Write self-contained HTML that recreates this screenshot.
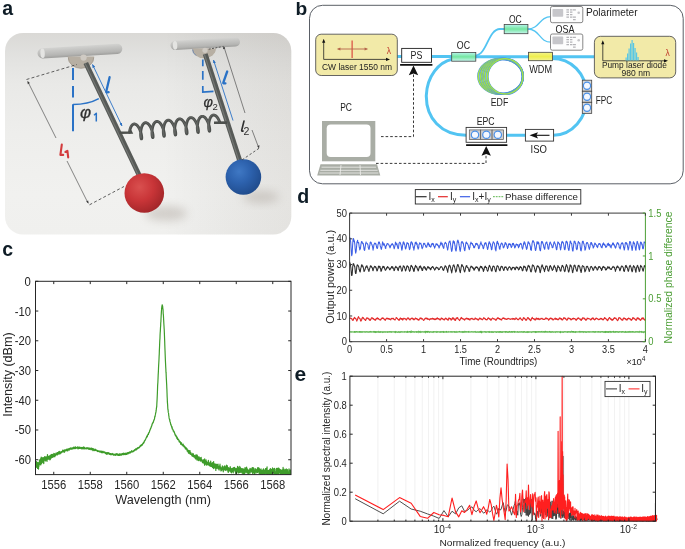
<!DOCTYPE html>
<html><head><meta charset="utf-8"><style>
html,body{margin:0;padding:0;background:#fff;width:685px;height:549px;overflow:hidden}
svg{display:block;font-family:"Liberation Sans", sans-serif;will-change:transform}
</style></head><body>
<svg width="685" height="549" viewBox="0 0 685 549">
<text x="2.2" y="15" font-size="19.5" text-anchor="start" fill="#0e1c26" font-weight="bold">a</text>
<text x="295.5" y="14.5" font-size="19.2" text-anchor="start" fill="#0e1c26" font-weight="bold">b</text>
<text x="2.2" y="256.4" font-size="19.5" text-anchor="start" fill="#0e1c26" font-weight="bold">c</text>
<text x="297.2" y="203.4" font-size="19.6" text-anchor="start" fill="#0e1c26" font-weight="bold">d</text>
<text x="294.6" y="380.5" font-size="21" text-anchor="start" fill="#0e1c26" font-weight="bold">e</text>
<defs>
<linearGradient id="abg" x1="0" y1="0" x2="0" y2="1">
<stop offset="0" stop-color="#dad9d6"/><stop offset="0.12" stop-color="#e2e2e0"/><stop offset="0.25" stop-color="#e9e9e7"/><stop offset="0.5" stop-color="#eeeeec"/><stop offset="0.8" stop-color="#f1f1ef"/><stop offset="1" stop-color="#f0f0ee"/></linearGradient>
<linearGradient id="abg2" x1="0" y1="0" x2="1" y2="0">
<stop offset="0" stop-color="#000" stop-opacity="0"/><stop offset="0.55" stop-color="#000" stop-opacity="0"/><stop offset="1" stop-color="#403020" stop-opacity="0.07"/></linearGradient>
<linearGradient id="bar" x1="0" y1="0" x2="0" y2="1">
<stop offset="0" stop-color="#d3d3d1"/><stop offset="0.3" stop-color="#c6c6c4"/><stop offset="0.75" stop-color="#b5b5b3"/><stop offset="1" stop-color="#9f9f9d"/></linearGradient>
<radialGradient id="redb" cx="0.38" cy="0.35" r="0.7">
<stop offset="0" stop-color="#d9504f"/><stop offset="0.5" stop-color="#c93538"/><stop offset="1" stop-color="#a02528"/></radialGradient>
<radialGradient id="blueb" cx="0.38" cy="0.35" r="0.7">
<stop offset="0" stop-color="#3f78c4"/><stop offset="0.45" stop-color="#2d62ae"/><stop offset="1" stop-color="#1f4a8a"/></radialGradient>
<filter id="blur4" x="-50%" y="-50%" width="200%" height="200%"><feGaussianBlur stdDeviation="4"/></filter>
<filter id="blur5" x="-50%" y="-50%" width="200%" height="200%"><feGaussianBlur stdDeviation="5"/></filter>
<filter id="blur1" x="-50%" y="-50%" width="200%" height="200%"><feGaussianBlur stdDeviation="0.6"/></filter>
<marker id="arrK" viewBox="0 0 10 10" refX="9" refY="5" markerWidth="4" markerHeight="4" orient="auto-start-reverse"><path d="M0,1 L10,5 L0,9 z" fill="#222"/></marker>
<marker id="arrB" viewBox="0 0 10 10" refX="9" refY="5" markerWidth="4" markerHeight="4" orient="auto-start-reverse"><path d="M0,1 L10,5 L0,9 z" fill="#2a6fc0"/></marker>
</defs>
<rect x="5" y="33" width="286.3" height="201.5" rx="18" fill="url(#abg)"/>
<rect x="5" y="33" width="286.3" height="201.5" rx="18" fill="url(#abg2)"/>
<ellipse cx="166" cy="213.5" rx="21" ry="7.5" fill="#8a7f74" opacity="0.3" filter="url(#blur5)"/>
<ellipse cx="261" cy="197" rx="18" ry="6.5" fill="#8a7f74" opacity="0.28" filter="url(#blur5)"/>
<g transform="translate(37.5,53.6) rotate(-3.44)">
<rect x="0" y="-5.1" width="84.95" height="10.2" rx="5.1" fill="url(#bar)"/>
<ellipse cx="5.1" cy="0" rx="2.2" ry="4.8" fill="#e4e4e2"/>
</g>
<g transform="translate(170.5,45.6) rotate(-3.21)">
<rect x="0" y="-4.6" width="69.61" height="9.2" rx="4.6" fill="url(#bar)"/>
<ellipse cx="4.6" cy="0" rx="2.2" ry="4.3" fill="#e4e4e2"/>
</g>
<path d="M67.8,56.5 A13.2,11.8 0 0 0 94.2,56.5 Z" fill="#b7afa3"/>
<path d="M68.3,57.5 A12.7,10.8 0 0 0 93.7,57.5" fill="none" stroke="#a0978b" stroke-width="0.8"/>
<circle cx="83.6" cy="57.6" r="3.1" fill="#cfcac3"/>
<path d="M192.3,48.6 A11.8,9.6 0 0 0 215.9,48.6 Z" fill="#b7afa3"/>
<path d="M192.6,49.5 A11.2,8.5 0 0 0 196,55.5" fill="none" stroke="#5a7aa8" stroke-width="0.8"/>
<circle cx="205" cy="50.3" r="2.6" fill="#cfcac3"/>
<line x1="85.8" y1="63" x2="140.5" y2="178" stroke="#575a57" stroke-width="5"/>
<line x1="84.9" y1="63" x2="139.6" y2="178" stroke="#747774" stroke-width="1.1"/>
<line x1="205.2" y1="54" x2="240.5" y2="163" stroke="#575a57" stroke-width="5"/>
<line x1="204.3" y1="54" x2="239.6" y2="163" stroke="#747774" stroke-width="1.1"/>
<path d="M129.5,132.4 L129.58,131.77 L129.68,131.15 L129.79,130.53 L129.93,129.92 L130.07,129.33 L130.24,128.75 L130.42,128.19 L130.62,127.65 L130.84,127.14 L131.07,126.67 L131.31,126.22 L131.58,125.81 L131.85,125.43 L132.14,125.1 L132.44,124.81 L132.75,124.56 L133.07,124.36 L133.4,124.2 L133.74,124.09 L134.08,124.03 L134.44,124.02 L134.79,124.05 L135.15,124.14 L135.51,124.26 L135.86,124.44 L136.22,124.66 L136.58,124.92 L136.93,125.23 L137.27,125.57 L137.61,125.96 L137.94,126.37 L138.27,126.82 L138.58,127.3 L138.88,127.81 L139.17,128.34 L139.45,128.89 L139.71,129.45 L139.96,130.03 L140.19,130.62 L140.41,131.21 L140.61,131.8 L140.8,132.39 L140.97,132.98 L141.12,133.56 L141.25,134.12 L141.37,134.67 L141.47,135.19 L141.55,135.69 L141.62,136.17 L141.67,136.61 L141.71,137.02 L141.73,137.4 L141.74,137.74 L141.73,138.04 L141.71,138.29 L141.69,138.51 L141.65,138.67 L141.6,138.8 L141.55,138.87 L141.48,138.9 L141.42,138.87 L141.35,138.8 L141.27,138.69 L141.2,138.52 L141.12,138.31 L141.05,138.06 L140.98,137.76 L140.91,137.42 L140.85,137.04 L140.8,136.62 L140.75,136.17 L140.71,135.69 L140.68,135.17 L140.66,134.63 L140.66,134.07 L140.67,133.49 L140.69,132.89 L140.72,132.28 L140.78,131.66 L140.84,131.04 L140.93,130.41 L141.03,129.79 L141.14,129.17 L141.28,128.56 L141.43,127.97 L141.6,127.39 L141.78,126.84 L141.98,126.3 L142.2,125.8 L142.43,125.32 L142.68,124.88 L142.94,124.48 L143.22,124.11 L143.51,123.78 L143.81,123.49 L144.13,123.25 L144.45,123.06 L144.78,122.91 L145.12,122.8 L145.46,122.75 L145.82,122.74 L146.17,122.78 L146.53,122.87 L146.89,123 L147.25,123.19 L147.6,123.41 L147.96,123.68 L148.31,123.99 L148.65,124.34 L148.99,124.73 L149.32,125.15 L149.64,125.6 L149.95,126.09 L150.25,126.6 L150.54,127.13 L150.82,127.68 L151.08,128.25 L151.33,128.83 L151.56,129.42 L151.77,130.01 L151.97,130.6 L152.15,131.19 L152.32,131.78 L152.47,132.35 L152.6,132.91 L152.72,133.46 L152.81,133.98 L152.9,134.48 L152.96,134.95 L153.01,135.39 L153.04,135.8 L153.06,136.17 L153.07,136.5 L153.06,136.79 L153.04,137.04 L153.02,137.25 L152.98,137.41 L152.93,137.53 L152.87,137.6 L152.81,137.62 L152.74,137.59 L152.67,137.51 L152.6,137.39 L152.52,137.22 L152.45,137 L152.37,136.74 L152.3,136.44 L152.24,136.09 L152.18,135.71 L152.12,135.29 L152.08,134.83 L152.04,134.34 L152.01,133.82 L152,133.28 L151.99,132.72 L152,132.13 L152.03,131.53 L152.06,130.92 L152.12,130.3 L152.19,129.67 L152.27,129.05 L152.37,128.42 L152.49,127.81 L152.63,127.2 L152.78,126.61 L152.95,126.04 L153.14,125.48 L153.34,124.95 L153.56,124.45 L153.8,123.98 L154.05,123.55 L154.31,123.14 L154.59,122.78 L154.88,122.46 L155.19,122.18 L155.5,121.94 L155.83,121.75 L156.16,121.61 L156.5,121.51 L156.84,121.46 L157.2,121.46 L157.55,121.51 L157.91,121.6 L158.27,121.75 L158.63,121.93 L158.98,122.17 L159.34,122.44 L159.69,122.76 L160.03,123.11 L160.37,123.5 L160.7,123.93 L161.02,124.39 L161.33,124.87 L161.63,125.39 L161.91,125.92 L162.19,126.48 L162.45,127.04 L162.69,127.63 L162.92,128.21 L163.13,128.81 L163.33,129.4 L163.51,129.99 L163.67,130.58 L163.82,131.15 L163.95,131.71 L164.06,132.25 L164.16,132.77 L164.24,133.26 L164.3,133.73 L164.35,134.17 L164.38,134.57 L164.4,134.93 L164.4,135.26 L164.4,135.55 L164.37,135.8 L164.34,136 L164.3,136.15 L164.25,136.26 L164.2,136.32 L164.13,136.33 L164.07,136.3 L163.99,136.22 L163.92,136.09 L163.85,135.91 L163.77,135.69 L163.7,135.42 L163.63,135.11 L163.56,134.76 L163.5,134.37 L163.45,133.95 L163.4,133.49 L163.37,132.99 L163.34,132.47 L163.33,131.93 L163.33,131.36 L163.34,130.77 L163.36,130.17 L163.4,129.56 L163.46,128.94 L163.53,128.31 L163.62,127.68 L163.72,127.06 L163.84,126.45 L163.98,125.84 L164.14,125.25 L164.31,124.68 L164.5,124.13 L164.71,123.61 L164.93,123.11 L165.16,122.64 L165.42,122.21 L165.68,121.81 L165.96,121.46 L166.26,121.14 L166.56,120.87 L166.88,120.64 L167.2,120.45 L167.54,120.31 L167.88,120.22 L168.22,120.18 L168.58,120.19 L168.93,120.24 L169.29,120.34 L169.65,120.49 L170.01,120.68 L170.36,120.92 L170.72,121.2 L171.07,121.52 L171.41,121.88 L171.75,122.28 L172.07,122.71 L172.39,123.17 L172.7,123.66 L173,124.18 L173.28,124.71 L173.56,125.27 L173.81,125.84 L174.06,126.42 L174.28,127.01 L174.49,127.61 L174.69,128.2 L174.87,128.79 L175.03,129.37 L175.17,129.94 L175.3,130.5 L175.41,131.04 L175.5,131.55 L175.58,132.05 L175.64,132.51 L175.69,132.94 L175.72,133.34 L175.73,133.7 L175.74,134.02 L175.73,134.31 L175.7,134.54 L175.67,134.74 L175.63,134.89 L175.58,134.99 L175.52,135.05 L175.46,135.05 L175.39,135.01 L175.32,134.92 L175.24,134.79 L175.17,134.6 L175.09,134.38 L175.02,134.1 L174.95,133.79 L174.89,133.43 L174.83,133.04 L174.78,132.61 L174.73,132.14 L174.7,131.65 L174.67,131.12 L174.66,130.57 L174.66,130 L174.67,129.41 L174.7,128.81 L174.74,128.19 L174.8,127.57 L174.87,126.95 L174.96,126.32 L175.07,125.7 L175.19,125.09 L175.34,124.48 L175.49,123.9 L175.67,123.33 L175.86,122.78 L176.07,122.26 L176.29,121.76 L176.53,121.3 L176.79,120.88 L177.05,120.48 L177.34,120.13 L177.63,119.82 L177.94,119.55 L178.25,119.33 L178.58,119.15 L178.91,119.02 L179.26,118.94 L179.6,118.9 L179.96,118.91 L180.31,118.97 L180.67,119.08 L181.03,119.23 L181.39,119.43 L181.74,119.67 L182.1,119.96 L182.45,120.29 L182.79,120.65 L183.12,121.05 L183.45,121.49 L183.77,121.95 L184.08,122.45 L184.37,122.97 L184.65,123.51 L184.92,124.07 L185.18,124.64 L185.42,125.22 L185.65,125.81 L185.85,126.41 L186.05,127 L186.22,127.59 L186.38,128.17 L186.52,128.74 L186.65,129.29 L186.76,129.83 L186.85,130.34 L186.92,130.83 L186.98,131.29 L187.03,131.72 L187.05,132.11 L187.07,132.47 L187.07,132.78 L187.06,133.06 L187.03,133.29 L187,133.48 L186.96,133.62 L186.91,133.72 L186.85,133.77 L186.78,133.77 L186.71,133.72 L186.64,133.63 L186.57,133.49 L186.49,133.3 L186.42,133.06 L186.35,132.78 L186.28,132.46 L186.21,132.1 L186.15,131.7 L186.1,131.27 L186.06,130.8 L186.03,130.3 L186,129.77 L185.99,129.22 L185.99,128.64 L186.01,128.05 L186.04,127.45 L186.08,126.83 L186.14,126.21 L186.22,125.58 L186.31,124.96 L186.42,124.34 L186.55,123.72 L186.69,123.12 L186.85,122.54 L187.03,121.97 L187.22,121.43 L187.43,120.91 L187.66,120.42 L187.9,119.96 L188.15,119.54 L188.42,119.15 L188.71,118.81 L189,118.5 L189.31,118.24 L189.63,118.02 L189.96,117.85 L190.29,117.73 L190.64,117.65 L190.98,117.62 L191.34,117.64 L191.69,117.7 L192.05,117.82 L192.41,117.98 L192.77,118.18 L193.13,118.43 L193.48,118.72 L193.83,119.05 L194.17,119.42 L194.5,119.83 L194.83,120.27 L195.14,120.74 L195.45,121.24 L195.74,121.76 L196.02,122.3 L196.29,122.86 L196.55,123.44 L196.78,124.02 L197.01,124.61 L197.21,125.2 L197.4,125.8 L197.58,126.39 L197.74,126.97 L197.88,127.53 L198,128.09 L198.1,128.62 L198.19,129.13 L198.27,129.61 L198.32,130.07 L198.36,130.49 L198.39,130.88 L198.4,131.23 L198.4,131.54 L198.39,131.81 L198.36,132.04 L198.33,132.22 L198.28,132.36 L198.23,132.45 L198.17,132.49 L198.11,132.49 L198.04,132.43 L197.96,132.33 L197.89,132.18 L197.82,131.99 L197.74,131.75 L197.67,131.46 L197.6,131.14 L197.54,130.77 L197.48,130.37 L197.43,129.93 L197.39,129.45 L197.36,128.95 L197.34,128.42 L197.33,127.86 L197.33,127.29 L197.35,126.69 L197.38,126.09 L197.42,125.47 L197.49,124.85 L197.56,124.22 L197.66,123.59 L197.77,122.97 L197.9,122.36 L198.04,121.76 L198.2,121.18 L198.38,120.62 L198.58,120.08 L198.79,119.56 L199.02,119.08 L199.26,118.63 L199.52,118.21 L199.79,117.83 L200.08,117.48 L200.38,117.18 L200.69,116.93 L201.01,116.72 L201.33,116.55 L201.67,116.43 L202.02,116.36 L202.36,116.34 L202.72,116.36 L203.08,116.43 L203.43,116.55 L203.79,116.72 L204.15,116.93 L204.51,117.19 L204.86,117.48 L205.2,117.82 L205.55,118.2 L205.88,118.61 L206.2,119.05 L206.52,119.52 L206.82,120.02 L207.11,120.55 L207.39,121.09 L207.66,121.66 L207.91,122.23 L208.15,122.82 L208.37,123.41 L208.57,124 L208.76,124.6 L208.93,125.18 L209.09,125.76 L209.23,126.33 L209.35,126.88 L209.45,127.41 L209.54,127.91 L209.61,128.39 L209.66,128.85 L209.7,129.26 L209.73,129.65 L209.74,129.99 L209.73,130.3 L209.72,130.57 L209.69,130.79 L209.66,130.96 L209.61,131.09 L209.56,131.18 L209.5,131.21 L209.43,131.2 L209.36,131.14 L209.29,131.03 L209.21,130.88 L209.14,130.68 L209.06,130.43 L208.99,130.14 L208.93,129.81 L208.86,129.44 L208.81,129.03 L208.76,128.58 L208.72,128.11 L208.69,127.6 L208.67,127.06 L208.66,126.51 L208.66,125.93 L208.68,125.33 L208.72,124.72 L208.76,124.11 L208.83,123.48 L208.91,122.86 L209.01,122.23 L209.12,121.61 L209.25,121 L209.4,120.41 L209.56,119.83 L209.74,119.26 L209.94,118.73 L210.15,118.22 L210.39,117.74 L210.63,117.29 L210.89,116.87 L211.16,116.5 L211.45,116.16 L211.75,115.87 L212.06,115.62 L212.38,115.41 L212.71,115.25 L213.05,115.14 L213.4,115.08 L213.75,115.06 L214.1,115.09 L214.46,115.17 L214.81,115.29 L215.17,115.47 L215.53,115.68 L215.89,115.94 L216.24,116.25 L216.58,116.59 L216.92,116.97 L217.26,117.38 L217.58,117.83 L217.89,118.31 L218.2,118.81 L218.49,119.34 L218.76,119.89 L219.03,120.45 L219.28,121.03 L219.51,121.62 L219.73,122.21" fill="none" stroke="#4d504d" stroke-width="2.9" stroke-linejoin="round" stroke-linecap="round"/>
<path d="M129.5,132.4 L129.58,131.77 L129.68,131.15 L129.79,130.53 L129.93,129.92 L130.07,129.33 L130.24,128.75 L130.42,128.19 L130.62,127.65 L130.84,127.14 L131.07,126.67 L131.31,126.22 L131.58,125.81 L131.85,125.43 L132.14,125.1 L132.44,124.81 L132.75,124.56 L133.07,124.36 L133.4,124.2 L133.74,124.09 L134.08,124.03 L134.44,124.02 L134.79,124.05 L135.15,124.14 L135.51,124.26 L135.86,124.44 L136.22,124.66 L136.58,124.92 L136.93,125.23 L137.27,125.57 L137.61,125.96 L137.94,126.37 L138.27,126.82 L138.58,127.3 L138.88,127.81 L139.17,128.34 L139.45,128.89 L139.71,129.45 L139.96,130.03 L140.19,130.62 L140.41,131.21 L140.61,131.8 L140.8,132.39 L140.97,132.98 L141.12,133.56 L141.25,134.12 L141.37,134.67 L141.47,135.19 L141.55,135.69 L141.62,136.17 L141.67,136.61 L141.71,137.02 L141.73,137.4 L141.74,137.74 L141.73,138.04 L141.71,138.29 L141.69,138.51 L141.65,138.67 L141.6,138.8 L141.55,138.87 L141.48,138.9 L141.42,138.87 L141.35,138.8 L141.27,138.69 L141.2,138.52 L141.12,138.31 L141.05,138.06 L140.98,137.76 L140.91,137.42 L140.85,137.04 L140.8,136.62 L140.75,136.17 L140.71,135.69 L140.68,135.17 L140.66,134.63 L140.66,134.07 L140.67,133.49 L140.69,132.89 L140.72,132.28 L140.78,131.66 L140.84,131.04 L140.93,130.41 L141.03,129.79 L141.14,129.17 L141.28,128.56 L141.43,127.97 L141.6,127.39 L141.78,126.84 L141.98,126.3 L142.2,125.8 L142.43,125.32 L142.68,124.88 L142.94,124.48 L143.22,124.11 L143.51,123.78 L143.81,123.49 L144.13,123.25 L144.45,123.06 L144.78,122.91 L145.12,122.8 L145.46,122.75 L145.82,122.74 L146.17,122.78 L146.53,122.87 L146.89,123 L147.25,123.19 L147.6,123.41 L147.96,123.68 L148.31,123.99 L148.65,124.34 L148.99,124.73 L149.32,125.15 L149.64,125.6 L149.95,126.09 L150.25,126.6 L150.54,127.13 L150.82,127.68 L151.08,128.25 L151.33,128.83 L151.56,129.42 L151.77,130.01 L151.97,130.6 L152.15,131.19 L152.32,131.78 L152.47,132.35 L152.6,132.91 L152.72,133.46 L152.81,133.98 L152.9,134.48 L152.96,134.95 L153.01,135.39 L153.04,135.8 L153.06,136.17 L153.07,136.5 L153.06,136.79 L153.04,137.04 L153.02,137.25 L152.98,137.41 L152.93,137.53 L152.87,137.6 L152.81,137.62 L152.74,137.59 L152.67,137.51 L152.6,137.39 L152.52,137.22 L152.45,137 L152.37,136.74 L152.3,136.44 L152.24,136.09 L152.18,135.71 L152.12,135.29 L152.08,134.83 L152.04,134.34 L152.01,133.82 L152,133.28 L151.99,132.72 L152,132.13 L152.03,131.53 L152.06,130.92 L152.12,130.3 L152.19,129.67 L152.27,129.05 L152.37,128.42 L152.49,127.81 L152.63,127.2 L152.78,126.61 L152.95,126.04 L153.14,125.48 L153.34,124.95 L153.56,124.45 L153.8,123.98 L154.05,123.55 L154.31,123.14 L154.59,122.78 L154.88,122.46 L155.19,122.18 L155.5,121.94 L155.83,121.75 L156.16,121.61 L156.5,121.51 L156.84,121.46 L157.2,121.46 L157.55,121.51 L157.91,121.6 L158.27,121.75 L158.63,121.93 L158.98,122.17 L159.34,122.44 L159.69,122.76 L160.03,123.11 L160.37,123.5 L160.7,123.93 L161.02,124.39 L161.33,124.87 L161.63,125.39 L161.91,125.92 L162.19,126.48 L162.45,127.04 L162.69,127.63 L162.92,128.21 L163.13,128.81 L163.33,129.4 L163.51,129.99 L163.67,130.58 L163.82,131.15 L163.95,131.71 L164.06,132.25 L164.16,132.77 L164.24,133.26 L164.3,133.73 L164.35,134.17 L164.38,134.57 L164.4,134.93 L164.4,135.26 L164.4,135.55 L164.37,135.8 L164.34,136 L164.3,136.15 L164.25,136.26 L164.2,136.32 L164.13,136.33 L164.07,136.3 L163.99,136.22 L163.92,136.09 L163.85,135.91 L163.77,135.69 L163.7,135.42 L163.63,135.11 L163.56,134.76 L163.5,134.37 L163.45,133.95 L163.4,133.49 L163.37,132.99 L163.34,132.47 L163.33,131.93 L163.33,131.36 L163.34,130.77 L163.36,130.17 L163.4,129.56 L163.46,128.94 L163.53,128.31 L163.62,127.68 L163.72,127.06 L163.84,126.45 L163.98,125.84 L164.14,125.25 L164.31,124.68 L164.5,124.13 L164.71,123.61 L164.93,123.11 L165.16,122.64 L165.42,122.21 L165.68,121.81 L165.96,121.46 L166.26,121.14 L166.56,120.87 L166.88,120.64 L167.2,120.45 L167.54,120.31 L167.88,120.22 L168.22,120.18 L168.58,120.19 L168.93,120.24 L169.29,120.34 L169.65,120.49 L170.01,120.68 L170.36,120.92 L170.72,121.2 L171.07,121.52 L171.41,121.88 L171.75,122.28 L172.07,122.71 L172.39,123.17 L172.7,123.66 L173,124.18 L173.28,124.71 L173.56,125.27 L173.81,125.84 L174.06,126.42 L174.28,127.01 L174.49,127.61 L174.69,128.2 L174.87,128.79 L175.03,129.37 L175.17,129.94 L175.3,130.5 L175.41,131.04 L175.5,131.55 L175.58,132.05 L175.64,132.51 L175.69,132.94 L175.72,133.34 L175.73,133.7 L175.74,134.02 L175.73,134.31 L175.7,134.54 L175.67,134.74 L175.63,134.89 L175.58,134.99 L175.52,135.05 L175.46,135.05 L175.39,135.01 L175.32,134.92 L175.24,134.79 L175.17,134.6 L175.09,134.38 L175.02,134.1 L174.95,133.79 L174.89,133.43 L174.83,133.04 L174.78,132.61 L174.73,132.14 L174.7,131.65 L174.67,131.12 L174.66,130.57 L174.66,130 L174.67,129.41 L174.7,128.81 L174.74,128.19 L174.8,127.57 L174.87,126.95 L174.96,126.32 L175.07,125.7 L175.19,125.09 L175.34,124.48 L175.49,123.9 L175.67,123.33 L175.86,122.78 L176.07,122.26 L176.29,121.76 L176.53,121.3 L176.79,120.88 L177.05,120.48 L177.34,120.13 L177.63,119.82 L177.94,119.55 L178.25,119.33 L178.58,119.15 L178.91,119.02 L179.26,118.94 L179.6,118.9 L179.96,118.91 L180.31,118.97 L180.67,119.08 L181.03,119.23 L181.39,119.43 L181.74,119.67 L182.1,119.96 L182.45,120.29 L182.79,120.65 L183.12,121.05 L183.45,121.49 L183.77,121.95 L184.08,122.45 L184.37,122.97 L184.65,123.51 L184.92,124.07 L185.18,124.64 L185.42,125.22 L185.65,125.81 L185.85,126.41 L186.05,127 L186.22,127.59 L186.38,128.17 L186.52,128.74 L186.65,129.29 L186.76,129.83 L186.85,130.34 L186.92,130.83 L186.98,131.29 L187.03,131.72 L187.05,132.11 L187.07,132.47 L187.07,132.78 L187.06,133.06 L187.03,133.29 L187,133.48 L186.96,133.62 L186.91,133.72 L186.85,133.77 L186.78,133.77 L186.71,133.72 L186.64,133.63 L186.57,133.49 L186.49,133.3 L186.42,133.06 L186.35,132.78 L186.28,132.46 L186.21,132.1 L186.15,131.7 L186.1,131.27 L186.06,130.8 L186.03,130.3 L186,129.77 L185.99,129.22 L185.99,128.64 L186.01,128.05 L186.04,127.45 L186.08,126.83 L186.14,126.21 L186.22,125.58 L186.31,124.96 L186.42,124.34 L186.55,123.72 L186.69,123.12 L186.85,122.54 L187.03,121.97 L187.22,121.43 L187.43,120.91 L187.66,120.42 L187.9,119.96 L188.15,119.54 L188.42,119.15 L188.71,118.81 L189,118.5 L189.31,118.24 L189.63,118.02 L189.96,117.85 L190.29,117.73 L190.64,117.65 L190.98,117.62 L191.34,117.64 L191.69,117.7 L192.05,117.82 L192.41,117.98 L192.77,118.18 L193.13,118.43 L193.48,118.72 L193.83,119.05 L194.17,119.42 L194.5,119.83 L194.83,120.27 L195.14,120.74 L195.45,121.24 L195.74,121.76 L196.02,122.3 L196.29,122.86 L196.55,123.44 L196.78,124.02 L197.01,124.61 L197.21,125.2 L197.4,125.8 L197.58,126.39 L197.74,126.97 L197.88,127.53 L198,128.09 L198.1,128.62 L198.19,129.13 L198.27,129.61 L198.32,130.07 L198.36,130.49 L198.39,130.88 L198.4,131.23 L198.4,131.54 L198.39,131.81 L198.36,132.04 L198.33,132.22 L198.28,132.36 L198.23,132.45 L198.17,132.49 L198.11,132.49 L198.04,132.43 L197.96,132.33 L197.89,132.18 L197.82,131.99 L197.74,131.75 L197.67,131.46 L197.6,131.14 L197.54,130.77 L197.48,130.37 L197.43,129.93 L197.39,129.45 L197.36,128.95 L197.34,128.42 L197.33,127.86 L197.33,127.29 L197.35,126.69 L197.38,126.09 L197.42,125.47 L197.49,124.85 L197.56,124.22 L197.66,123.59 L197.77,122.97 L197.9,122.36 L198.04,121.76 L198.2,121.18 L198.38,120.62 L198.58,120.08 L198.79,119.56 L199.02,119.08 L199.26,118.63 L199.52,118.21 L199.79,117.83 L200.08,117.48 L200.38,117.18 L200.69,116.93 L201.01,116.72 L201.33,116.55 L201.67,116.43 L202.02,116.36 L202.36,116.34 L202.72,116.36 L203.08,116.43 L203.43,116.55 L203.79,116.72 L204.15,116.93 L204.51,117.19 L204.86,117.48 L205.2,117.82 L205.55,118.2 L205.88,118.61 L206.2,119.05 L206.52,119.52 L206.82,120.02 L207.11,120.55 L207.39,121.09 L207.66,121.66 L207.91,122.23 L208.15,122.82 L208.37,123.41 L208.57,124 L208.76,124.6 L208.93,125.18 L209.09,125.76 L209.23,126.33 L209.35,126.88 L209.45,127.41 L209.54,127.91 L209.61,128.39 L209.66,128.85 L209.7,129.26 L209.73,129.65 L209.74,129.99 L209.73,130.3 L209.72,130.57 L209.69,130.79 L209.66,130.96 L209.61,131.09 L209.56,131.18 L209.5,131.21 L209.43,131.2 L209.36,131.14 L209.29,131.03 L209.21,130.88 L209.14,130.68 L209.06,130.43 L208.99,130.14 L208.93,129.81 L208.86,129.44 L208.81,129.03 L208.76,128.58 L208.72,128.11 L208.69,127.6 L208.67,127.06 L208.66,126.51 L208.66,125.93 L208.68,125.33 L208.72,124.72 L208.76,124.11 L208.83,123.48 L208.91,122.86 L209.01,122.23 L209.12,121.61 L209.25,121 L209.4,120.41 L209.56,119.83 L209.74,119.26 L209.94,118.73 L210.15,118.22 L210.39,117.74 L210.63,117.29 L210.89,116.87 L211.16,116.5 L211.45,116.16 L211.75,115.87 L212.06,115.62 L212.38,115.41 L212.71,115.25 L213.05,115.14 L213.4,115.08 L213.75,115.06 L214.1,115.09 L214.46,115.17 L214.81,115.29 L215.17,115.47 L215.53,115.68 L215.89,115.94 L216.24,116.25 L216.58,116.59 L216.92,116.97 L217.26,117.38 L217.58,117.83 L217.89,118.31 L218.2,118.81 L218.49,119.34 L218.76,119.89 L219.03,120.45 L219.28,121.03 L219.51,121.62 L219.73,122.21" fill="none" stroke="#6e716e" stroke-width="0.8" transform="translate(-0.4,-0.5)"/>
<path d="M119.5,132.8 L131.2,132.6 L130.2,130.5" stroke="#4d504d" stroke-width="2.6" fill="none"/>
<line x1="214" y1="122.7" x2="227" y2="122.6" stroke="#4d504d" stroke-width="2.6"/>
<circle cx="144.3" cy="193" r="19.8" fill="url(#redb)"/>
<circle cx="243.4" cy="177" r="17.8" fill="url(#blueb)"/>
<path d="M26.5,79.5 L77,64.5" stroke="#3a3a3a" stroke-width="0.8" stroke-dasharray="3,2.2" fill="none"/>
<path d="M89.5,204.8 L124,186.5" stroke="#3a3a3a" stroke-width="0.8" stroke-dasharray="3,2.2" fill="none"/>
<line x1="28" y1="82" x2="56" y2="138" stroke="#3a3a3a" stroke-width="0.6"/>
<line x1="67" y1="161" x2="88" y2="203" stroke="#3a3a3a" stroke-width="0.6"/>
<path d="M27.4,80.8 l0.4,3.4 l2,-1.2 z" fill="#3a3a3a"/>
<path d="M88.6,203.8 l-0.4,-3.4 l-2,1.2 z" fill="#3a3a3a"/>
<line x1="224" y1="47" x2="245" y2="113" stroke="#3a3a3a" stroke-width="0.6"/>
<line x1="252" y1="130" x2="258.6" y2="147.5" stroke="#3a3a3a" stroke-width="0.6"/>
<path d="M223.6,45.8 l-0.6,3.4 l2.2,-0.6 z" fill="#3a3a3a"/>
<path d="M259,148.6 l0.5,-3.4 l-2.2,0.7 z" fill="#3a3a3a"/>
<path d="M259,148.3 L240.5,161" stroke="#3a3a3a" stroke-width="0.8" stroke-dasharray="2.5,2" fill="none"/>
<path d="M208.7,49.2 L222.5,46.6" stroke="#3a3a3a" stroke-width="0.8" stroke-dasharray="2,1.4" fill="none"/>
<path d="M73,68 V80 M73,86 V97.5 M73,104.3 V131.2" stroke="#2a72c6" stroke-width="2" fill="none"/>
<path d="M73,104.5 Q88,104.5 98.8,98.6" stroke="#2a72c6" stroke-width="1.6" fill="none"/>
<path d="M202.8,59.5 V66.2 M202.8,71 V79.7 M202.8,85.9 V92.2 L213.5,91.4" stroke="#2a72c6" stroke-width="1.7" fill="none"/>
<line x1="92.5" y1="64.5" x2="122" y2="126" stroke="#2a72c6" stroke-width="0.9" marker-start="url(#arrB)" marker-end="url(#arrB)"/>
<line x1="213.5" y1="60" x2="233" y2="120.5" stroke="#2a72c6" stroke-width="0.9" marker-start="url(#arrB)"/>
<path d="M109.6,77.2 L106.3,91.2 Q106,92.6 108.6,92.2" stroke="#2a72c6" stroke-width="2.3" fill="none" stroke-linecap="round" stroke-linejoin="round"/>
<path d="M227.2,71.5 L223.3,82.6 Q222.9,83.8 225.4,83.3" stroke="#2a72c6" stroke-width="2.3" fill="none" stroke-linecap="round" stroke-linejoin="round"/>
<text x="80" y="117.6" font-size="17" fill="#2f2f2f" font-style="italic" stroke="#2f2f2f" stroke-width="0.3">&#966;</text>
<path d="M94,115.3 L96.3,113.3 V121.4" stroke="#2a72c6" stroke-width="1.5" fill="none" stroke-linejoin="round"/>
<text x="203.6" y="107.2" font-size="14.5" fill="#2f2f2f" font-style="italic" stroke="#2f2f2f" stroke-width="0.25">&#966;<tspan font-size="9.6" dy="3" dx="-0.6" font-style="normal" stroke="none">2</tspan></text>
<path d="M61.8,144.6 L60.4,154.9 L63.2,154.9 M65.4,152 L67.4,150.8 L68.2,157.4" stroke="#d33c3e" stroke-width="2.1" fill="none" stroke-linecap="round" stroke-linejoin="round"/>
<path d="M244,121 L241.7,130.2 Q241.4,131.5 243.1,131" stroke="#2f2f2f" stroke-width="1.6" fill="none" stroke-linecap="round"/>
<text x="243.4" y="134.6" font-size="10.6" fill="#2f2f2f">2</text>
<rect x="309.5" y="5.3" width="373.7" height="178.5" rx="13" fill="#fff" stroke="#5a5f66" stroke-width="1"/>
<path d="M397,56.6 L402,56.6 M431.5,56.6 L452,56.6 M475,56.8 L594.5,56.8 M452,59.2 C439,62 427,76 426.3,95.5 C426,118 441,135.2 466,135.2 L525.5,135.2 M553.5,135.2 C572,135.2 587,118 587,97 C587,72 570,58.5 552,58.5" fill="none" stroke="#52c4f2" stroke-width="3" />
<path d="M475.5,55.6 C487,55 488,29 500,29 L505,29" fill="none" stroke="#52c4f2" stroke-width="1.8"/>
<path d="M527.5,29 C540,29 539,16.7 551,16.7 M527.5,29 C540,29 539,42.2 551,42.2" fill="none" stroke="#52c4f2" stroke-width="1.3"/>
<defs>
<linearGradient id="ocg" x1="0" y1="0" x2="0" y2="1"><stop offset="0" stop-color="#b9f5ee"/><stop offset="0.5" stop-color="#74e6a0"/><stop offset="1" stop-color="#c8f6f0"/></linearGradient>
<linearGradient id="wdmg" x1="0" y1="0" x2="0" y2="1"><stop offset="0" stop-color="#f4f48a"/><stop offset="0.5" stop-color="#eeee50"/><stop offset="1" stop-color="#f4f490"/></linearGradient>
</defs>
<rect x="315.7" y="34.2" width="81.6" height="41.3" rx="5.5" fill="#f2eaa8" stroke="#555" stroke-width="0.9"/>
<rect x="594.4" y="36.3" width="81.3" height="41.6" rx="6" fill="#f2eaa8" stroke="#555" stroke-width="0.9"/>
<path d="M323.7,41 L323.7,59.4 L388,59.4" fill="none" stroke="#222" stroke-width="0.8"/>
<path d="M323.7,38.8 l-1.6,4 l3.2,0 z M390,59.4 l-4,-1.6 l0,3.2 z" fill="#111"/>
<line x1="352.1" y1="40.5" x2="352.1" y2="58" stroke="#d42a2a" stroke-width="1"/>
<line x1="338.5" y1="49" x2="366.5" y2="49" stroke="#b5654a" stroke-width="0.9"/>
<path d="M336.8,49 l3.6,-1.6 l0,3.2 z M368.2,49 l-3.6,-1.6 l0,3.2 z" fill="#b5654a"/>
<text x="386.8" y="54" font-size="8.5" text-anchor="start" fill="#c0392b">&#955;</text>
<text x="357" y="69.8" font-size="8.4" text-anchor="middle" fill="#222" textLength="70" lengthAdjust="spacingAndGlyphs">CW laser 1550 nm</text>
<path d="M602.8,42.5 L602.8,60.8 L666,60.8" fill="none" stroke="#222" stroke-width="0.8"/>
<path d="M602.8,40.3 l-1.6,4 l3.2,0 z M668,60.8 l-4,-1.6 l0,3.2 z" fill="#111"/>
<path d="M626.1,60.5 L626.1,57.5 M627.6,60.5 L627.6,53.5 M629.1,60.5 L629.1,48.5 M630.6,60.5 L630.6,43.5 M632.1,60.5 L632.1,40 M633.6,60.5 L633.6,43 M635.1,60.5 L635.1,48 M636.6,60.5 L636.6,52.5 M638.1,60.5 L638.1,57" stroke="#55c6e6" stroke-width="1.15" fill="none"/>
<text x="665.6" y="56.3" font-size="8.5" text-anchor="start" fill="#c0392b">&#955;</text>
<text x="634.4" y="68.2" font-size="8.4" text-anchor="middle" fill="#222" textLength="65" lengthAdjust="spacingAndGlyphs">Pump laser diode</text>
<text x="635.8" y="75.8" font-size="8.4" text-anchor="middle" fill="#222" textLength="28.4" lengthAdjust="spacingAndGlyphs">980 nm</text>
<rect x="401.7" y="48.4" width="29.8" height="13.9" fill="#fff" stroke="#222" stroke-width="0.9"/>
<text x="416.5" y="58.9" font-size="10.6" text-anchor="middle" fill="#222" textLength="11.8" lengthAdjust="spacingAndGlyphs">PS</text>
<line x1="400.1" y1="64.9" x2="432.4" y2="64.9" stroke="#111" stroke-width="1.7"/>
<path d="M413.5,65.6 L418.2,75.2 L413.5,73.4 L408.8,75.2 Z" fill="#111"/>
<rect x="451.7" y="52.4" width="24.1" height="8.8" fill="url(#ocg)" stroke="#444" stroke-width="0.8"/>
<rect x="504.2" y="24.4" width="23.7" height="9.3" fill="url(#ocg)" stroke="#444" stroke-width="0.8"/>
<text x="463.4" y="48.6" font-size="10.4" text-anchor="middle" fill="#222" textLength="13.2" lengthAdjust="spacingAndGlyphs">OC</text>
<text x="515.3" y="22.9" font-size="10.4" text-anchor="middle" fill="#222" textLength="12.8" lengthAdjust="spacingAndGlyphs">OC</text>
<rect x="528.5" y="52.3" width="24.1" height="8.4" fill="url(#wdmg)" stroke="#444" stroke-width="0.8"/>
<text x="540.6" y="73.3" font-size="10.2" text-anchor="middle" fill="#222" textLength="22.8" lengthAdjust="spacingAndGlyphs">WDM</text>
<ellipse cx="500.6" cy="76.4" rx="22.3" ry="17.6" fill="none" stroke="#4a8fe6" stroke-width="2.2"/>
<ellipse cx="500.6" cy="76.4" rx="22.3" ry="17.6" fill="none" stroke="#a4e444" stroke-width="1.4"/>
<ellipse cx="501.75" cy="76.4" rx="21.15" ry="17.6" fill="none" stroke="#4a8fe6" stroke-width="2.2"/>
<ellipse cx="501.75" cy="76.4" rx="21.15" ry="17.6" fill="none" stroke="#a4e444" stroke-width="1.4"/>
<ellipse cx="502.9" cy="76.4" rx="20" ry="17.6" fill="none" stroke="#4a8fe6" stroke-width="2.2"/>
<ellipse cx="502.9" cy="76.4" rx="20" ry="17.6" fill="none" stroke="#a4e444" stroke-width="1.4"/>
<ellipse cx="504.05" cy="76.4" rx="18.85" ry="17.6" fill="none" stroke="#4a8fe6" stroke-width="2.2"/>
<ellipse cx="504.05" cy="76.4" rx="18.85" ry="17.6" fill="none" stroke="#a4e444" stroke-width="1.4"/>
<ellipse cx="505.2" cy="76.4" rx="17.7" ry="17.6" fill="none" stroke="#4a8fe6" stroke-width="2.2"/>
<ellipse cx="505.2" cy="76.4" rx="17.7" ry="17.6" fill="none" stroke="#a4e444" stroke-width="1.4"/>
<text x="499.5" y="105.9" font-size="10" text-anchor="middle" fill="#222" textLength="17.5" lengthAdjust="spacingAndGlyphs">EDF</text>
<rect x="550.5" y="6.5" width="32.3" height="16.2" rx="1.8" fill="#fdfdfd" stroke="#7a7a7a" stroke-width="0.9"/>
<rect x="552.5" y="8.9" width="10.7" height="7.9" rx="0.8" fill="#c6c6ca"/>
<path d="M566.4,9.8 h2.6 M570,9.8 h2.4 M572.9,9.8 h3 M566.4,12.1 h2.6 M570,12.1 h2.4 M566.4,14.7 h2.6 M570,14.7 h2.4 M566.4,17.1 h2.6 M570,17.1 h2.4 M572.9,17.1 h3 M573,19.6 h2.7" stroke="#b4b4b8" stroke-width="1.3" fill="none"/>
<circle cx="578.7" cy="12.8" r="1.3" fill="#c4c4c8"/>
<rect x="550.5" y="34" width="32.3" height="16.2" rx="1.8" fill="#fdfdfd" stroke="#7a7a7a" stroke-width="0.9"/>
<rect x="552.5" y="36.4" width="10.7" height="7.9" rx="0.8" fill="#c6c6ca"/>
<path d="M566.4,37.3 h2.6 M570,37.3 h2.4 M572.9,37.3 h3 M566.4,39.6 h2.6 M570,39.6 h2.4 M566.4,42.2 h2.6 M570,42.2 h2.4 M566.4,44.6 h2.6 M570,44.6 h2.4 M572.9,44.6 h3 M573,47.1 h2.7" stroke="#b4b4b8" stroke-width="1.3" fill="none"/>
<circle cx="578.7" cy="40.3" r="1.3" fill="#c4c4c8"/>
<text x="586" y="16.3" font-size="10.2" text-anchor="start" fill="#222" textLength="51.5" lengthAdjust="spacingAndGlyphs">Polarimeter</text>
<text x="565" y="32.8" font-size="10.6" text-anchor="middle" fill="#222" textLength="19" lengthAdjust="spacingAndGlyphs">OSA</text>
<rect x="582.3" y="80.2" width="9.4" height="11.05" fill="#d8d8d8" stroke="#444" stroke-width="0.8"/>
<circle cx="587" cy="85.7" r="3.6" fill="#f4f8ff" stroke="#4a90e8" stroke-width="1.2"/>
<rect x="582.3" y="91.25" width="9.4" height="11.05" fill="#d8d8d8" stroke="#444" stroke-width="0.8"/>
<circle cx="587" cy="96.75" r="3.6" fill="#f4f8ff" stroke="#4a90e8" stroke-width="1.2"/>
<rect x="582.3" y="102.3" width="9.4" height="11.05" fill="#d8d8d8" stroke="#444" stroke-width="0.8"/>
<circle cx="587" cy="107.8" r="3.6" fill="#f4f8ff" stroke="#4a90e8" stroke-width="1.2"/>
<text x="595.7" y="103.6" font-size="10.3" text-anchor="start" fill="#222" textLength="16.4" lengthAdjust="spacingAndGlyphs">FPC</text>
<rect x="466.1" y="127.4" width="40.5" height="14.9" fill="#fff" stroke="#333" stroke-width="0.9"/>
<rect x="469.3" y="129.9" width="11.4" height="9.7" fill="#d0d0d0" stroke="#555" stroke-width="0.7"/>
<circle cx="475" cy="134.75" r="3.7" fill="#f4f8ff" stroke="#4a90e8" stroke-width="1.2"/>
<rect x="480.7" y="129.9" width="11.4" height="9.7" fill="#d0d0d0" stroke="#555" stroke-width="0.7"/>
<circle cx="486.4" cy="134.75" r="3.7" fill="#f4f8ff" stroke="#4a90e8" stroke-width="1.2"/>
<rect x="492.1" y="129.9" width="11.4" height="9.7" fill="#d0d0d0" stroke="#555" stroke-width="0.7"/>
<circle cx="497.8" cy="134.75" r="3.7" fill="#f4f8ff" stroke="#4a90e8" stroke-width="1.2"/>
<line x1="466.1" y1="145.1" x2="507.4" y2="145.1" stroke="#111" stroke-width="1.7"/>
<path d="M486.2,146 L490.9,155.8 L486.2,154 L481.5,155.8 Z" fill="#111"/>
<text x="485.7" y="124.8" font-size="10.2" text-anchor="middle" fill="#222" textLength="17.9" lengthAdjust="spacingAndGlyphs">EPC</text>
<rect x="525.4" y="129.4" width="28.2" height="11.7" fill="#fff" stroke="#333" stroke-width="0.9"/>
<line x1="534" y1="135.3" x2="549.5" y2="135.3" stroke="#111" stroke-width="1.1"/>
<path d="M529.5,135.3 L538,132.2 L536.4,135.3 L538,138.4 Z" fill="#111"/>
<text x="538.7" y="153" font-size="10.2" text-anchor="middle" fill="#222" textLength="16.4" lengthAdjust="spacingAndGlyphs">ISO</text>
<text x="346.1" y="110.5" font-size="10.5" text-anchor="middle" fill="#222" textLength="11.8" lengthAdjust="spacingAndGlyphs">PC</text>
<rect x="322" y="121" width="53.3" height="40.3" fill="#a9ada5"/>
<rect x="326.7" y="124.4" width="43.8" height="32.6" rx="4" fill="#fff"/>
<path d="M320.5,164.2 L377,164.2 L380.3,175.5 L317.2,175.5 Z" fill="#a9ada5"/>
<path d="M321.5,167.2 L376,167.2 M320.3,170.3 L377.6,170.3 M319.4,173 L378.4,173 M341,165 L340,175 M360,165 L360.5,175" stroke="#f0f0ee" stroke-width="0.8" fill="none"/>
<path d="M381,136.6 L413.5,136.6 L413.5,74" fill="none" stroke="#222" stroke-width="0.9" stroke-dasharray="2.6,2"/>
<path d="M376,163.4 L486,163.4 L486,155" fill="none" stroke="#222" stroke-width="0.9" stroke-dasharray="2.6,2"/>
<clipPath id="cclip"><rect x="35.5" y="281.3" width="255.5" height="193.3"/></clipPath>
<path clip-path="url(#cclip)" d="M35.5,465.38 L35.62,464.49 L35.73,465.93 L35.85,467.46 L35.96,466.21 L36.08,467.52 L36.2,464.68 L36.31,461.26 L36.43,465.93 L36.55,466.16 L36.66,463.21 L36.78,463.47 L36.89,464.02 L37.01,466.56 L37.13,464.19 L37.24,462.28 L37.36,467.3 L37.48,464.99 L37.59,468.47 L37.71,466.85 L37.82,468.11 L37.94,464.07 L38.06,466.5 L38.17,462.67 L38.29,462.86 L38.4,463.61 L38.52,469.09 L38.64,464.27 L38.75,463.02 L38.87,462.55 L38.99,466.33 L39.1,463.77 L39.22,464.85 L39.33,464.36 L39.45,459.97 L39.57,464.18 L39.68,462.32 L39.8,460.16 L39.92,463.41 L40.03,462.26 L40.15,461.69 L40.26,461.71 L40.38,464.49 L40.5,461.53 L40.61,458.65 L40.73,464.92 L40.84,459.61 L40.96,461.14 L41.08,462.71 L41.19,456.98 L41.31,459.56 L41.43,463.65 L41.54,460.88 L41.66,459.76 L41.77,461.29 L41.89,459.42 L42.01,460.9 L42.12,459.33 L42.24,457.7 L42.36,461.93 L42.47,460.09 L42.59,461.36 L42.7,460.12 L42.82,462.66 L42.94,461.38 L43.05,460.56 L43.17,458.36 L43.28,457.83 L43.4,462.54 L43.52,461.45 L43.63,458.63 L43.75,463.57 L43.87,460.61 L43.98,459.86 L44.1,457.28 L44.21,458.29 L44.33,460.1 L44.45,460.12 L44.56,459.84 L44.68,456.58 L44.8,460.03 L44.91,459.75 L45.03,458.53 L45.14,459.3 L45.26,459.38 L45.38,460.91 L45.49,458.94 L45.61,459.63 L45.72,456.82 L45.84,457.65 L45.96,458.74 L46.07,457.53 L46.19,459.15 L46.31,456.8 L46.42,458.49 L46.54,457.47 L46.65,460.46 L46.77,457.76 L46.89,460.97 L47,461.46 L47.12,458.64 L47.24,459.53 L47.35,457.79 L47.47,454.48 L47.58,459.24 L47.7,458.86 L47.82,457.52 L47.93,457.03 L48.05,458 L48.16,458 L48.28,456.57 L48.4,456.8 L48.51,459.08 L48.63,457.6 L48.75,457.38 L48.86,458.93 L48.98,456.95 L49.09,458.52 L49.21,455.82 L49.33,456.9 L49.44,457 L49.56,457.92 L49.68,457.19 L49.79,459.79 L49.91,458.51 L50.02,456.37 L50.14,459.77 L50.26,455.61 L50.37,459.12 L50.49,455.65 L50.6,457.77 L50.72,455.53 L50.84,456.35 L50.95,458.52 L51.07,454.78 L51.19,454.49 L51.3,456.42 L51.42,456.64 L51.53,456.44 L51.65,457.43 L51.77,454.73 L51.88,456.77 L52,456.1 L52.12,456.98 L52.23,456.72 L52.35,457.47 L52.46,454.3 L52.58,455.98 L52.7,454.57 L52.81,455.67 L52.93,456.47 L53.04,455.98 L53.16,456.2 L53.28,455.48 L53.39,455.88 L53.51,455.74 L53.63,456.93 L53.74,456.21 L53.86,453.37 L53.97,455.95 L54.09,456.32 L54.21,454.72 L54.32,453.49 L54.44,456.58 L54.56,455.17 L54.67,455.57 L54.79,456.72 L54.9,454.01 L55.02,454.76 L55.14,454.61 L55.25,455.41 L55.37,454.11 L55.48,455.08 L55.6,454.62 L55.72,455.54 L55.83,455.58 L55.95,452.99 L56.07,454.76 L56.18,453.93 L56.3,454.19 L56.41,454.53 L56.53,454.53 L56.65,453.4 L56.76,454.23 L56.88,454.03 L56.99,453.82 L57.11,452.71 L57.23,453.12 L57.34,453.33 L57.46,454.12 L57.58,454.79 L57.69,452.69 L57.81,452.63 L57.92,453.53 L58.04,452.89 L58.16,452.64 L58.27,452.55 L58.39,452.43 L58.51,453.51 L58.62,451.86 L58.74,454.03 L58.85,452.29 L58.97,452.54 L59.09,452.19 L59.2,451.37 L59.32,451.63 L59.43,453.58 L59.55,453.92 L59.67,452 L59.78,453.3 L59.9,452.51 L60.02,451.85 L60.13,453.56 L60.25,453.82 L60.36,452.11 L60.48,452.21 L60.6,452.36 L60.71,452.11 L60.83,452.65 L60.95,453.02 L61.06,452.09 L61.18,452.55 L61.29,452.92 L61.41,451.52 L61.53,451.82 L61.64,451.49 L61.76,452.27 L61.87,452.02 L61.99,452.17 L62.11,452.05 L62.22,451.38 L62.34,451.88 L62.46,451.2 L62.57,451.16 L62.69,450.22 L62.8,451.98 L62.92,450.74 L63.04,451.21 L63.15,451.12 L63.27,451.82 L63.39,451.26 L63.5,450.59 L63.62,450.98 L63.73,450.85 L63.85,451 L63.97,450.2 L64.08,450.77 L64.2,451.86 L64.31,451.03 L64.43,451.65 L64.55,452.28 L64.66,450.83 L64.78,449.82 L64.9,450.45 L65.01,451.04 L65.13,450.88 L65.24,449.77 L65.36,450.24 L65.48,450.26 L65.59,450.27 L65.71,450.19 L65.83,449.76 L65.94,449.85 L66.06,449.99 L66.17,450.6 L66.29,449.77 L66.41,450.35 L66.52,449.41 L66.64,450.59 L66.75,449.97 L66.87,449.88 L66.99,450.52 L67.1,448.93 L67.22,449.03 L67.34,449.98 L67.45,449.32 L67.57,449.49 L67.68,450.99 L67.8,449.49 L67.92,449.61 L68.03,449.51 L68.15,450.07 L68.27,449.62 L68.38,449.54 L68.5,448.81 L68.61,449.22 L68.73,449.36 L68.85,448.54 L68.96,449.57 L69.08,449.45 L69.19,450.15 L69.31,448.39 L69.43,448.67 L69.54,448.66 L69.66,448.75 L69.78,449 L69.89,448.92 L70.01,449.13 L70.12,449.07 L70.24,448.91 L70.36,448.14 L70.47,448.59 L70.59,448.87 L70.71,449.1 L70.82,449.1 L70.94,447.94 L71.05,448.46 L71.17,448.66 L71.29,448.84 L71.4,449.19 L71.52,448.64 L71.63,448.13 L71.75,448.74 L71.87,448.63 L71.98,448.6 L72.1,448.41 L72.22,449.24 L72.33,448.53 L72.45,448.82 L72.56,447.92 L72.68,448.72 L72.8,448.02 L72.91,447.52 L73.03,448.42 L73.15,448.54 L73.26,448.12 L73.38,448.2 L73.49,448.67 L73.61,447.92 L73.73,447.12 L73.84,448.24 L73.96,448.2 L74.07,448.6 L74.19,447.9 L74.31,448.66 L74.42,448.58 L74.54,447.37 L74.66,448.44 L74.77,447.44 L74.89,447.2 L75,447.82 L75.12,447.66 L75.24,446.95 L75.35,448.01 L75.47,448.2 L75.59,448.57 L75.7,447.86 L75.82,447.14 L75.93,447.39 L76.05,448.33 L76.17,448.28 L76.28,448.1 L76.4,447.7 L76.51,447.94 L76.63,447.73 L76.75,447.69 L76.86,447.98 L76.98,447.86 L77.1,447.73 L77.21,447.88 L77.33,447.59 L77.44,446.91 L77.56,447.55 L77.68,447.81 L77.79,448.67 L77.91,447.65 L78.03,448.8 L78.14,448.54 L78.26,447.42 L78.37,447.5 L78.49,447.92 L78.61,448.69 L78.72,448.04 L78.84,448.19 L78.95,447.55 L79.07,446.75 L79.19,447.76 L79.3,448.25 L79.42,448.44 L79.54,447.9 L79.65,447.96 L79.77,448.44 L79.88,447.83 L80,448.45 L80.12,447.35 L80.23,447.37 L80.35,447.37 L80.47,448.13 L80.58,447.65 L80.7,447.97 L80.81,448.1 L80.93,448.08 L81.05,448.56 L81.16,448.63 L81.28,447.55 L81.39,448.03 L81.51,447.84 L81.63,447.46 L81.74,448.8 L81.86,448.34 L81.98,447.88 L82.09,447.78 L82.21,448.16 L82.32,447.48 L82.44,447.89 L82.56,448.58 L82.67,448.45 L82.79,447.62 L82.91,447.79 L83.02,448.94 L83.14,447.37 L83.25,447.74 L83.37,447.39 L83.49,448.23 L83.6,448.19 L83.72,448.6 L83.83,446.84 L83.95,448.16 L84.07,447.31 L84.18,448.4 L84.3,448.01 L84.42,448.9 L84.53,448.29 L84.65,447.64 L84.76,448.72 L84.88,447.61 L85,447.97 L85.11,448.64 L85.23,448.39 L85.35,448.38 L85.46,448.19 L85.58,448.43 L85.69,448.58 L85.81,448.33 L85.93,448.69 L86.04,448.82 L86.16,448.24 L86.27,447.8 L86.39,448.96 L86.51,448.23 L86.62,448.55 L86.74,448.72 L86.86,447.85 L86.97,448.52 L87.09,447.56 L87.2,448.66 L87.32,448.11 L87.44,448.41 L87.55,448.67 L87.67,448.05 L87.79,448.41 L87.9,448.06 L88.02,448.38 L88.13,448.89 L88.25,448.44 L88.37,448.38 L88.48,447.96 L88.6,448.86 L88.71,448.47 L88.83,449.28 L88.95,448.17 L89.06,449.01 L89.18,449.37 L89.3,448.56 L89.41,448.03 L89.53,449.29 L89.64,449.11 L89.76,448.97 L89.88,449.17 L89.99,448.48 L90.11,449.06 L90.23,449.04 L90.34,448.45 L90.46,449.1 L90.57,448.57 L90.69,449.25 L90.81,449.39 L90.92,449.71 L91.04,448 L91.15,449.05 L91.27,448.81 L91.39,448.96 L91.5,448.9 L91.62,448.98 L91.74,448.14 L91.85,449.54 L91.97,449.81 L92.08,449.59 L92.2,449.77 L92.32,448.82 L92.43,448.82 L92.55,449.68 L92.67,449.91 L92.78,449.46 L92.9,448.67 L93.01,450.66 L93.13,449.14 L93.25,449.91 L93.36,448.96 L93.48,449.98 L93.59,449.64 L93.71,450.24 L93.83,450.02 L93.94,448.96 L94.06,449.25 L94.18,449.85 L94.29,450.1 L94.41,450.61 L94.52,449.95 L94.64,449.81 L94.76,449.87 L94.87,449.91 L94.99,450.42 L95.11,449.96 L95.22,449.98 L95.34,449.4 L95.45,449.17 L95.57,450.13 L95.69,450.46 L95.8,450.17 L95.92,450.45 L96.03,450.55 L96.15,450.26 L96.27,450.75 L96.38,450.03 L96.5,450.39 L96.62,450.26 L96.73,450.49 L96.85,450.78 L96.96,450.91 L97.08,450.62 L97.2,450.8 L97.31,450.47 L97.43,450.61 L97.55,451.27 L97.66,450.65 L97.78,451.33 L97.89,451.03 L98.01,450.91 L98.13,451.76 L98.24,450.8 L98.36,450.81 L98.47,450.98 L98.59,451.14 L98.71,451.15 L98.82,451.45 L98.94,451.16 L99.06,451.32 L99.17,451.06 L99.29,451.68 L99.4,451.06 L99.52,451.13 L99.64,451.29 L99.75,451.46 L99.87,451.04 L99.98,452.07 L100.1,451.14 L100.22,451.27 L100.33,451.28 L100.45,451.26 L100.57,451.76 L100.68,451.61 L100.8,451.24 L100.91,451.36 L101.03,451.49 L101.15,452.29 L101.26,451.39 L101.38,451.13 L101.5,451.23 L101.61,451.61 L101.73,452.44 L101.84,451.34 L101.96,451.86 L102.08,452.96 L102.19,451.68 L102.31,452.54 L102.42,452.48 L102.54,452.21 L102.66,451.39 L102.77,452.15 L102.89,451.89 L103.01,451.26 L103.12,451.36 L103.24,452.15 L103.35,452.24 L103.47,452.73 L103.59,452.51 L103.7,452.04 L103.82,452.08 L103.94,452.24 L104.05,451.87 L104.17,452.69 L104.28,452.41 L104.4,452.09 L104.52,452.18 L104.63,452 L104.75,452.33 L104.86,452.68 L104.98,452.41 L105.1,453.05 L105.21,453.36 L105.33,452.41 L105.45,452.72 L105.56,452.6 L105.68,453.52 L105.79,452.96 L105.91,453.09 L106.03,453.24 L106.14,453.89 L106.26,453.07 L106.38,452.56 L106.49,452.82 L106.61,453.29 L106.72,453.06 L106.84,452.75 L106.96,454.34 L107.07,453.21 L107.19,452.95 L107.3,452.92 L107.42,452.5 L107.54,452.78 L107.65,453.17 L107.77,453.21 L107.89,453.03 L108,453.64 L108.12,453.45 L108.23,453.07 L108.35,452.64 L108.47,453.6 L108.58,453.58 L108.7,453.5 L108.82,453.03 L108.93,453.66 L109.05,453.03 L109.16,454.13 L109.28,453.82 L109.4,453.85 L109.51,453.45 L109.63,453.36 L109.74,454.5 L109.86,454.27 L109.98,453.76 L110.09,454.22 L110.21,454.62 L110.33,453.53 L110.44,453.79 L110.56,453.82 L110.67,454.26 L110.79,453.64 L110.91,454.21 L111.02,453.66 L111.14,454.55 L111.26,454.55 L111.37,454.11 L111.49,454.53 L111.6,453.95 L111.72,454.16 L111.84,454.69 L111.95,454.28 L112.07,454.48 L112.18,453.95 L112.3,454.64 L112.42,454.58 L112.53,453.88 L112.65,453.46 L112.77,453.58 L112.88,454.43 L113,454.38 L113.11,453.83 L113.23,454.56 L113.35,454.94 L113.46,454.48 L113.58,454.35 L113.7,454.91 L113.81,455.28 L113.93,455.2 L114.04,454.31 L114.16,454.93 L114.28,454.67 L114.39,454.53 L114.51,454.37 L114.62,454.78 L114.74,454.43 L114.86,455.03 L114.97,454.81 L115.09,455.1 L115.21,454.18 L115.32,454.68 L115.44,454.99 L115.55,454.82 L115.67,454.77 L115.79,454.38 L115.9,455.35 L116.02,455.11 L116.14,454.83 L116.25,453.6 L116.37,454.27 L116.48,454.72 L116.6,454.37 L116.72,453.8 L116.83,454.76 L116.95,454.81 L117.06,454.14 L117.18,454.44 L117.3,454.37 L117.41,454.86 L117.53,453.83 L117.65,453.92 L117.76,454.39 L117.88,454.34 L117.99,455.47 L118.11,454.35 L118.23,454.69 L118.34,454.42 L118.46,454.31 L118.58,454.73 L118.69,455.29 L118.81,454.42 L118.92,454.88 L119.04,454.7 L119.16,454.81 L119.27,454.69 L119.39,455.5 L119.5,454.02 L119.62,454.42 L119.74,454.05 L119.85,453.68 L119.97,454.49 L120.09,455.24 L120.2,454.85 L120.32,454.97 L120.43,454.66 L120.55,454.41 L120.67,455.27 L120.78,454.28 L120.9,455.04 L121.02,454.28 L121.13,454.44 L121.25,454.51 L121.36,454.4 L121.48,454.58 L121.6,454.6 L121.71,455.03 L121.83,454.34 L121.94,453.55 L122.06,453.48 L122.18,453.74 L122.29,453.98 L122.41,454.54 L122.53,453.66 L122.64,454.26 L122.76,454.25 L122.87,454.33 L122.99,454.16 L123.11,454.36 L123.22,454.21 L123.34,454.6 L123.46,454.3 L123.57,453.2 L123.69,454.15 L123.8,454.2 L123.92,453.87 L124.04,453.79 L124.15,454.52 L124.27,454.13 L124.38,453.66 L124.5,453.9 L124.62,453.95 L124.73,453.34 L124.85,454.23 L124.97,453.9 L125.08,454.13 L125.2,453.28 L125.31,454.66 L125.43,454.12 L125.55,454.03 L125.66,453.52 L125.78,453.52 L125.9,453.17 L126.01,454.35 L126.13,453.37 L126.24,453.77 L126.36,453.89 L126.48,453.37 L126.59,453.93 L126.71,454.36 L126.82,453.64 L126.94,454.06 L127.06,453.68 L127.17,453.23 L127.29,453.22 L127.41,452.67 L127.52,453.35 L127.64,453.85 L127.75,453.5 L127.87,453.53 L127.99,453.61 L128.1,452.9 L128.22,453.3 L128.34,453.79 L128.45,452.67 L128.57,452.95 L128.68,452.72 L128.8,452.78 L128.92,452.53 L129.03,452.72 L129.15,452.2 L129.26,452.48 L129.38,452.44 L129.5,452.39 L129.61,453.09 L129.73,452.53 L129.85,452.52 L129.96,452.29 L130.08,452.86 L130.19,451.62 L130.31,452.18 L130.43,452.66 L130.54,452.81 L130.66,452.19 L130.78,452.07 L130.89,452.27 L131.01,451.9 L131.12,452.14 L131.24,451.61 L131.36,452.07 L131.47,451.75 L131.59,451.29 L131.7,450.61 L131.82,451.98 L131.94,451.71 L132.05,451.81 L132.17,451.12 L132.29,451.83 L132.4,451.52 L132.52,451.29 L132.63,451.61 L132.75,451.55 L132.87,451.3 L132.98,451.89 L133.1,451.58 L133.22,451.12 L133.33,450.84 L133.45,450.91 L133.56,451.48 L133.68,450.91 L133.8,450.36 L133.91,450.39 L134.03,450.58 L134.14,450.84 L134.26,450.19 L134.38,450.6 L134.49,450.77 L134.61,450.57 L134.73,449.62 L134.84,450.04 L134.96,449.61 L135.07,450.19 L135.19,449.57 L135.31,450.1 L135.42,449.87 L135.54,448.77 L135.66,449.37 L135.77,449.8 L135.89,449.57 L136,449.34 L136.12,448.92 L136.24,449.51 L136.35,449.93 L136.47,449.29 L136.58,449.1 L136.7,448.99 L136.82,448.45 L136.93,448.76 L137.05,448.49 L137.17,449.15 L137.28,448.32 L137.4,447.76 L137.51,448.2 L137.63,448.32 L137.75,448.27 L137.86,447.56 L137.98,448.52 L138.1,448.13 L138.21,447.82 L138.33,447.63 L138.44,448 L138.56,447.62 L138.68,447.76 L138.79,447.52 L138.91,447.53 L139.02,447.82 L139.14,447.3 L139.26,446.86 L139.37,447.48 L139.49,447.1 L139.61,446.66 L139.72,447.23 L139.84,446.65 L139.95,447.03 L140.07,446.09 L140.19,445.55 L140.3,445.56 L140.42,446.31 L140.54,445.84 L140.65,445.97 L140.77,445.87 L140.88,445.22 L141,446.2 L141.12,445.19 L141.23,445.5 L141.35,444.83 L141.46,445.18 L141.58,445.4 L141.7,444.92 L141.81,444.63 L141.93,444.78 L142.05,444.49 L142.16,444.76 L142.28,445.24 L142.39,443.98 L142.51,443.93 L142.63,444.01 L142.74,443.9 L142.86,443.4 L142.97,443.81 L143.09,443.74 L143.21,443.38 L143.32,442.7 L143.44,443.49 L143.56,442.34 L143.67,442.84 L143.79,442.83 L143.9,441.75 L144.02,442.06 L144.14,442.31 L144.25,441.76 L144.37,441.07 L144.49,440.77 L144.6,441.16 L144.72,440.64 L144.83,440.31 L144.95,440.6 L145.07,440.01 L145.18,439.94 L145.3,439.91 L145.41,439.68 L145.53,439.26 L145.65,439.06 L145.76,439.07 L145.88,438.8 L146,438.01 L146.11,438.14 L146.23,437.67 L146.34,437.34 L146.46,437.35 L146.58,436.5 L146.69,437.45 L146.81,436.61 L146.93,436.81 L147.04,435.76 L147.16,435.6 L147.27,436.76 L147.39,436.16 L147.51,435.3 L147.62,435.02 L147.74,434.81 L147.85,434.88 L147.97,434.44 L148.09,434.13 L148.2,434.17 L148.32,433.5 L148.44,434.52 L148.55,433.16 L148.67,433.56 L148.78,432.53 L148.9,432.74 L149.02,432.74 L149.13,432 L149.25,432.24 L149.37,431.98 L149.48,431.98 L149.6,431.11 L149.71,430.64 L149.83,430.16 L149.95,430.34 L150.06,429.6 L150.18,429.72 L150.29,429.48 L150.41,428.93 L150.53,428.45 L150.64,428.71 L150.76,428.37 L150.88,428.04 L150.99,427.65 L151.11,427.73 L151.22,426.66 L151.34,426.93 L151.46,426.28 L151.57,426.48 L151.69,425.7 L151.81,425.37 L151.92,425.39 L152.04,424.1 L152.15,424.44 L152.27,423.57 L152.39,423.58 L152.5,423.92 L152.62,423.5 L152.73,422.86 L152.85,422.72 L152.97,422.43 L153.08,422.27 L153.2,422.59 L153.32,421.65 L153.43,422.17 L153.55,420.81 L153.66,420.95 L153.78,420.63 L153.9,420.1 L154.01,419.57 L154.13,419.92 L154.25,419.69 L154.36,419.03 L154.48,419.04 L154.59,418.19 L154.71,416.71 L154.83,417.36 L154.94,416.22 L155.06,416.61 L155.17,415.47 L155.29,415.25 L155.41,414.65 L155.52,413.86 L155.64,412.82 L155.76,412.88 L155.87,412.27 L155.99,412.06 L156.1,410.68 L156.22,410.25 L156.34,408.96 L156.45,408.42 L156.57,406.7 L156.69,407.12 L156.8,404.84 L156.92,402.4 L157.03,400.66 L157.15,398.35 L157.27,395.48 L157.38,393.21 L157.5,389.82 L157.61,386.14 L157.73,384.11 L157.85,382.68 L157.96,380.21 L158.08,377.63 L158.2,374.64 L158.31,373.02 L158.43,370.57 L158.54,367.5 L158.66,365.11 L158.78,363.24 L158.89,361.16 L159.01,358.93 L159.13,356.09 L159.24,354.23 L159.36,350.4 L159.47,348.44 L159.59,345.4 L159.71,342.27 L159.82,340.08 L159.94,338.64 L160.05,335.39 L160.17,332.98 L160.29,331.62 L160.4,329.63 L160.52,327.32 L160.64,326 L160.75,322.6 L160.87,322.18 L160.98,319.5 L161.1,317.04 L161.22,314.98 L161.33,312.86 L161.45,311 L161.57,309.56 L161.68,307.5 L161.8,307.71 L161.91,305.81 L162.03,305.46 L162.15,304.76 L162.26,304.75 L162.38,305.54 L162.49,305.95 L162.61,306.06 L162.73,307.21 L162.84,308.81 L162.96,308.91 L163.08,310.24 L163.19,313.51 L163.31,314.41 L163.42,315.21 L163.54,317.84 L163.66,320.01 L163.77,322.14 L163.89,324.26 L164.01,326.07 L164.12,328.17 L164.24,329.77 L164.35,332.82 L164.47,335.67 L164.59,339.07 L164.7,341.75 L164.82,345.42 L164.93,348.4 L165.05,351.1 L165.17,354.53 L165.28,357.41 L165.4,360.16 L165.52,362.75 L165.63,365.17 L165.75,367.51 L165.86,369.2 L165.98,372.17 L166.1,373.17 L166.21,375.87 L166.33,378.35 L166.45,380.39 L166.56,382.7 L166.68,384.65 L166.79,387.59 L166.91,389.42 L167.03,393.08 L167.14,396.53 L167.26,398.52 L167.37,401.67 L167.49,403.11 L167.61,404.66 L167.72,406.55 L167.84,408.78 L167.96,409.67 L168.07,409.58 L168.19,411.28 L168.3,412.38 L168.42,412.79 L168.54,412.98 L168.65,414.32 L168.77,415.6 L168.89,416.2 L169,416.73 L169.12,417.93 L169.23,418.72 L169.35,418.75 L169.47,419.75 L169.58,419.83 L169.7,420.24 L169.81,419.65 L169.93,421.61 L170.05,421.7 L170.16,422.14 L170.28,422.27 L170.4,422.38 L170.51,423.49 L170.63,424.02 L170.74,424.78 L170.86,424.79 L170.98,424.44 L171.09,425 L171.21,425.84 L171.33,425.85 L171.44,425.96 L171.56,426.04 L171.67,426.86 L171.79,426.99 L171.91,428.03 L172.02,427.99 L172.14,426.93 L172.25,429.04 L172.37,428.42 L172.49,428.41 L172.6,428.97 L172.72,429.44 L172.84,429.35 L172.95,429.58 L173.07,429.89 L173.18,431.03 L173.3,430.45 L173.42,431.06 L173.53,431.17 L173.65,431.06 L173.77,431.11 L173.88,431.24 L174,432.18 L174.11,431.74 L174.23,431.86 L174.35,432.13 L174.46,432.25 L174.58,433.25 L174.69,433.5 L174.81,433.25 L174.93,434.57 L175.04,434.03 L175.16,434.62 L175.28,434.78 L175.39,435.68 L175.51,435.49 L175.62,435.28 L175.74,435.05 L175.86,435.22 L175.97,435.97 L176.09,436.24 L176.21,436.77 L176.32,436.37 L176.44,436.9 L176.55,436.68 L176.67,436.31 L176.79,437.4 L176.9,438.34 L177.02,438.22 L177.13,438.71 L177.25,438.77 L177.37,437.7 L177.48,438.43 L177.6,439.5 L177.72,438.58 L177.83,438.46 L177.95,439.45 L178.06,439.79 L178.18,439.79 L178.3,439.65 L178.41,439.64 L178.53,439.53 L178.65,439.67 L178.76,439.85 L178.88,439.92 L178.99,440.43 L179.11,441.71 L179.23,441.15 L179.34,441.08 L179.46,441.58 L179.57,441.07 L179.69,441.87 L179.81,442.31 L179.92,441.24 L180.04,441.78 L180.16,442.15 L180.27,441.93 L180.39,442 L180.5,442.51 L180.62,444.09 L180.74,443.31 L180.85,443.33 L180.97,443.74 L181.09,443.26 L181.2,442.87 L181.32,443.87 L181.43,444.34 L181.55,442.82 L181.67,444.25 L181.78,444.79 L181.9,444.14 L182.01,444.17 L182.13,444.9 L182.25,444.22 L182.36,445.04 L182.48,445.4 L182.6,444.92 L182.71,444.72 L182.83,445.62 L182.94,445.21 L183.06,445.57 L183.18,444.03 L183.29,446.17 L183.41,445.09 L183.53,446.04 L183.64,446.2 L183.76,445.83 L183.87,445.85 L183.99,445.75 L184.11,446.43 L184.22,447.11 L184.34,447.2 L184.45,446.69 L184.57,446.77 L184.69,446.4 L184.8,447.12 L184.92,446.85 L185.04,446.69 L185.15,447.65 L185.27,448.81 L185.38,448.75 L185.5,449.04 L185.62,447.24 L185.73,448.93 L185.85,447.72 L185.96,448.26 L186.08,447.64 L186.2,448.23 L186.31,449.08 L186.43,449.27 L186.55,449.2 L186.66,449.27 L186.78,449.87 L186.89,449.65 L187.01,448.67 L187.13,451.04 L187.24,449.83 L187.36,450.75 L187.48,450.12 L187.59,449.79 L187.71,450.53 L187.82,450.07 L187.94,451.85 L188.06,450.07 L188.17,451.4 L188.29,450.64 L188.4,451.07 L188.52,453.18 L188.64,451.98 L188.75,451.39 L188.87,450.53 L188.99,451.57 L189.1,451.7 L189.22,453.05 L189.33,451.05 L189.45,450.88 L189.57,452.32 L189.68,452.61 L189.8,453.78 L189.92,451.99 L190.03,450.7 L190.15,452.32 L190.26,452 L190.38,452.66 L190.5,453.95 L190.61,452.24 L190.73,454.35 L190.84,453.64 L190.96,453.35 L191.08,452.97 L191.19,453.43 L191.31,453.55 L191.43,454.56 L191.54,455.08 L191.66,454.08 L191.77,454.8 L191.89,455.38 L192.01,455.43 L192.12,454.88 L192.24,456.1 L192.36,455.77 L192.47,456.1 L192.59,454.67 L192.7,454.56 L192.82,453.29 L192.94,456.33 L193.05,455.72 L193.17,454.45 L193.28,455.49 L193.4,455.67 L193.52,453.99 L193.63,455.83 L193.75,456.62 L193.87,456.85 L193.98,455.48 L194.1,455.58 L194.21,457.13 L194.33,456.87 L194.45,455.6 L194.56,455.63 L194.68,456.8 L194.8,455.73 L194.91,455.85 L195.03,458.05 L195.14,456.79 L195.26,456.2 L195.38,457.18 L195.49,458.69 L195.61,457.05 L195.72,456.16 L195.84,455.46 L195.96,459.04 L196.07,454.62 L196.19,458.2 L196.31,456.3 L196.42,456.11 L196.54,456.41 L196.65,457.27 L196.77,458.59 L196.89,456.94 L197,458.3 L197.12,460.11 L197.24,455 L197.35,457.12 L197.47,456.1 L197.58,458.83 L197.7,456.57 L197.82,456.51 L197.93,456.6 L198.05,458.23 L198.16,459.47 L198.28,458.51 L198.4,460.61 L198.51,460.18 L198.63,458.44 L198.75,459.6 L198.86,458.83 L198.98,458.84 L199.09,456.82 L199.21,457.53 L199.33,458.97 L199.44,457.75 L199.56,459.87 L199.68,459.47 L199.79,458.24 L199.91,460.55 L200.02,459.62 L200.14,460.78 L200.26,459.33 L200.37,457.79 L200.49,460.39 L200.6,459.42 L200.72,460.68 L200.84,461.02 L200.95,461.19 L201.07,458.35 L201.19,457.43 L201.3,459.53 L201.42,460.9 L201.53,459.42 L201.65,460.62 L201.77,459.44 L201.88,460.07 L202,460.15 L202.12,459.85 L202.23,461.24 L202.35,461.11 L202.46,462.65 L202.58,461.29 L202.7,462.46 L202.81,461.09 L202.93,462.07 L203.04,460.94 L203.16,460.6 L203.28,462.81 L203.39,462.18 L203.51,462.4 L203.63,460.52 L203.74,459.48 L203.86,460.53 L203.97,461.98 L204.09,459.94 L204.21,463.47 L204.32,460.01 L204.44,462.61 L204.56,465.17 L204.67,458.83 L204.79,460.16 L204.9,463.31 L205.02,461.95 L205.14,462.47 L205.25,462.15 L205.37,464.12 L205.48,463.22 L205.6,461.9 L205.72,462.25 L205.83,461.13 L205.95,462.55 L206.07,459.83 L206.18,463.64 L206.3,462.5 L206.41,465.24 L206.53,464.49 L206.65,461.35 L206.76,464.23 L206.88,462.45 L207,463.25 L207.11,464.53 L207.23,463.72 L207.34,463.99 L207.46,464.01 L207.58,462.5 L207.69,462.68 L207.81,464.29 L207.92,464.77 L208.04,463.31 L208.16,463.85 L208.27,462.45 L208.39,460.41 L208.51,462.79 L208.62,463.97 L208.74,464.2 L208.85,465.14 L208.97,465.26 L209.09,465.43 L209.2,464.69 L209.32,464.78 L209.44,463.29 L209.55,464.84 L209.67,464.62 L209.78,466.02 L209.9,462.26 L210.02,463.82 L210.13,462.14 L210.25,463.51 L210.36,462.62 L210.48,465 L210.6,463.74 L210.71,461.09 L210.83,466.46 L210.95,463.24 L211.06,462.57 L211.18,464.35 L211.29,463.92 L211.41,463.25 L211.53,465.97 L211.64,464.52 L211.76,466.36 L211.88,466.13 L211.99,466.1 L212.11,465.46 L212.22,465.09 L212.34,464.69 L212.46,467.42 L212.57,462.57 L212.69,463.8 L212.8,464.45 L212.92,466.06 L213.04,465.71 L213.15,464.83 L213.27,465.06 L213.39,468.16 L213.5,464.65 L213.62,461.49 L213.73,468.55 L213.85,464.39 L213.97,465.35 L214.08,466.1 L214.2,463.93 L214.32,467.78 L214.43,465.81 L214.55,463.89 L214.66,466.42 L214.78,466.79 L214.9,466.03 L215.01,466.91 L215.13,463.92 L215.24,467.69 L215.36,465.01 L215.48,468.3 L215.59,465.39 L215.71,466.62 L215.83,470.47 L215.94,466.53 L216.06,468.21 L216.17,467.28 L216.29,464.24 L216.41,468.4 L216.52,468.35 L216.64,464.48 L216.76,466.58 L216.87,464.38 L216.99,466.32 L217.1,468.26 L217.22,467 L217.34,464.98 L217.45,465.47 L217.57,466.99 L217.68,466.95 L217.8,467.24 L217.92,468.02 L218.03,464.02 L218.15,467.14 L218.27,469 L218.38,467.98 L218.5,466.07 L218.61,466.24 L218.73,467.52 L218.85,468.41 L218.96,467.32 L219.08,470.08 L219.2,469.51 L219.31,466.16 L219.43,468.25 L219.54,466.9 L219.66,465.56 L219.78,466.51 L219.89,467.55 L220.01,464.17 L220.12,466.56 L220.24,468.23 L220.36,466.5 L220.47,467.05 L220.59,469.12 L220.71,467.65 L220.82,468.06 L220.94,471 L221.05,468.12 L221.17,468.32 L221.29,468.59 L221.4,470.58 L221.52,468.51 L221.64,468.02 L221.75,467.81 L221.87,469.84 L221.98,466.99 L222.1,470.02 L222.22,468.42 L222.33,465.96 L222.45,469.23 L222.56,468.95 L222.68,466.39 L222.8,468.79 L222.91,468.67 L223.03,467.84 L223.15,466.51 L223.26,471.84 L223.38,469.61 L223.49,469.93 L223.61,470.07 L223.73,469.71 L223.84,469.71 L223.96,467.86 L224.08,469.83 L224.19,468.19 L224.31,467.75 L224.42,469.62 L224.54,468.23 L224.66,465.79 L224.77,467.95 L224.89,469.54 L225,468.62 L225.12,470.03 L225.24,468.11 L225.35,467.15 L225.47,469.92 L225.59,468.94 L225.7,466.79 L225.82,469.44 L225.93,468.34 L226.05,470.34 L226.17,470.02 L226.28,469.53 L226.4,465.22 L226.52,469.38 L226.63,469.59 L226.75,469.66 L226.86,469.04 L226.98,467.73 L227.1,468.5 L227.21,465.51 L227.33,468.49 L227.44,466.52 L227.56,468.41 L227.68,467.9 L227.79,471.22 L227.91,469.11 L228.03,469.03 L228.14,469.32 L228.26,472.42 L228.37,467.54 L228.49,469.6 L228.61,469.7 L228.72,469.41 L228.84,469.38 L228.95,468.37 L229.07,471.1 L229.19,470.56 L229.3,468.6 L229.42,468.85 L229.54,469.71 L229.65,470.04 L229.77,470.48 L229.88,469.23 L230,467.24 L230.12,470.88 L230.23,466.7 L230.35,467.82 L230.47,469.94 L230.58,467.94 L230.7,471.61 L230.81,472.06 L230.93,471.35 L231.05,469.94 L231.16,469.81 L231.28,470.13 L231.39,469.15 L231.51,472.8 L231.63,468.53 L231.74,471.66 L231.86,470.44 L231.98,470.05 L232.09,471.27 L232.21,471.64 L232.32,471.06 L232.44,469.44 L232.56,468.47 L232.67,468.53 L232.79,471.09 L232.91,470.77 L233.02,471 L233.14,468.77 L233.25,472.85 L233.37,467.5 L233.49,470.34 L233.6,470.84 L233.72,469.01 L233.83,467.89 L233.95,469.03 L234.07,467.88 L234.18,469.4 L234.3,467.61 L234.42,467.6 L234.53,469.82 L234.65,467.3 L234.76,469.41 L234.88,469.56 L235,471.23 L235.11,470.2 L235.23,468.46 L235.35,471.92 L235.46,468.69 L235.58,469.2 L235.69,469.33 L235.81,473.45 L235.93,469.99 L236.04,468.76 L236.16,471.1 L236.27,469.71 L236.39,473.8 L236.51,468.77 L236.62,470.99 L236.74,468.46 L236.86,472.97 L236.97,468.78 L237.09,470.34 L237.2,468.62 L237.32,471.51 L237.44,471.01 L237.55,466.27 L237.67,471.39 L237.79,471.2 L237.9,470.49 L238.02,471.75 L238.13,468.08 L238.25,467.2 L238.37,471.26 L238.48,472.97 L238.6,468.16 L238.71,468.28 L238.83,468.77 L238.95,468.22 L239.06,471.61 L239.18,470.45 L239.3,472.5 L239.41,472.57 L239.53,468.57 L239.64,471.34 L239.76,466.42 L239.88,470.12 L239.99,471.33 L240.11,468.93 L240.23,467.27 L240.34,469.48 L240.46,472.34 L240.57,469.69 L240.69,468.02 L240.81,471.17 L240.92,471.65 L241.04,468.66 L241.15,470.14 L241.27,472.24 L241.39,471.04 L241.5,471.68 L241.62,469.92 L241.74,470.25 L241.85,468.51 L241.97,469.26 L242.08,473.1 L242.2,469.79 L242.32,468.98 L242.43,469.73 L242.55,468.77 L242.67,471.45 L242.78,472.14 L242.9,468.97 L243.01,472.35 L243.13,474.21 L243.25,468.84 L243.36,471.81 L243.48,471.11 L243.59,472.97 L243.71,472.86 L243.83,472.58 L243.94,471.25 L244.06,470.02 L244.18,474.55 L244.29,469.39 L244.41,472.68 L244.52,472.49 L244.64,469.54 L244.76,470.83 L244.87,473.32 L244.99,467.59 L245.11,472.19 L245.22,470.32 L245.34,470.41 L245.45,468.36 L245.57,471.54 L245.69,469.06 L245.8,472.05 L245.92,468.88 L246.03,472.1 L246.15,471.43 L246.27,467.59 L246.38,470.29 L246.5,470.65 L246.62,467.02 L246.73,470.23 L246.85,472.25 L246.96,469.61 L247.08,472.89 L247.2,468.95 L247.31,468.83 L247.43,471.88 L247.55,471.98 L247.66,470.61 L247.78,470.9 L247.89,472.6 L248.01,469.96 L248.13,474.44 L248.24,471.69 L248.36,471.65 L248.47,471.43 L248.59,470.44 L248.71,473.09 L248.82,469.98 L248.94,471.3 L249.06,472.12 L249.17,473.36 L249.29,473.05 L249.4,470.4 L249.52,472.69 L249.64,470.93 L249.75,469.21 L249.87,469.27 L249.99,468.37 L250.1,471.58 L250.22,472.94 L250.33,469.32 L250.45,470.55 L250.57,469.15 L250.68,471.08 L250.8,469.04 L250.91,469.65 L251.03,469.88 L251.15,470.26 L251.26,470.45 L251.38,470.74 L251.5,470.76 L251.61,469.44 L251.73,472.05 L251.84,468.16 L251.96,471.36 L252.08,469.47 L252.19,471.34 L252.31,471.62 L252.43,467.67 L252.54,471.74 L252.66,473.43 L252.77,472.46 L252.89,471.78 L253.01,467.48 L253.12,470.88 L253.24,469.62 L253.35,472.99 L253.47,470.64 L253.59,470.09 L253.7,468.13 L253.82,472.49 L253.94,470.23 L254.05,470.76 L254.17,473.08 L254.28,471.33 L254.4,471.76 L254.52,475.37 L254.63,470.27 L254.75,470.38 L254.87,472.09 L254.98,473.67 L255.1,468.75 L255.21,470.88 L255.33,469.57 L255.45,468.88 L255.56,472.27 L255.68,469.94 L255.79,471.8 L255.91,471.49 L256.03,471.53 L256.14,471.39 L256.26,469.44 L256.38,471.18 L256.49,471.67 L256.61,471.9 L256.72,470.81 L256.84,472.99 L256.96,472.31 L257.07,471.52 L257.19,472.43 L257.31,471.65 L257.42,472.52 L257.54,467.92 L257.65,469.11 L257.77,470.67 L257.89,471.56 L258,467.6 L258.12,470.9 L258.23,471.63 L258.35,470.95 L258.47,470.95 L258.58,469 L258.7,471.53 L258.82,467.79 L258.93,473.07 L259.05,470.28 L259.16,473.29 L259.28,468.3 L259.4,472.11 L259.51,471.63 L259.63,469.89 L259.75,469.31 L259.86,473.51 L259.98,472.16 L260.09,474.03 L260.21,471.31 L260.33,471.74 L260.44,472.18 L260.56,472.78 L260.67,472.26 L260.79,472.9 L260.91,470.64 L261.02,468.88 L261.14,475.02 L261.26,471.8 L261.37,472.34 L261.49,470.72 L261.6,473.3 L261.72,471.86 L261.84,473.46 L261.95,470.37 L262.07,471.44 L262.19,471.9 L262.3,470.96 L262.42,472.06 L262.53,474.4 L262.65,470.56 L262.77,471.12 L262.88,471.91 L263,469.88 L263.11,469.46 L263.23,473.6 L263.35,473.05 L263.46,468.88 L263.58,469.11 L263.7,472.98 L263.81,473.78 L263.93,472.81 L264.04,472.56 L264.16,474.51 L264.28,471.61 L264.39,473.97 L264.51,473.85 L264.63,470.03 L264.74,472.91 L264.86,471.81 L264.97,470.55 L265.09,470.22 L265.21,472.3 L265.32,471.61 L265.44,473.18 L265.55,468.54 L265.67,470.53 L265.79,473.69 L265.9,471.7 L266.02,470.42 L266.14,470.84 L266.25,468.4 L266.37,469.23 L266.48,472.69 L266.6,471.88 L266.72,474.04 L266.83,471.27 L266.95,471.45 L267.07,466.83 L267.18,471.55 L267.3,475.52 L267.41,472.95 L267.53,471.53 L267.65,474.01 L267.76,473.31 L267.88,472.4 L267.99,471.12 L268.11,472.04 L268.23,473.36 L268.34,470.31 L268.46,472.73 L268.58,472.66 L268.69,474.26 L268.81,473.18 L268.92,470.57 L269.04,474.7 L269.16,471.89 L269.27,470.45 L269.39,472.45 L269.51,471.32 L269.62,473.8 L269.74,469.37 L269.85,469.76 L269.97,471.34 L270.09,474.98 L270.2,473.68 L270.32,469.99 L270.43,468.64 L270.55,471.23 L270.67,469.5 L270.78,472.89 L270.9,472.13 L271.02,471.78 L271.13,471.01 L271.25,474.59 L271.36,470.07 L271.48,469.37 L271.6,473.9 L271.71,474.28 L271.83,471.15 L271.94,473 L272.06,476.15 L272.18,470.32 L272.29,471.52 L272.41,472.68 L272.53,467.92 L272.64,471.55 L272.76,473.2 L272.87,471.63 L272.99,473.73 L273.11,473.22 L273.22,471.11 L273.34,472.84 L273.46,472.65 L273.57,468.75 L273.69,470.24 L273.8,470.35 L273.92,470.85 L274.04,470.94 L274.15,469.14 L274.27,471.87 L274.38,468.41 L274.5,473.6 L274.62,472.31 L274.73,474.4 L274.85,472.48 L274.97,470.89 L275.08,469.16 L275.2,473.08 L275.31,471.85 L275.43,472.52 L275.55,473.23 L275.66,474.07 L275.78,471.75 L275.9,475.08 L276.01,471.66 L276.13,471.83 L276.24,473.1 L276.36,473.76 L276.48,474.45 L276.59,468.4 L276.71,474.38 L276.82,468.99 L276.94,470.77 L277.06,472.57 L277.17,474.05 L277.29,469.96 L277.41,468.68 L277.52,473.65 L277.64,472.47 L277.75,469.95 L277.87,471.29 L277.99,468.18 L278.1,472.98 L278.22,470.91 L278.34,474.26 L278.45,468.01 L278.57,473.3 L278.68,476.07 L278.8,472.18 L278.92,472.2 L279.03,468.36 L279.15,472.58 L279.26,471.98 L279.38,470.85 L279.5,468.99 L279.61,472.08 L279.73,470.02 L279.85,471 L279.96,472.53 L280.08,471.84 L280.19,471.93 L280.31,473.71 L280.43,469.71 L280.54,474.6 L280.66,469.8 L280.78,470.21 L280.89,472.19 L281.01,473.46 L281.12,472.45 L281.24,471.13 L281.36,470.63 L281.47,471.49 L281.59,470.17 L281.7,473.09 L281.82,471.6 L281.94,475.01 L282.05,470.61 L282.17,471.77 L282.29,472.85 L282.4,469.88 L282.52,470.77 L282.63,477.4 L282.75,472.01 L282.87,474.84 L282.98,470.08 L283.1,467.39 L283.22,473.09 L283.33,471.97 L283.45,472.59 L283.56,471.46 L283.68,470.9 L283.8,469.69 L283.91,474.01 L284.03,469.16 L284.14,473.92 L284.26,471.63 L284.38,469.96 L284.49,470.81 L284.61,473.95 L284.73,473.51 L284.84,473.06 L284.96,472.28 L285.07,470.01 L285.19,474.66 L285.31,471.32 L285.42,471.05 L285.54,471.15 L285.66,471.33 L285.77,469.33 L285.89,471.3 L286,470.61 L286.12,471.17 L286.24,468.83 L286.35,475.89 L286.47,469.82 L286.58,472.77 L286.7,472.81 L286.82,474.14 L286.93,475.86 L287.05,473.03 L287.17,473.62 L287.28,471.36 L287.4,475.13 L287.51,469.58 L287.63,471.81 L287.75,472.81 L287.86,473.7 L287.98,473.85 L288.1,474.52 L288.21,473.4 L288.33,472.35 L288.44,472.71 L288.56,475.09 L288.68,472.89 L288.79,474.11 L288.91,472.09 L289.02,468.82 L289.14,471.21 L289.26,473.02 L289.37,475.55 L289.49,475.15 L289.61,475.69 L289.72,471.05 L289.84,473.92 L289.95,472.34 L290.07,473.66 L290.19,472.29 L290.3,469.77 L290.42,473.81 L290.54,473.15 L290.65,474.06 L290.77,470.82 L290.88,474.49 L291,474.71" fill="none" stroke="#3e9c2a" stroke-width="1.2" stroke-linejoin="round"/>
<rect x="35.5" y="281.3" width="255.5" height="193.3" fill="none" stroke="#262626" stroke-width="1"/>
<text x="53.75" y="489.3" font-size="12.6" text-anchor="middle" fill="#262626" textLength="25" lengthAdjust="spacingAndGlyphs">1556</text>
<text x="90.25" y="489.3" font-size="12.6" text-anchor="middle" fill="#262626" textLength="25" lengthAdjust="spacingAndGlyphs">1558</text>
<text x="126.75" y="489.3" font-size="12.6" text-anchor="middle" fill="#262626" textLength="25" lengthAdjust="spacingAndGlyphs">1560</text>
<text x="163.25" y="489.3" font-size="12.6" text-anchor="middle" fill="#262626" textLength="25" lengthAdjust="spacingAndGlyphs">1562</text>
<text x="199.75" y="489.3" font-size="12.6" text-anchor="middle" fill="#262626" textLength="25" lengthAdjust="spacingAndGlyphs">1564</text>
<text x="236.25" y="489.3" font-size="12.6" text-anchor="middle" fill="#262626" textLength="25" lengthAdjust="spacingAndGlyphs">1566</text>
<text x="272.75" y="489.3" font-size="12.6" text-anchor="middle" fill="#262626" textLength="25" lengthAdjust="spacingAndGlyphs">1568</text>
<text x="30.9" y="285.8" font-size="12.6" text-anchor="end" fill="#262626" textLength="6.3" lengthAdjust="spacingAndGlyphs">0</text>
<text x="30.9" y="315.54" font-size="12.6" text-anchor="end" fill="#262626" textLength="16.2" lengthAdjust="spacingAndGlyphs">-10</text>
<text x="30.9" y="345.28" font-size="12.6" text-anchor="end" fill="#262626" textLength="16.2" lengthAdjust="spacingAndGlyphs">-20</text>
<text x="30.9" y="375.02" font-size="12.6" text-anchor="end" fill="#262626" textLength="16.2" lengthAdjust="spacingAndGlyphs">-30</text>
<text x="30.9" y="404.75" font-size="12.6" text-anchor="end" fill="#262626" textLength="16.2" lengthAdjust="spacingAndGlyphs">-40</text>
<text x="30.9" y="434.49" font-size="12.6" text-anchor="end" fill="#262626" textLength="16.2" lengthAdjust="spacingAndGlyphs">-50</text>
<text x="30.9" y="464.23" font-size="12.6" text-anchor="end" fill="#262626" textLength="16.2" lengthAdjust="spacingAndGlyphs">-60</text>
<path d="M53.75,474.6 v-2.8 M53.75,281.3 v2.8 M90.25,474.6 v-2.8 M90.25,281.3 v2.8 M126.75,474.6 v-2.8 M126.75,281.3 v2.8 M163.25,474.6 v-2.8 M163.25,281.3 v2.8 M199.75,474.6 v-2.8 M199.75,281.3 v2.8 M236.25,474.6 v-2.8 M236.25,281.3 v2.8 M272.75,474.6 v-2.8 M272.75,281.3 v2.8 M35.5,281.3 h2.8 M291,281.3 h-2.8 M35.5,311.04 h2.8 M291,311.04 h-2.8 M35.5,340.78 h2.8 M291,340.78 h-2.8 M35.5,370.52 h2.8 M291,370.52 h-2.8 M35.5,400.25 h2.8 M291,400.25 h-2.8 M35.5,429.99 h2.8 M291,429.99 h-2.8 M35.5,459.73 h2.8 M291,459.73 h-2.8" stroke="#262626" stroke-width="1" fill="none"/>
<text x="163.1" y="504.3" font-size="12.8" text-anchor="middle" fill="#262626" textLength="95.8" lengthAdjust="spacingAndGlyphs">Wavelength (nm)</text>
<text transform="translate(12.2,374.6) rotate(-90)" x="0" y="0" font-size="13.2" text-anchor="middle" fill="#262626" textLength="84.5" lengthAdjust="spacingAndGlyphs">Intensity (dBm)</text>
<path d="M349.6,331.72 L349.81,331.95 L350.02,331.97 L350.23,331.88 L350.45,331.79 L350.66,331.87 L350.87,332.03 L351.08,331.89 L351.29,331.81 L351.5,332.02 L351.71,332.1 L351.93,331.87 L352.14,331.89 L352.35,331.81 L352.56,331.92 L352.77,332.02 L352.98,331.99 L353.19,332.06 L353.41,332.05 L353.62,332.01 L353.83,332 L354.04,331.79 L354.25,332.09 L354.46,331.94 L354.67,332.01 L354.89,331.74 L355.1,331.9 L355.31,331.98 L355.52,331.83 L355.73,331.92 L355.94,331.99 L356.15,331.74 L356.37,331.84 L356.58,331.71 L356.79,331.78 L357,331.83 L357.21,331.92 L357.42,332.07 L357.63,331.84 L357.85,331.92 L358.06,331.85 L358.27,331.93 L358.48,332.02 L358.69,332.06 L358.9,331.84 L359.11,331.77 L359.33,331.97 L359.54,331.87 L359.75,331.76 L359.96,332.04 L360.17,331.98 L360.38,332.08 L360.59,331.78 L360.81,331.9 L361.02,331.99 L361.23,332.14 L361.44,331.95 L361.65,331.8 L361.86,331.97 L362.07,331.99 L362.29,331.85 L362.5,332.09 L362.71,331.92 L362.92,331.86 L363.13,332.03 L363.34,332.04 L363.55,331.9 L363.77,331.94 L363.98,331.96 L364.19,331.9 L364.4,331.9 L364.61,332.05 L364.82,332.02 L365.03,331.87 L365.25,331.79 L365.46,331.76 L365.67,332.04 L365.88,331.79 L366.09,331.83 L366.3,331.93 L366.51,331.87 L366.73,331.83 L366.94,331.7 L367.15,332.07 L367.36,331.85 L367.57,331.95 L367.78,331.96 L367.99,331.78 L368.21,331.83 L368.42,332.06 L368.63,331.97 L368.84,331.9 L369.05,332.11 L369.26,331.82 L369.48,331.94 L369.69,331.91 L369.9,331.89 L370.11,331.7 L370.32,331.93 L370.53,331.98 L370.74,331.71 L370.96,331.99 L371.17,332 L371.38,332.11 L371.59,331.79 L371.8,331.9 L372.01,331.87 L372.22,331.91 L372.44,331.95 L372.65,332.03 L372.86,332.03 L373.07,331.88 L373.28,331.91 L373.49,331.72 L373.7,332.03 L373.92,331.99 L374.13,332.06 L374.34,331.75 L374.55,332.09 L374.76,331.83 L374.97,331.75 L375.18,331.95 L375.4,331.84 L375.61,332.2 L375.82,331.98 L376.03,332.14 L376.24,331.91 L376.45,331.93 L376.66,332.03 L376.88,331.81 L377.09,331.88 L377.3,332 L377.51,332 L377.72,332.12 L377.93,331.95 L378.14,331.66 L378.36,332.02 L378.57,331.88 L378.78,332 L378.99,331.83 L379.2,331.87 L379.41,331.96 L379.62,332.16 L379.84,332 L380.05,331.78 L380.26,331.96 L380.47,331.85 L380.68,331.99 L380.89,332.17 L381.1,331.88 L381.32,331.89 L381.53,332 L381.74,331.98 L381.95,331.89 L382.16,332 L382.37,331.89 L382.58,331.96 L382.8,332.23 L383.01,331.95 L383.22,332.01 L383.43,332.04 L383.64,331.88 L383.85,331.99 L384.06,331.86 L384.28,331.79 L384.49,331.91 L384.7,332.13 L384.91,332.02 L385.12,331.81 L385.33,331.96 L385.54,332.03 L385.76,331.94 L385.97,331.87 L386.18,331.9 L386.39,331.85 L386.6,332.03 L386.81,331.96 L387.02,331.96 L387.24,331.93 L387.45,332.2 L387.66,331.96 L387.87,332.1 L388.08,331.75 L388.29,331.73 L388.5,331.72 L388.72,331.83 L388.93,331.99 L389.14,331.81 L389.35,331.95 L389.56,331.85 L389.77,332.04 L389.98,332 L390.2,331.87 L390.41,331.7 L390.62,331.93 L390.83,331.64 L391.04,331.58 L391.25,332.09 L391.46,331.93 L391.68,332.05 L391.89,331.95 L392.1,332 L392.31,331.94 L392.52,331.81 L392.73,331.81 L392.94,331.9 L393.16,331.93 L393.37,331.91 L393.58,331.91 L393.79,331.86 L394,331.93 L394.21,331.86 L394.42,332.09 L394.64,331.83 L394.85,331.71 L395.06,331.91 L395.27,332.11 L395.48,331.76 L395.69,331.97 L395.9,332.31 L396.12,331.96 L396.33,331.85 L396.54,331.88 L396.75,331.77 L396.96,331.85 L397.17,331.91 L397.38,332.18 L397.6,332.07 L397.81,331.91 L398.02,331.84 L398.23,332.06 L398.44,332.01 L398.65,331.87 L398.86,332.17 L399.08,332.18 L399.29,331.96 L399.5,331.9 L399.71,331.99 L399.92,332.22 L400.13,331.93 L400.34,332.1 L400.56,331.84 L400.77,331.94 L400.98,331.89 L401.19,331.85 L401.4,332 L401.61,331.82 L401.82,331.77 L402.04,331.88 L402.25,331.76 L402.46,332.01 L402.67,331.81 L402.88,331.89 L403.09,332.05 L403.3,331.94 L403.52,332 L403.73,332 L403.94,331.92 L404.15,331.79 L404.36,331.97 L404.57,331.91 L404.78,332.11 L405,331.91 L405.21,331.78 L405.42,331.82 L405.63,331.87 L405.84,331.99 L406.05,332.05 L406.27,331.94 L406.48,332.1 L406.69,332.08 L406.9,331.81 L407.11,332.04 L407.32,331.7 L407.53,332.11 L407.75,331.87 L407.96,332.08 L408.17,331.91 L408.38,332.06 L408.59,331.92 L408.8,331.95 L409.01,331.99 L409.23,331.86 L409.44,331.74 L409.65,332 L409.86,331.82 L410.07,331.92 L410.28,331.93 L410.49,331.65 L410.71,332.2 L410.92,332.01 L411.13,332.16 L411.34,331.97 L411.55,331.96 L411.76,331.44 L411.97,331.88 L412.19,331.7 L412.4,331.76 L412.61,331.98 L412.82,331.87 L413.03,331.72 L413.24,331.91 L413.45,331.9 L413.67,331.86 L413.88,332.12 L414.09,332.03 L414.3,331.89 L414.51,331.86 L414.72,332.04 L414.93,331.97 L415.15,331.94 L415.36,331.95 L415.57,331.84 L415.78,331.91 L415.99,331.91 L416.2,332.11 L416.41,332.06 L416.63,331.89 L416.84,332.13 L417.05,331.89 L417.26,332.01 L417.47,332.03 L417.68,331.85 L417.89,332.01 L418.11,332.04 L418.32,332.01 L418.53,331.92 L418.74,331.58 L418.95,332.2 L419.16,331.93 L419.37,331.96 L419.59,331.81 L419.8,331.98 L420.01,332.24 L420.22,331.76 L420.43,332.07 L420.64,331.94 L420.85,332.1 L421.07,332.07 L421.28,331.99 L421.49,331.82 L421.7,331.82 L421.91,332.01 L422.12,331.87 L422.33,331.98 L422.55,331.92 L422.76,331.91 L422.97,331.85 L423.18,332.01 L423.39,331.95 L423.6,331.9 L423.81,331.92 L424.03,332.03 L424.24,331.71 L424.45,331.99 L424.66,331.83 L424.87,331.9 L425.08,331.77 L425.29,332.21 L425.51,331.67 L425.72,331.96 L425.93,332.09 L426.14,331.91 L426.35,331.64 L426.56,331.87 L426.77,332.09 L426.99,331.99 L427.2,331.76 L427.41,332.11 L427.62,331.95 L427.83,331.97 L428.04,331.65 L428.25,331.97 L428.47,331.76 L428.68,332.02 L428.89,332.03 L429.1,331.8 L429.31,331.85 L429.52,332.15 L429.73,331.85 L429.95,331.85 L430.16,332.01 L430.37,331.9 L430.58,331.9 L430.79,331.99 L431,332.01 L431.21,332.02 L431.43,331.97 L431.64,332.1 L431.85,331.94 L432.06,332.12 L432.27,331.92 L432.48,331.94 L432.69,332.06 L432.91,331.82 L433.12,331.68 L433.33,331.76 L433.54,332.11 L433.75,331.77 L433.96,331.9 L434.17,331.94 L434.39,332.01 L434.6,331.93 L434.81,331.75 L435.02,331.86 L435.23,331.98 L435.44,332.02 L435.65,331.98 L435.87,331.86 L436.08,331.69 L436.29,332.07 L436.5,331.93 L436.71,331.98 L436.92,332.03 L437.13,331.88 L437.35,331.86 L437.56,332.11 L437.77,332.06 L437.98,331.78 L438.19,331.89 L438.4,331.86 L438.61,331.99 L438.83,331.98 L439.04,331.87 L439.25,331.99 L439.46,332.07 L439.67,331.93 L439.88,331.82 L440.09,332.06 L440.31,331.8 L440.52,331.84 L440.73,332.04 L440.94,331.93 L441.15,331.94 L441.36,331.85 L441.57,331.85 L441.79,332.1 L442,332.1 L442.21,331.8 L442.42,331.92 L442.63,331.88 L442.84,331.89 L443.06,331.74 L443.27,332.08 L443.48,331.79 L443.69,332.04 L443.9,331.84 L444.11,331.76 L444.32,332.11 L444.54,331.88 L444.75,331.97 L444.96,331.97 L445.17,331.93 L445.38,332.06 L445.59,332.05 L445.8,331.85 L446.02,331.82 L446.23,332 L446.44,332.12 L446.65,331.64 L446.86,331.79 L447.07,331.89 L447.28,332.06 L447.5,332 L447.71,331.9 L447.92,332.05 L448.13,331.73 L448.34,331.91 L448.55,331.88 L448.76,332.06 L448.98,332.05 L449.19,332.03 L449.4,331.9 L449.61,331.96 L449.82,331.97 L450.03,331.89 L450.24,331.9 L450.46,331.74 L450.67,331.96 L450.88,332.06 L451.09,331.93 L451.3,331.75 L451.51,332 L451.72,331.92 L451.94,331.98 L452.15,331.88 L452.36,331.9 L452.57,332.03 L452.78,331.96 L452.99,331.81 L453.2,331.79 L453.42,331.81 L453.63,331.82 L453.84,331.97 L454.05,331.98 L454.26,331.81 L454.47,332.08 L454.68,331.94 L454.9,332.17 L455.11,331.98 L455.32,332.02 L455.53,332.08 L455.74,331.86 L455.95,332.02 L456.16,331.98 L456.38,331.96 L456.59,332.02 L456.8,331.75 L457.01,331.99 L457.22,331.91 L457.43,332.1 L457.64,331.99 L457.86,331.97 L458.07,331.97 L458.28,332 L458.49,331.91 L458.7,331.73 L458.91,331.95 L459.12,331.95 L459.34,331.98 L459.55,331.61 L459.76,331.73 L459.97,331.86 L460.18,331.84 L460.39,332.02 L460.6,331.95 L460.82,331.9 L461.03,331.92 L461.24,332.04 L461.45,332.03 L461.66,331.87 L461.87,331.89 L462.08,332.2 L462.3,331.92 L462.51,331.77 L462.72,332.01 L462.93,331.9 L463.14,332.11 L463.35,331.83 L463.56,332.07 L463.78,332.09 L463.99,331.97 L464.2,331.63 L464.41,332.01 L464.62,332.09 L464.83,331.87 L465.04,331.9 L465.26,331.72 L465.47,332.09 L465.68,332.13 L465.89,331.97 L466.1,331.88 L466.31,331.89 L466.52,331.79 L466.74,332.12 L466.95,332.03 L467.16,331.95 L467.37,331.82 L467.58,331.87 L467.79,331.98 L468,332.06 L468.22,331.82 L468.43,331.81 L468.64,331.59 L468.85,331.95 L469.06,331.73 L469.27,332.08 L469.48,332 L469.7,332.02 L469.91,331.99 L470.12,332.04 L470.33,332 L470.54,331.94 L470.75,331.99 L470.96,331.85 L471.18,331.94 L471.39,331.93 L471.6,331.74 L471.81,331.89 L472.02,331.91 L472.23,331.93 L472.44,331.92 L472.66,331.86 L472.87,332.03 L473.08,331.79 L473.29,331.73 L473.5,331.78 L473.71,331.99 L473.92,332.13 L474.14,331.99 L474.35,331.91 L474.56,331.83 L474.77,331.95 L474.98,331.97 L475.19,331.74 L475.4,332.01 L475.62,331.8 L475.83,331.82 L476.04,332.1 L476.25,331.9 L476.46,332 L476.67,332.05 L476.88,332.16 L477.1,332.13 L477.31,331.88 L477.52,331.98 L477.73,331.9 L477.94,332.06 L478.15,331.97 L478.36,331.96 L478.58,332.12 L478.79,332.14 L479,331.87 L479.21,331.91 L479.42,332.05 L479.63,331.94 L479.85,331.85 L480.06,331.7 L480.27,332.04 L480.48,331.85 L480.69,331.66 L480.9,331.92 L481.11,331.75 L481.33,332.26 L481.54,331.75 L481.75,331.93 L481.96,332.17 L482.17,331.83 L482.38,331.8 L482.59,331.78 L482.81,331.78 L483.02,331.93 L483.23,332.02 L483.44,331.99 L483.65,331.93 L483.86,331.88 L484.07,331.99 L484.29,331.92 L484.5,331.82 L484.71,331.89 L484.92,331.64 L485.13,331.66 L485.34,332.07 L485.55,332 L485.77,332.1 L485.98,332.08 L486.19,331.86 L486.4,332.06 L486.61,332.06 L486.82,331.96 L487.03,331.83 L487.25,331.97 L487.46,331.98 L487.67,331.81 L487.88,331.87 L488.09,331.87 L488.3,331.81 L488.51,332.06 L488.73,331.9 L488.94,332.01 L489.15,331.8 L489.36,331.83 L489.57,332.06 L489.78,331.76 L489.99,332.08 L490.21,331.78 L490.42,331.9 L490.63,332.04 L490.84,332.07 L491.05,331.97 L491.26,331.93 L491.47,332.02 L491.69,331.86 L491.9,332.11 L492.11,331.93 L492.32,331.93 L492.53,332.17 L492.74,331.89 L492.95,332.09 L493.17,332.25 L493.38,332.01 L493.59,331.96 L493.8,331.82 L494.01,331.99 L494.22,331.74 L494.43,331.75 L494.65,331.79 L494.86,331.76 L495.07,331.89 L495.28,332 L495.49,331.85 L495.7,331.81 L495.91,331.9 L496.13,331.96 L496.34,332.13 L496.55,331.84 L496.76,331.89 L496.97,332.1 L497.18,331.92 L497.39,331.84 L497.61,331.94 L497.82,331.83 L498.03,331.83 L498.24,332.12 L498.45,331.97 L498.66,331.87 L498.87,331.81 L499.09,331.75 L499.3,332.17 L499.51,331.94 L499.72,331.84 L499.93,331.77 L500.14,331.72 L500.35,332.05 L500.57,331.98 L500.78,332.06 L500.99,331.83 L501.2,332.1 L501.41,331.78 L501.62,331.81 L501.83,331.87 L502.05,332.21 L502.26,332.02 L502.47,331.84 L502.68,332.11 L502.89,331.96 L503.1,331.94 L503.31,331.82 L503.53,331.89 L503.74,331.9 L503.95,331.99 L504.16,331.93 L504.37,331.95 L504.58,331.84 L504.79,331.95 L505.01,331.8 L505.22,332.15 L505.43,331.78 L505.64,331.95 L505.85,331.79 L506.06,331.92 L506.27,331.82 L506.49,331.74 L506.7,332 L506.91,331.92 L507.12,331.95 L507.33,331.9 L507.54,332.14 L507.75,331.95 L507.97,331.96 L508.18,332.03 L508.39,331.96 L508.6,332.13 L508.81,331.75 L509.02,331.87 L509.23,331.69 L509.45,332.04 L509.66,332.08 L509.87,331.89 L510.08,332.14 L510.29,331.9 L510.5,332.02 L510.71,331.97 L510.93,331.9 L511.14,331.92 L511.35,331.69 L511.56,331.85 L511.77,332.09 L511.98,331.81 L512.19,332.1 L512.41,331.92 L512.62,332.09 L512.83,332.04 L513.04,331.76 L513.25,332 L513.46,332.01 L513.67,332 L513.89,331.97 L514.1,331.75 L514.31,332.08 L514.52,332.09 L514.73,331.86 L514.94,332.13 L515.15,331.98 L515.37,331.79 L515.58,331.93 L515.79,331.99 L516,332.02 L516.21,332.05 L516.42,332.01 L516.64,331.91 L516.85,331.77 L517.06,331.81 L517.27,332 L517.48,332.02 L517.69,331.84 L517.9,332.16 L518.12,331.99 L518.33,331.97 L518.54,332.07 L518.75,332.06 L518.96,331.89 L519.17,332.14 L519.38,332.05 L519.6,332.02 L519.81,331.92 L520.02,332.11 L520.23,331.8 L520.44,331.97 L520.65,331.97 L520.86,331.98 L521.08,332.02 L521.29,332.06 L521.5,331.79 L521.71,331.91 L521.92,331.95 L522.13,331.81 L522.34,332.02 L522.56,331.85 L522.77,331.93 L522.98,332.05 L523.19,331.84 L523.4,332.12 L523.61,331.85 L523.82,332.05 L524.04,331.88 L524.25,331.76 L524.46,331.86 L524.67,332.01 L524.88,331.94 L525.09,331.98 L525.3,332.08 L525.52,332.08 L525.73,331.93 L525.94,331.87 L526.15,332.16 L526.36,331.95 L526.57,331.87 L526.78,331.92 L527,332.06 L527.21,331.81 L527.42,332.09 L527.63,331.85 L527.84,331.73 L528.05,332.2 L528.26,331.9 L528.48,331.9 L528.69,331.91 L528.9,332.03 L529.11,331.98 L529.32,332.11 L529.53,331.92 L529.74,331.87 L529.96,332.02 L530.17,332.05 L530.38,332 L530.59,331.94 L530.8,331.93 L531.01,331.95 L531.22,331.93 L531.44,332.1 L531.65,332.28 L531.86,331.86 L532.07,331.76 L532.28,332.12 L532.49,332.02 L532.7,331.9 L532.92,331.82 L533.13,331.86 L533.34,331.78 L533.55,331.95 L533.76,331.89 L533.97,331.89 L534.18,331.99 L534.4,331.79 L534.61,331.86 L534.82,331.82 L535.03,331.99 L535.24,331.81 L535.45,332.07 L535.66,331.89 L535.88,332.27 L536.09,332.07 L536.3,331.85 L536.51,332 L536.72,331.92 L536.93,332.14 L537.14,331.74 L537.36,331.86 L537.57,331.94 L537.78,331.89 L537.99,331.9 L538.2,331.76 L538.41,331.91 L538.62,332.12 L538.84,331.97 L539.05,331.78 L539.26,331.87 L539.47,331.99 L539.68,331.86 L539.89,331.92 L540.1,331.86 L540.32,332.14 L540.53,332.05 L540.74,331.86 L540.95,331.97 L541.16,331.89 L541.37,331.69 L541.58,331.98 L541.8,331.91 L542.01,332.01 L542.22,332.02 L542.43,331.95 L542.64,332.12 L542.85,332.2 L543.06,331.77 L543.28,331.95 L543.49,331.8 L543.7,331.92 L543.91,331.92 L544.12,331.85 L544.33,331.85 L544.54,332.09 L544.76,331.79 L544.97,332.06 L545.18,331.91 L545.39,331.62 L545.6,331.93 L545.81,331.73 L546.02,331.98 L546.24,331.86 L546.45,331.93 L546.66,331.89 L546.87,332.05 L547.08,332.05 L547.29,331.9 L547.5,332.14 L547.72,332.05 L547.93,331.86 L548.14,332.02 L548.35,332.05 L548.56,332.08 L548.77,331.92 L548.98,331.98 L549.2,331.92 L549.41,331.96 L549.62,331.71 L549.83,331.99 L550.04,332.18 L550.25,331.92 L550.46,331.94 L550.68,331.92 L550.89,332.14 L551.1,331.8 L551.31,331.94 L551.52,331.94 L551.73,332.14 L551.94,331.88 L552.16,331.95 L552.37,331.77 L552.58,331.99 L552.79,332.09 L553,331.92 L553.21,332.05 L553.43,331.89 L553.64,332.07 L553.85,331.96 L554.06,331.97 L554.27,331.94 L554.48,332 L554.69,332.04 L554.91,331.95 L555.12,332.01 L555.33,331.92 L555.54,331.97 L555.75,332.22 L555.96,331.95 L556.17,331.77 L556.39,331.9 L556.6,331.86 L556.81,331.88 L557.02,332 L557.23,332.11 L557.44,331.84 L557.65,331.81 L557.87,331.87 L558.08,331.89 L558.29,331.89 L558.5,331.94 L558.71,331.9 L558.92,331.94 L559.13,331.9 L559.35,332.06 L559.56,332.02 L559.77,331.87 L559.98,331.98 L560.19,332.24 L560.4,331.92 L560.61,332.22 L560.83,331.7 L561.04,331.85 L561.25,331.86 L561.46,332.02 L561.67,332.08 L561.88,331.97 L562.09,331.94 L562.31,332.03 L562.52,331.92 L562.73,331.85 L562.94,331.86 L563.15,332.07 L563.36,332.21 L563.57,331.94 L563.79,332.02 L564,331.88 L564.21,331.74 L564.42,331.74 L564.63,331.9 L564.84,331.8 L565.05,331.74 L565.27,331.93 L565.48,331.9 L565.69,331.83 L565.9,331.94 L566.11,332 L566.32,332.03 L566.53,331.94 L566.75,332.01 L566.96,331.84 L567.17,331.98 L567.38,331.76 L567.59,331.79 L567.8,332.09 L568.01,331.8 L568.23,331.99 L568.44,331.77 L568.65,331.87 L568.86,331.94 L569.07,331.85 L569.28,332.01 L569.49,331.9 L569.71,331.89 L569.92,331.95 L570.13,331.89 L570.34,332.06 L570.55,331.87 L570.76,332.08 L570.97,331.86 L571.19,331.88 L571.4,331.85 L571.61,332 L571.82,331.56 L572.03,331.96 L572.24,331.92 L572.45,332.03 L572.67,331.76 L572.88,331.99 L573.09,331.81 L573.3,332.05 L573.51,331.9 L573.72,331.98 L573.93,331.82 L574.15,331.97 L574.36,332.04 L574.57,331.88 L574.78,332.08 L574.99,332.05 L575.2,331.84 L575.41,332.16 L575.63,331.84 L575.84,331.98 L576.05,332.04 L576.26,331.9 L576.47,331.86 L576.68,332 L576.89,331.95 L577.11,331.84 L577.32,331.84 L577.53,331.94 L577.74,332.03 L577.95,332.05 L578.16,332 L578.37,331.85 L578.59,331.86 L578.8,331.89 L579.01,331.76 L579.22,331.97 L579.43,331.98 L579.64,331.98 L579.85,331.7 L580.07,332.18 L580.28,331.9 L580.49,331.88 L580.7,331.92 L580.91,331.65 L581.12,331.79 L581.33,331.84 L581.55,332.04 L581.76,331.87 L581.97,331.98 L582.18,331.92 L582.39,331.91 L582.6,331.99 L582.81,331.85 L583.03,331.73 L583.24,331.8 L583.45,331.9 L583.66,332.16 L583.87,331.8 L584.08,331.8 L584.29,331.95 L584.51,331.99 L584.72,331.85 L584.93,332.03 L585.14,331.83 L585.35,332.06 L585.56,332.04 L585.77,331.93 L585.99,332.1 L586.2,331.93 L586.41,331.86 L586.62,332.09 L586.83,331.82 L587.04,332 L587.25,331.86 L587.47,331.9 L587.68,331.98 L587.89,331.99 L588.1,332.13 L588.31,332.01 L588.52,332.02 L588.73,331.73 L588.95,331.8 L589.16,332.09 L589.37,331.83 L589.58,331.9 L589.79,331.97 L590,331.87 L590.22,331.83 L590.43,332 L590.64,331.96 L590.85,331.91 L591.06,332.05 L591.27,331.9 L591.48,331.94 L591.7,332.01 L591.91,332.03 L592.12,331.89 L592.33,331.82 L592.54,331.89 L592.75,332.03 L592.96,331.84 L593.18,331.91 L593.39,331.86 L593.6,331.79 L593.81,332.04 L594.02,331.94 L594.23,332 L594.44,332.03 L594.66,331.69 L594.87,331.81 L595.08,332.14 L595.29,331.88 L595.5,331.99 L595.71,331.79 L595.92,331.92 L596.14,331.95 L596.35,331.91 L596.56,331.88 L596.77,331.92 L596.98,331.95 L597.19,331.94 L597.4,331.87 L597.62,332.06 L597.83,331.93 L598.04,331.94 L598.25,331.98 L598.46,331.84 L598.67,332.08 L598.88,331.97 L599.1,332.03 L599.31,331.86 L599.52,331.98 L599.73,331.92 L599.94,331.88 L600.15,332.12 L600.36,331.87 L600.58,332.02 L600.79,331.96 L601,331.94 L601.21,331.83 L601.42,331.84 L601.63,331.71 L601.84,331.91 L602.06,331.98 L602.27,331.99 L602.48,331.85 L602.69,331.73 L602.9,331.89 L603.11,332 L603.32,331.89 L603.54,331.9 L603.75,331.92 L603.96,332.02 L604.17,332.23 L604.38,331.99 L604.59,331.8 L604.8,331.9 L605.02,332.19 L605.23,331.93 L605.44,332.15 L605.65,331.69 L605.86,331.9 L606.07,332.07 L606.28,331.83 L606.5,332.02 L606.71,331.86 L606.92,331.92 L607.13,332.07 L607.34,331.85 L607.55,332.09 L607.76,331.77 L607.98,331.92 L608.19,332.05 L608.4,332.14 L608.61,331.73 L608.82,331.75 L609.03,332.08 L609.24,331.73 L609.46,331.91 L609.67,331.95 L609.88,331.94 L610.09,331.96 L610.3,331.75 L610.51,331.91 L610.72,332.15 L610.94,331.68 L611.15,331.82 L611.36,332.06 L611.57,331.97 L611.78,332.04 L611.99,331.92 L612.2,331.88 L612.42,331.9 L612.63,332 L612.84,332.02 L613.05,331.82 L613.26,331.94 L613.47,331.66 L613.68,332.02 L613.9,331.83 L614.11,331.92 L614.32,332.02 L614.53,331.76 L614.74,331.91 L614.95,332.03 L615.16,331.96 L615.38,331.8 L615.59,332.07 L615.8,331.76 L616.01,331.84 L616.22,331.96 L616.43,331.76 L616.64,331.72 L616.86,331.85 L617.07,331.91 L617.28,331.7 L617.49,331.75 L617.7,332.04 L617.91,331.95 L618.12,331.95 L618.34,331.98 L618.55,332.11 L618.76,331.82 L618.97,331.92 L619.18,331.91 L619.39,331.76 L619.6,331.99 L619.82,331.93 L620.03,331.89 L620.24,331.98 L620.45,331.94 L620.66,331.83 L620.87,331.93 L621.08,331.77 L621.3,332.02 L621.51,331.9 L621.72,332.1 L621.93,331.94 L622.14,332.01 L622.35,331.76 L622.56,331.84 L622.78,331.86 L622.99,331.7 L623.2,331.75 L623.41,331.84 L623.62,332.01 L623.83,332.1 L624.04,331.93 L624.26,331.97 L624.47,332 L624.68,331.96 L624.89,332.13 L625.1,331.75 L625.31,332.06 L625.52,332.01 L625.74,331.86 L625.95,332.12 L626.16,331.81 L626.37,331.81 L626.58,331.96 L626.79,332.06 L627.01,331.98 L627.22,332.15 L627.43,331.76 L627.64,331.92 L627.85,332.02 L628.06,332.04 L628.27,331.86 L628.49,331.74 L628.7,332.08 L628.91,332 L629.12,332.14 L629.33,331.84 L629.54,331.91 L629.75,331.65 L629.97,331.94 L630.18,331.98 L630.39,332.01 L630.6,331.82 L630.81,332.12 L631.02,331.84 L631.23,331.9 L631.45,331.99 L631.66,332.04 L631.87,331.8 L632.08,331.7 L632.29,331.98 L632.5,331.86 L632.71,331.71 L632.93,332 L633.14,331.96 L633.35,332.08 L633.56,331.94 L633.77,331.94 L633.98,331.98 L634.19,332.02 L634.41,332.12 L634.62,332.09 L634.83,332.05 L635.04,331.85 L635.25,331.99 L635.46,332.03 L635.67,331.85 L635.89,331.86 L636.1,332.02 L636.31,332 L636.52,331.85 L636.73,331.88 L636.94,332.03 L637.15,331.9 L637.37,331.93 L637.58,331.79 L637.79,332.03 L638,331.82 L638.21,331.87 L638.42,332.05 L638.63,331.8 L638.85,331.82 L639.06,332.09 L639.27,331.68 L639.48,332.07 L639.69,332.04 L639.9,331.97 L640.11,331.83 L640.33,331.85 L640.54,331.94 L640.75,331.76 L640.96,331.88 L641.17,331.75 L641.38,331.58 L641.59,331.9 L641.81,332.24 L642.02,331.98 L642.23,332.06 L642.44,331.92 L642.65,331.91 L642.86,332.08 L643.07,332.07 L643.29,331.96 L643.5,331.95 L643.71,332.25 L643.92,331.81 L644.13,331.92 L644.34,331.93 L644.55,331.89 L644.77,332.05 L644.98,331.93 L645.19,331.8 L645.4,331.79" fill="none" stroke="#5ab54a" stroke-width="1.15"/>
<path d="M349.6,318.97 L349.81,318.64 L350.02,318.28 L350.23,318.19 L350.45,318.17 L350.66,318.16 L350.87,318.23 L351.08,318.28 L351.29,318.44 L351.5,318.74 L351.71,318.77 L351.93,318.88 L352.14,319.68 L352.35,319.83 L352.56,320.18 L352.77,320.27 L352.98,320.32 L353.19,320.08 L353.41,319.76 L353.62,318.76 L353.83,318.27 L354.04,318.33 L354.25,317.68 L354.46,317.98 L354.67,317.41 L354.89,318.19 L355.1,318.39 L355.31,318.43 L355.52,318.66 L355.73,318.82 L355.94,318.72 L356.15,319.5 L356.37,319.84 L356.58,320.23 L356.79,321.04 L357,320.32 L357.21,320.21 L357.42,319.48 L357.63,319.14 L357.85,317.94 L358.06,317.46 L358.27,317.4 L358.48,316.65 L358.69,317.28 L358.9,317.78 L359.11,317.95 L359.33,318.01 L359.54,318.14 L359.75,318.5 L359.96,318.64 L360.17,318.99 L360.38,320.21 L360.59,320.55 L360.81,321.07 L361.02,320.97 L361.23,320.47 L361.44,320.2 L361.65,319.95 L361.86,318.98 L362.07,317.93 L362.29,317.82 L362.5,317.44 L362.71,317.33 L362.92,318.04 L363.13,317.63 L363.34,318.01 L363.55,318.17 L363.77,318.73 L363.98,318.83 L364.19,318.98 L364.4,319.01 L364.61,319.38 L364.82,319.72 L365.03,319.61 L365.25,319.95 L365.46,320.52 L365.67,320.36 L365.88,319.41 L366.09,319.48 L366.3,318.56 L366.51,318.04 L366.73,318.25 L366.94,317.99 L367.15,317.86 L367.36,318.19 L367.57,318.37 L367.78,318.39 L367.99,318.21 L368.21,318.67 L368.42,318.71 L368.63,318.88 L368.84,319.26 L369.05,318.73 L369.26,319.97 L369.48,319.82 L369.69,319.76 L369.9,320.45 L370.11,319.99 L370.32,319.72 L370.53,320.02 L370.74,319.38 L370.96,319.29 L371.17,318.47 L371.38,318.25 L371.59,317.99 L371.8,317.61 L372.01,317.86 L372.22,317.73 L372.44,318.06 L372.65,318.67 L372.86,318.42 L373.07,318.47 L373.28,319.06 L373.49,318.43 L373.7,318.88 L373.92,318.95 L374.13,319.47 L374.34,319.43 L374.55,319.56 L374.76,319.86 L374.97,319.82 L375.18,320.36 L375.4,319.33 L375.61,319.75 L375.82,319.76 L376.03,319.17 L376.24,318.89 L376.45,318.35 L376.66,318.6 L376.88,318.25 L377.09,318.59 L377.3,317.83 L377.51,318.34 L377.72,318.07 L377.93,318.91 L378.14,318.54 L378.36,319.01 L378.57,318.66 L378.78,318.7 L378.99,319.38 L379.2,319.38 L379.41,319.54 L379.62,319.79 L379.84,319.74 L380.05,319.91 L380.26,320.08 L380.47,319.65 L380.68,319.41 L380.89,319.69 L381.1,319.23 L381.32,318.81 L381.53,318.62 L381.74,318.53 L381.95,318.01 L382.16,317.95 L382.37,318.02 L382.58,318.33 L382.8,317.87 L383.01,318.04 L383.22,318.68 L383.43,318.69 L383.64,318.42 L383.85,319.01 L384.06,318.82 L384.28,319.06 L384.49,319.43 L384.7,319.51 L384.91,320.04 L385.12,319.92 L385.33,320.35 L385.54,319.2 L385.76,319.26 L385.97,319.1 L386.18,319.07 L386.39,318.61 L386.6,318.28 L386.81,318.17 L387.02,318.1 L387.24,318.56 L387.45,318.26 L387.66,318.6 L387.87,318.86 L388.08,318.94 L388.29,318.61 L388.5,318.5 L388.72,319.18 L388.93,318.44 L389.14,318.59 L389.35,319.17 L389.56,319.32 L389.77,319.34 L389.98,319.17 L390.2,319.58 L390.41,319.75 L390.62,319.3 L390.83,319.78 L391.04,319.02 L391.25,318.55 L391.46,318.57 L391.68,318.3 L391.89,318.29 L392.1,318.22 L392.31,318.41 L392.52,318.74 L392.73,318.66 L392.94,318.69 L393.16,318.41 L393.37,318.38 L393.58,318.79 L393.79,319.23 L394,319.44 L394.21,319.54 L394.42,319.37 L394.64,319.8 L394.85,319.94 L395.06,319.99 L395.27,319.28 L395.48,319.03 L395.69,318.68 L395.9,318.29 L396.12,317.65 L396.33,318.06 L396.54,317.66 L396.75,317.92 L396.96,318.39 L397.17,318.32 L397.38,318.69 L397.6,318.99 L397.81,318.99 L398.02,319.36 L398.23,319.27 L398.44,319.65 L398.65,319.69 L398.86,319.66 L399.08,320.53 L399.29,319.35 L399.5,319.51 L399.71,318.64 L399.92,318.64 L400.13,318.27 L400.34,317.95 L400.56,318.84 L400.77,318.48 L400.98,318.67 L401.19,319.22 L401.4,318.64 L401.61,318.9 L401.82,319.18 L402.04,319.43 L402.25,318.62 L402.46,319.69 L402.67,320.08 L402.88,319.75 L403.09,319.35 L403.3,319.03 L403.52,318.64 L403.73,318.66 L403.94,318.16 L404.15,318.46 L404.36,318.79 L404.57,318.77 L404.78,318.76 L405,318.53 L405.21,318.72 L405.42,319.1 L405.63,319.25 L405.84,319.49 L406.05,319.28 L406.27,320.09 L406.48,319.72 L406.69,319.35 L406.9,319.34 L407.11,318.57 L407.32,318.2 L407.53,318.17 L407.75,317.9 L407.96,317.91 L408.17,318.06 L408.38,318.56 L408.59,318.59 L408.8,318.15 L409.01,319.2 L409.23,319.1 L409.44,319.22 L409.65,319.71 L409.86,319.78 L410.07,319.93 L410.28,319.61 L410.49,319.12 L410.71,319.07 L410.92,318.56 L411.13,318.32 L411.34,318.28 L411.55,318.19 L411.76,318.59 L411.97,318.26 L412.19,318.14 L412.4,318.24 L412.61,318.44 L412.82,319.11 L413.03,318.6 L413.24,319.35 L413.45,319.38 L413.67,319.07 L413.88,319.94 L414.09,319.45 L414.3,319.49 L414.51,319.39 L414.72,319.3 L414.93,318.68 L415.15,318.67 L415.36,318.12 L415.57,318 L415.78,318.69 L415.99,318.54 L416.2,318.59 L416.41,318.91 L416.63,318.97 L416.84,318.72 L417.05,318.87 L417.26,319.34 L417.47,319.2 L417.68,319.11 L417.89,319.78 L418.11,319.91 L418.32,319.43 L418.53,319.57 L418.74,320.28 L418.95,320.03 L419.16,319.31 L419.37,319.36 L419.59,318.75 L419.8,318.49 L420.01,317.99 L420.22,318.66 L420.43,318.55 L420.64,318.36 L420.85,317.9 L421.07,318.33 L421.28,318.86 L421.49,318.4 L421.7,318.43 L421.91,318.76 L422.12,318.88 L422.33,318.82 L422.55,318.8 L422.76,319.29 L422.97,319.43 L423.18,319.8 L423.39,320.07 L423.6,320.3 L423.81,320 L424.03,320.03 L424.24,319.81 L424.45,319.23 L424.66,319.03 L424.87,318.62 L425.08,318.97 L425.29,318.2 L425.51,318.35 L425.72,318.35 L425.93,318.37 L426.14,317.9 L426.35,318.1 L426.56,318.6 L426.77,318.81 L426.99,318.6 L427.2,318.79 L427.41,318.31 L427.62,319.17 L427.83,319.33 L428.04,318.99 L428.25,319.01 L428.47,319.08 L428.68,319.03 L428.89,318.8 L429.1,319.5 L429.31,319.6 L429.52,319.92 L429.73,319.37 L429.95,319.14 L430.16,319.32 L430.37,318.83 L430.58,319 L430.79,318.49 L431,318.69 L431.21,318.98 L431.43,318.82 L431.64,319.04 L431.85,319.1 L432.06,318.61 L432.27,318.48 L432.48,318.24 L432.69,318.8 L432.91,318.87 L433.12,319.12 L433.33,318.6 L433.54,318.78 L433.75,319.07 L433.96,318.8 L434.17,318.91 L434.39,319.63 L434.6,319.06 L434.81,319.32 L435.02,319.53 L435.23,319.57 L435.44,318.99 L435.65,318.95 L435.87,318.72 L436.08,319.3 L436.29,318.96 L436.5,318.36 L436.71,318.76 L436.92,318.54 L437.13,318.8 L437.35,317.91 L437.56,318.19 L437.77,318.43 L437.98,318.58 L438.19,318.81 L438.4,318.87 L438.61,318.68 L438.83,319.14 L439.04,318.8 L439.25,319.44 L439.46,319.74 L439.67,319.36 L439.88,319.82 L440.09,319.62 L440.31,319.71 L440.52,319.91 L440.73,318.85 L440.94,319.01 L441.15,318.13 L441.36,318.66 L441.57,318.71 L441.79,318.22 L442,318.31 L442.21,318.52 L442.42,318.96 L442.63,318.5 L442.84,319.19 L443.06,319.06 L443.27,319.32 L443.48,319.43 L443.69,319.34 L443.9,319.88 L444.11,319.61 L444.32,319.46 L444.54,319.81 L444.75,319.31 L444.96,318.76 L445.17,318.54 L445.38,318.17 L445.59,318.75 L445.8,318.17 L446.02,318.3 L446.23,318.66 L446.44,319.06 L446.65,318.8 L446.86,319.07 L447.07,319 L447.28,319.44 L447.5,319.5 L447.71,319.97 L447.92,319.48 L448.13,320.23 L448.34,319.51 L448.55,318.66 L448.76,318.77 L448.98,317.94 L449.19,318.38 L449.4,318.14 L449.61,318.57 L449.82,318.61 L450.03,318.57 L450.24,318.76 L450.46,318.99 L450.67,318.59 L450.88,319.48 L451.09,320.08 L451.3,319.83 L451.51,319.89 L451.72,319.56 L451.94,318.96 L452.15,319.12 L452.36,318.1 L452.57,317.74 L452.78,317.91 L452.99,317.91 L453.2,318.92 L453.42,318.5 L453.63,318.05 L453.84,319.1 L454.05,318.91 L454.26,318.89 L454.47,319.1 L454.68,319.18 L454.9,320.39 L455.11,320.16 L455.32,319.97 L455.53,320.33 L455.74,319.6 L455.95,318.59 L456.16,318.21 L456.38,318 L456.59,318.57 L456.8,317.87 L457.01,317.83 L457.22,318.18 L457.43,318.3 L457.64,317.65 L457.86,318.62 L458.07,318.94 L458.28,318.77 L458.49,319.12 L458.7,319.39 L458.91,319.66 L459.12,319.75 L459.34,320.11 L459.55,320.57 L459.76,320.21 L459.97,319.81 L460.18,319.66 L460.39,318.79 L460.6,318.46 L460.82,318.55 L461.03,317.98 L461.24,317.45 L461.45,317.58 L461.66,318.1 L461.87,318.01 L462.08,318.56 L462.3,318.89 L462.51,318.47 L462.72,318.64 L462.93,318.65 L463.14,318.89 L463.35,318.92 L463.56,319.29 L463.78,319.2 L463.99,319.27 L464.2,319.64 L464.41,319.48 L464.62,320.15 L464.83,319.81 L465.04,319.08 L465.26,318.79 L465.47,318.94 L465.68,318.8 L465.89,318.91 L466.1,318.34 L466.31,318.16 L466.52,318.74 L466.74,318.25 L466.95,318.35 L467.16,318.45 L467.37,318.93 L467.58,318.56 L467.79,319.14 L468,318.44 L468.22,318.86 L468.43,319.31 L468.64,318.81 L468.85,319.03 L469.06,319.66 L469.27,319.05 L469.48,319.93 L469.7,319.56 L469.91,319.2 L470.12,319.87 L470.33,318.76 L470.54,318.78 L470.75,318.55 L470.96,318.68 L471.18,318.27 L471.39,318.67 L471.6,318.72 L471.81,318.68 L472.02,318.97 L472.23,318.32 L472.44,319.13 L472.66,319.04 L472.87,319.02 L473.08,319.06 L473.29,319 L473.5,319.16 L473.71,319.58 L473.92,319.66 L474.14,319.53 L474.35,319.2 L474.56,319.02 L474.77,319.08 L474.98,319.23 L475.19,317.95 L475.4,318.16 L475.62,318.32 L475.83,318.35 L476.04,318.66 L476.25,318.88 L476.46,318.78 L476.67,318.82 L476.88,318.99 L477.1,319.31 L477.31,319.17 L477.52,319.14 L477.73,319.62 L477.94,319.66 L478.15,320.28 L478.36,319.74 L478.58,319.52 L478.79,319.51 L479,319.29 L479.21,318.42 L479.42,318.52 L479.63,318.08 L479.85,318.33 L480.06,318.16 L480.27,318.53 L480.48,318.95 L480.69,318.68 L480.9,318.83 L481.11,318.68 L481.33,319.11 L481.54,319.3 L481.75,319.22 L481.96,319.37 L482.17,319.64 L482.38,319.61 L482.59,319.65 L482.81,319.3 L483.02,318.91 L483.23,318.64 L483.44,318.4 L483.65,318.16 L483.86,317.5 L484.07,318.16 L484.29,318.34 L484.5,318.51 L484.71,318.55 L484.92,318.58 L485.13,319.02 L485.34,319.35 L485.55,318.93 L485.77,319.65 L485.98,319.45 L486.19,319.75 L486.4,319.69 L486.61,319.62 L486.82,319.85 L487.03,319.79 L487.25,319.54 L487.46,318.98 L487.67,318.36 L487.88,318.61 L488.09,317.92 L488.3,317.95 L488.51,317.9 L488.73,318.31 L488.94,318.36 L489.15,318.71 L489.36,318.75 L489.57,319.2 L489.78,318.87 L489.99,318.71 L490.21,319.34 L490.42,319.58 L490.63,320.17 L490.84,319.69 L491.05,320.26 L491.26,319.7 L491.47,319.58 L491.69,319.48 L491.9,318.58 L492.11,318.51 L492.32,318.23 L492.53,318.04 L492.74,318.16 L492.95,318.32 L493.17,318.22 L493.38,318.58 L493.59,318.57 L493.8,318.84 L494.01,319.13 L494.22,318.98 L494.43,319.02 L494.65,319 L494.86,318.84 L495.07,319.73 L495.28,319.41 L495.49,320.14 L495.7,319.91 L495.91,319.77 L496.13,320.14 L496.34,319.9 L496.55,319.18 L496.76,318.97 L496.97,318.79 L497.18,318.77 L497.39,317.85 L497.61,318.36 L497.82,318.51 L498.03,317.89 L498.24,318.22 L498.45,318.56 L498.66,318.24 L498.87,318.58 L499.09,318.52 L499.3,318.68 L499.51,319.07 L499.72,318.64 L499.93,318.96 L500.14,319.4 L500.35,319.51 L500.57,319.25 L500.78,319.75 L500.99,319.75 L501.2,319.64 L501.41,319.74 L501.62,320.04 L501.83,319.28 L502.05,318.96 L502.26,318.72 L502.47,318.29 L502.68,318.42 L502.89,318.18 L503.1,317.92 L503.31,318.42 L503.53,317.96 L503.74,318.05 L503.95,318.39 L504.16,318.2 L504.37,318.52 L504.58,319.02 L504.79,318.55 L505.01,318.81 L505.22,318.85 L505.43,319 L505.64,318.78 L505.85,319.06 L506.06,319.44 L506.27,319.16 L506.49,319.07 L506.7,319.39 L506.91,319.23 L507.12,319.11 L507.33,319.07 L507.54,318.75 L507.75,318.53 L507.97,318.29 L508.18,318.48 L508.39,318.54 L508.6,318.54 L508.81,318.52 L509.02,318.98 L509.23,318.72 L509.45,318.83 L509.66,318.96 L509.87,319.08 L510.08,319.13 L510.29,319.11 L510.5,319.4 L510.71,318.98 L510.93,319.13 L511.14,319.06 L511.35,318.93 L511.56,318.74 L511.77,318.98 L511.98,318.77 L512.19,319.11 L512.41,319.26 L512.62,319.21 L512.83,318.36 L513.04,319.27 L513.25,318.71 L513.46,318.49 L513.67,319.05 L513.89,318.61 L514.1,318.7 L514.31,319.1 L514.52,318.86 L514.73,319.36 L514.94,319.62 L515.15,319.09 L515.37,319.05 L515.58,318.97 L515.79,318.74 L516,317.71 L516.21,318.45 L516.42,318.41 L516.64,318.69 L516.85,318.59 L517.06,318.78 L517.27,318.92 L517.48,319.29 L517.69,319.58 L517.9,319.72 L518.12,319.75 L518.33,319.47 L518.54,319.71 L518.75,319.25 L518.96,319.15 L519.17,318.77 L519.38,318.62 L519.6,317.99 L519.81,318.44 L520.02,318.05 L520.23,317.74 L520.44,318.26 L520.65,318.22 L520.86,318.73 L521.08,319.14 L521.29,319.14 L521.5,319.45 L521.71,319.42 L521.92,319.58 L522.13,320.49 L522.34,320.36 L522.56,320.02 L522.77,319.56 L522.98,319.19 L523.19,318.3 L523.4,317.84 L523.61,317.67 L523.82,318.11 L524.04,317.99 L524.25,318.63 L524.46,318.14 L524.67,318.78 L524.88,318.73 L525.09,318.94 L525.3,319.21 L525.52,319.66 L525.73,320.22 L525.94,319.66 L526.15,320.24 L526.36,320.23 L526.57,319.52 L526.78,319.65 L527,318.93 L527.21,318.52 L527.42,317.79 L527.63,317.71 L527.84,317.69 L528.05,317.93 L528.26,317.96 L528.48,317.93 L528.69,318.94 L528.9,318.58 L529.11,318.77 L529.32,318.89 L529.53,319.54 L529.74,319.13 L529.96,319.87 L530.17,320.03 L530.38,320.33 L530.59,320.7 L530.8,320.24 L531.01,320.27 L531.22,319.58 L531.44,318.91 L531.65,318.38 L531.86,318.05 L532.07,317.94 L532.28,317.35 L532.49,317.9 L532.7,318.5 L532.92,318.52 L533.13,318.68 L533.34,318.67 L533.55,318.88 L533.76,319.07 L533.97,318.58 L534.18,319.19 L534.4,319.51 L534.61,319.69 L534.82,319.8 L535.03,319.41 L535.24,319.54 L535.45,319.17 L535.66,320 L535.88,318.83 L536.09,318.41 L536.3,318.02 L536.51,318.46 L536.72,318.91 L536.93,318.37 L537.14,318.76 L537.36,319.14 L537.57,318.91 L537.78,318.53 L537.99,318.53 L538.2,318.7 L538.41,319.21 L538.62,318.37 L538.84,319.42 L539.05,319.23 L539.26,319.67 L539.47,319 L539.68,319.22 L539.89,319.04 L540.1,319.12 L540.32,319 L540.53,318.77 L540.74,319.15 L540.95,318.31 L541.16,318.28 L541.37,318.61 L541.58,318.56 L541.8,318.54 L542.01,318.28 L542.22,318.62 L542.43,318.77 L542.64,318.96 L542.85,319.28 L543.06,319.15 L543.28,319.11 L543.49,319.36 L543.7,319.43 L543.91,319.38 L544.12,319.51 L544.33,319.51 L544.54,319.27 L544.76,319.17 L544.97,318.96 L545.18,318.57 L545.39,318.9 L545.6,317.98 L545.81,318.57 L546.02,318.04 L546.24,318.33 L546.45,318.16 L546.66,318.53 L546.87,318.87 L547.08,318.42 L547.29,318.72 L547.5,318.84 L547.72,318.99 L547.93,318.94 L548.14,319.21 L548.35,319.58 L548.56,320.2 L548.77,319.98 L548.98,319.8 L549.2,319.18 L549.41,319.27 L549.62,319.05 L549.83,318.39 L550.04,318.45 L550.25,318.25 L550.46,318.13 L550.68,318.59 L550.89,318.05 L551.1,318.31 L551.31,318.61 L551.52,318.93 L551.73,318.66 L551.94,318.42 L552.16,319.03 L552.37,319.26 L552.58,319.03 L552.79,319.72 L553,320.04 L553.21,319.69 L553.43,319.79 L553.64,319.62 L553.85,319.55 L554.06,319.11 L554.27,319.01 L554.48,318.87 L554.69,318.66 L554.91,318.28 L555.12,318.17 L555.33,318.22 L555.54,318.34 L555.75,319.45 L555.96,318.94 L556.17,318.82 L556.39,318.74 L556.6,319.26 L556.81,318.57 L557.02,318.97 L557.23,319.36 L557.44,319.32 L557.65,319.59 L557.87,319.77 L558.08,319.43 L558.29,319.57 L558.5,319.61 L558.71,319.14 L558.92,318.74 L559.13,318.76 L559.35,318 L559.56,318.54 L559.77,317.84 L559.98,318.14 L560.19,318.72 L560.4,318.55 L560.61,318.36 L560.83,318.78 L561.04,319.13 L561.25,318.93 L561.46,318.64 L561.67,319.77 L561.88,319.49 L562.09,319.84 L562.31,319.96 L562.52,319.98 L562.73,319.75 L562.94,319.05 L563.15,318.76 L563.36,318.79 L563.57,317.83 L563.79,318.39 L564,317.85 L564.21,318.04 L564.42,317.91 L564.63,318.27 L564.84,318.23 L565.05,318.61 L565.27,318.45 L565.48,318.72 L565.69,318.42 L565.9,319.37 L566.11,319.14 L566.32,319.58 L566.53,319.85 L566.75,320.12 L566.96,319.8 L567.17,320.08 L567.38,319.72 L567.59,318.8 L567.8,319.02 L568.01,317.96 L568.23,318.23 L568.44,318.05 L568.65,318.15 L568.86,318.17 L569.07,318.49 L569.28,318.63 L569.49,318.67 L569.71,318.44 L569.92,318.5 L570.13,318.57 L570.34,318.94 L570.55,319.26 L570.76,319.82 L570.97,319.39 L571.19,319.45 L571.4,319.8 L571.61,319.41 L571.82,319.11 L572.03,319.18 L572.24,318.66 L572.45,318.59 L572.67,318.91 L572.88,318.45 L573.09,318.39 L573.3,318.17 L573.51,318.6 L573.72,318.58 L573.93,318.81 L574.15,318.65 L574.36,318.69 L574.57,318.52 L574.78,318.64 L574.99,318.93 L575.2,319.07 L575.41,319.3 L575.63,319.51 L575.84,319.32 L576.05,320.48 L576.26,319.9 L576.47,319.67 L576.68,319.25 L576.89,319.52 L577.11,318.8 L577.32,318.33 L577.53,318.39 L577.74,318.58 L577.95,318.1 L578.16,318.34 L578.37,317.96 L578.59,318.47 L578.8,317.93 L579.01,318.46 L579.22,318.8 L579.43,318.81 L579.64,319.06 L579.85,318.83 L580.07,318.75 L580.28,319.44 L580.49,319.42 L580.7,320.15 L580.91,320 L581.12,319.54 L581.33,320.41 L581.55,319.5 L581.76,319.18 L581.97,319.56 L582.18,319.02 L582.39,318.56 L582.6,317.81 L582.81,318.05 L583.03,317.98 L583.24,317.84 L583.45,318.13 L583.66,318.26 L583.87,318.54 L584.08,318.27 L584.29,318.85 L584.51,318.32 L584.72,318.96 L584.93,319.25 L585.14,319.08 L585.35,319.35 L585.56,320.19 L585.77,319.77 L585.99,320.23 L586.2,320.03 L586.41,319.43 L586.62,319.58 L586.83,318.96 L587.04,318.84 L587.25,318 L587.47,318.36 L587.68,318.58 L587.89,318.59 L588.1,318.62 L588.31,318.47 L588.52,318.6 L588.73,318.43 L588.95,318.7 L589.16,318.77 L589.37,318.79 L589.58,319 L589.79,319.01 L590,319.03 L590.22,319.17 L590.43,319.61 L590.64,319.96 L590.85,319.66 L591.06,319.25 L591.27,319.76 L591.48,319.01 L591.7,318.55 L591.91,318.65 L592.12,318.69 L592.33,317.94 L592.54,318.08 L592.75,318.59 L592.96,318.27 L593.18,318.35 L593.39,319.04 L593.6,318.12 L593.81,319.15 L594.02,319.12 L594.23,319.52 L594.44,319.42 L594.66,319.95 L594.87,319.69 L595.08,319.36 L595.29,319.41 L595.5,319.25 L595.71,318.46 L595.92,318.8 L596.14,318.12 L596.35,318.36 L596.56,318.25 L596.77,318.39 L596.98,318.48 L597.19,318.63 L597.4,318.9 L597.62,318.92 L597.83,318.75 L598.04,319.03 L598.25,319.48 L598.46,319.57 L598.67,319.75 L598.88,319.69 L599.1,319.62 L599.31,319.49 L599.52,319.42 L599.73,318.93 L599.94,318.97 L600.15,319.13 L600.36,318.28 L600.58,318.68 L600.79,318.57 L601,318.75 L601.21,318.4 L601.42,318.96 L601.63,318.66 L601.84,318.95 L602.06,319.27 L602.27,319.56 L602.48,319.28 L602.69,319.55 L602.9,319.65 L603.11,319.46 L603.32,319.78 L603.54,319.53 L603.75,319.26 L603.96,318.77 L604.17,318.5 L604.38,318.35 L604.59,317.46 L604.8,318.44 L605.02,317.99 L605.23,318.09 L605.44,318.32 L605.65,318.73 L605.86,318.64 L606.07,318.83 L606.28,319.14 L606.5,319.1 L606.71,319.5 L606.92,319.88 L607.13,319.9 L607.34,320.6 L607.55,320.32 L607.76,320.5 L607.98,319.94 L608.19,319.59 L608.4,319.01 L608.61,318.8 L608.82,318.3 L609.03,318.03 L609.24,317.64 L609.46,317.52 L609.67,317.56 L609.88,318.15 L610.09,318.19 L610.3,318.79 L610.51,319.08 L610.72,318.84 L610.94,318.91 L611.15,319.29 L611.36,319.56 L611.57,319.22 L611.78,319.84 L611.99,320.33 L612.2,319.5 L612.42,320.16 L612.63,320.25 L612.84,319.83 L613.05,319.9 L613.26,318.92 L613.47,319.32 L613.68,318.87 L613.9,318.26 L614.11,318.21 L614.32,317.56 L614.53,318.35 L614.74,318.23 L614.95,318.12 L615.16,318.18 L615.38,318.2 L615.59,318.48 L615.8,318.09 L616.01,318.89 L616.22,318.86 L616.43,318.89 L616.64,319.44 L616.86,319.73 L617.07,320.06 L617.28,320.33 L617.49,320.55 L617.7,320.35 L617.91,320.39 L618.12,319.54 L618.34,319.59 L618.55,318.18 L618.76,317.87 L618.97,317.73 L619.18,317.92 L619.39,318.01 L619.6,317.65 L619.82,318.08 L620.03,318.15 L620.24,318.63 L620.45,318.3 L620.66,318.88 L620.87,318.78 L621.08,319.41 L621.3,319.37 L621.51,319.34 L621.72,319.86 L621.93,320.09 L622.14,319.9 L622.35,320.09 L622.56,319.56 L622.78,320.18 L622.99,319.02 L623.2,318.64 L623.41,318.83 L623.62,318.53 L623.83,317.88 L624.04,318.4 L624.26,318.39 L624.47,318.21 L624.68,318.59 L624.89,318.49 L625.1,318.93 L625.31,318.71 L625.52,318.62 L625.74,318.95 L625.95,319.78 L626.16,319.26 L626.37,319.61 L626.58,320 L626.79,319.46 L627.01,320.19 L627.22,319.07 L627.43,319.44 L627.64,318.56 L627.85,318.67 L628.06,318.76 L628.27,318.25 L628.49,318.15 L628.7,318.13 L628.91,318.1 L629.12,318.71 L629.33,318.46 L629.54,318.48 L629.75,318.81 L629.97,319.06 L630.18,319.18 L630.39,318.91 L630.6,319.1 L630.81,319.75 L631.02,320.09 L631.23,319.57 L631.45,320.32 L631.66,319.78 L631.87,319.8 L632.08,319.71 L632.29,318.86 L632.5,318.6 L632.71,317.91 L632.93,317.54 L633.14,318.14 L633.35,317.9 L633.56,318.01 L633.77,318.55 L633.98,318.76 L634.19,318.23 L634.41,318.82 L634.62,318.83 L634.83,319.04 L635.04,319.19 L635.25,319.54 L635.46,319.44 L635.67,319.52 L635.89,320.07 L636.1,320.32 L636.31,319.81 L636.52,319.93 L636.73,319.34 L636.94,318.48 L637.15,317.87 L637.37,318.13 L637.58,318.38 L637.79,317.91 L638,318.77 L638.21,318.51 L638.42,318.07 L638.63,318.39 L638.85,319.03 L639.06,319.19 L639.27,318.65 L639.48,319.04 L639.69,319.4 L639.9,319.39 L640.11,319.89 L640.33,320.42 L640.54,319.78 L640.75,320.08 L640.96,319.94 L641.17,319.69 L641.38,318.89 L641.59,318.79 L641.81,318.13 L642.02,318.19 L642.23,317.8 L642.44,318.24 L642.65,318.44 L642.86,318.92 L643.07,318.82 L643.29,318.46 L643.5,317.95 L643.71,319.15 L643.92,319.23 L644.13,319.07 L644.34,319.26 L644.55,319.79 L644.77,319.8 L644.98,320.33 L645.19,319.98 L645.4,319.51" fill="none" stroke="#e32b2b" stroke-width="1.15" stroke-linejoin="round"/>
<path d="M349.6,261.82 L349.81,263.01 L350.02,262.96 L350.23,264.03 L350.45,264.82 L350.66,266.43 L350.87,267.73 L351.08,270.08 L351.29,272.26 L351.5,274.99 L351.71,275.58 L351.93,275.48 L352.14,274.57 L352.35,271.97 L352.56,269.23 L352.77,265.92 L352.98,265.47 L353.19,263.64 L353.41,264.03 L353.62,263.88 L353.83,263.9 L354.04,265.04 L354.25,265.25 L354.46,266.3 L354.67,266.13 L354.89,267.93 L355.1,269.54 L355.31,272.24 L355.52,273.5 L355.73,273.25 L355.94,273.52 L356.15,272.42 L356.37,270.44 L356.58,269.16 L356.79,266.6 L357,265.68 L357.21,264.85 L357.42,265.2 L357.63,264.94 L357.85,265.81 L358.06,265.5 L358.27,265.76 L358.48,266.2 L358.69,266.84 L358.9,267.47 L359.11,269.72 L359.33,269.27 L359.54,270.67 L359.75,271.22 L359.96,271.68 L360.17,272.02 L360.38,271.09 L360.59,269.59 L360.81,268.09 L361.02,267.73 L361.23,266.86 L361.44,265.22 L361.65,265.87 L361.86,264.64 L362.07,265.63 L362.29,266.25 L362.5,265.73 L362.71,265.68 L362.92,267.29 L363.13,266.53 L363.34,267.98 L363.55,268.15 L363.77,269.92 L363.98,271.35 L364.19,271.2 L364.4,271.32 L364.61,270.64 L364.82,270.14 L365.03,269.61 L365.25,268.88 L365.46,267.94 L365.67,267 L365.88,266.69 L366.09,266.24 L366.3,267.18 L366.51,266.21 L366.73,266.5 L366.94,265.64 L367.15,266.56 L367.36,267.28 L367.57,267.15 L367.78,268.33 L367.99,268.69 L368.21,269.97 L368.42,269.41 L368.63,270.42 L368.84,271.52 L369.05,271.01 L369.26,270.1 L369.48,269.44 L369.69,268.43 L369.9,267.92 L370.11,267.03 L370.32,266.22 L370.53,265.69 L370.74,266.46 L370.96,266.77 L371.17,266.06 L371.38,267.13 L371.59,266.54 L371.8,267.19 L372.01,267.38 L372.22,267.63 L372.44,268.77 L372.65,269.41 L372.86,270.6 L373.07,270.7 L373.28,269.98 L373.49,269.11 L373.7,268.43 L373.92,267.24 L374.13,267.34 L374.34,266.84 L374.55,266.21 L374.76,266.53 L374.97,266.63 L375.18,267.18 L375.4,266.49 L375.61,267.5 L375.82,267.08 L376.03,268.26 L376.24,267.8 L376.45,269.4 L376.66,269.39 L376.88,271.01 L377.09,270.86 L377.3,270.11 L377.51,270.41 L377.72,269.22 L377.93,268.47 L378.14,268.32 L378.36,266.57 L378.57,266.15 L378.78,266.69 L378.99,266.1 L379.2,266.85 L379.41,267.14 L379.62,266.92 L379.84,267.44 L380.05,266.59 L380.26,268.72 L380.47,268.48 L380.68,269.15 L380.89,271.04 L381.1,271.35 L381.32,270.47 L381.53,270.56 L381.74,269.54 L381.95,268.36 L382.16,268.09 L382.37,267.64 L382.58,267.82 L382.8,266.38 L383.01,266.83 L383.22,266.44 L383.43,266.65 L383.64,267.49 L383.85,266.39 L384.06,266.85 L384.28,267.21 L384.49,268.43 L384.7,268.59 L384.91,269.21 L385.12,269.68 L385.33,270.37 L385.54,269.91 L385.76,269.91 L385.97,269.52 L386.18,269.34 L386.39,267.97 L386.6,267.81 L386.81,268.53 L387.02,267.35 L387.24,266.98 L387.45,266.57 L387.66,267.19 L387.87,267.3 L388.08,267.6 L388.29,267.16 L388.5,267.74 L388.72,267.99 L388.93,268.3 L389.14,268.11 L389.35,268.95 L389.56,269.8 L389.77,269.14 L389.98,269.82 L390.2,269.31 L390.41,269.04 L390.62,268.3 L390.83,267.88 L391.04,268.08 L391.25,267.53 L391.46,267.74 L391.68,266.41 L391.89,266.91 L392.1,266.59 L392.31,267.38 L392.52,268.18 L392.73,266.81 L392.94,267.58 L393.16,267.85 L393.37,268.33 L393.58,268.65 L393.79,269.31 L394,270.69 L394.21,269.84 L394.42,270.39 L394.64,269.88 L394.85,268.19 L395.06,267.63 L395.27,267.36 L395.48,267.45 L395.69,266.39 L395.9,266.26 L396.12,266.68 L396.33,267.36 L396.54,267.36 L396.75,267.76 L396.96,267.46 L397.17,267.67 L397.38,268.22 L397.6,269.67 L397.81,269.93 L398.02,270.19 L398.23,270.61 L398.44,270.01 L398.65,268.25 L398.86,268.07 L399.08,266.89 L399.29,266.8 L399.5,266.3 L399.71,267.01 L399.92,266.46 L400.13,266.16 L400.34,265.98 L400.56,266.6 L400.77,267.2 L400.98,268.07 L401.19,269.18 L401.4,269.93 L401.61,270.38 L401.82,271.34 L402.04,270.47 L402.25,270.55 L402.46,269.8 L402.67,268.33 L402.88,267.62 L403.09,266.91 L403.3,265.67 L403.52,266.3 L403.73,266.35 L403.94,266.21 L404.15,266.4 L404.36,267.4 L404.57,267.06 L404.78,268.05 L405,268.95 L405.21,269.54 L405.42,270.89 L405.63,270.88 L405.84,270.43 L406.05,269.56 L406.27,269.11 L406.48,268.06 L406.69,266.77 L406.9,265.99 L407.11,265.97 L407.32,265.72 L407.53,266.53 L407.75,266.66 L407.96,266.58 L408.17,267.04 L408.38,267.45 L408.59,267.09 L408.8,268.63 L409.01,269.9 L409.23,270.25 L409.44,270.41 L409.65,271.4 L409.86,270.66 L410.07,270.56 L410.28,269.48 L410.49,268.37 L410.71,267.09 L410.92,265.55 L411.13,266.42 L411.34,265.24 L411.55,266.49 L411.76,266.41 L411.97,266.2 L412.19,266.52 L412.4,266.93 L412.61,268.11 L412.82,267.84 L413.03,269.13 L413.24,268.47 L413.45,270.39 L413.67,270.81 L413.88,271.58 L414.09,271.09 L414.3,270.77 L414.51,268.87 L414.72,268.29 L414.93,266.92 L415.15,266.68 L415.36,266.18 L415.57,265.33 L415.78,266.37 L415.99,266.94 L416.2,266.28 L416.41,267.15 L416.63,267.12 L416.84,266.91 L417.05,268.12 L417.26,268.1 L417.47,269.52 L417.68,269.36 L417.89,269.98 L418.11,270.97 L418.32,270.71 L418.53,270.44 L418.74,269.22 L418.95,267.93 L419.16,268.16 L419.37,266.55 L419.59,267.07 L419.8,266.73 L420.01,267.16 L420.22,265.7 L420.43,266.72 L420.64,266.81 L420.85,267.39 L421.07,266.98 L421.28,268.75 L421.49,268.49 L421.7,268.31 L421.91,270.05 L422.12,270.35 L422.33,270.19 L422.55,270.52 L422.76,269.59 L422.97,268.43 L423.18,267.97 L423.39,267.27 L423.6,267.18 L423.81,266.75 L424.03,266.89 L424.24,266.43 L424.45,266.88 L424.66,267.41 L424.87,268.45 L425.08,267.32 L425.29,267.57 L425.51,268.65 L425.72,269.58 L425.93,269.72 L426.14,269.25 L426.35,270.23 L426.56,269.87 L426.77,269.21 L426.99,268.23 L427.2,268.15 L427.41,267.66 L427.62,267.5 L427.83,266.44 L428.04,266.67 L428.25,267.23 L428.47,267.89 L428.68,267.76 L428.89,267.31 L429.1,267.98 L429.31,267.52 L429.52,268.02 L429.73,268.41 L429.95,268.66 L430.16,269.07 L430.37,269.86 L430.58,269.67 L430.79,268.38 L431,269.45 L431.21,268.62 L431.43,267.43 L431.64,267.45 L431.85,267.39 L432.06,267.43 L432.27,266.65 L432.48,266.53 L432.69,266.49 L432.91,267.16 L433.12,266.88 L433.33,267.92 L433.54,267.72 L433.75,268.48 L433.96,268.63 L434.17,268.89 L434.39,269.17 L434.6,270.21 L434.81,269.24 L435.02,269.67 L435.23,269.46 L435.44,268.6 L435.65,268.65 L435.87,267.67 L436.08,267.31 L436.29,267.41 L436.5,267.11 L436.71,267.53 L436.92,267.48 L437.13,268.15 L437.35,267.61 L437.56,268.05 L437.77,268 L437.98,268.04 L438.19,268.2 L438.4,269.33 L438.61,269.7 L438.83,269.55 L439.04,269.49 L439.25,269.58 L439.46,269.17 L439.67,268.56 L439.88,268.29 L440.09,267.85 L440.31,267.69 L440.52,267.24 L440.73,266.84 L440.94,266.5 L441.15,266.61 L441.36,266.84 L441.57,267.05 L441.79,266.89 L442,267.27 L442.21,267.55 L442.42,268 L442.63,268.94 L442.84,269.78 L443.06,269.7 L443.27,270.1 L443.48,270.43 L443.69,270.24 L443.9,268.56 L444.11,269.04 L444.32,268.01 L444.54,267.12 L444.75,267.2 L444.96,266.41 L445.17,265.66 L445.38,266.11 L445.59,266.37 L445.8,266.53 L446.02,266.89 L446.23,266.77 L446.44,267.63 L446.65,268.35 L446.86,268.97 L447.07,269.59 L447.28,270.7 L447.5,271.13 L447.71,272.33 L447.92,270.54 L448.13,269.09 L448.34,268.22 L448.55,267.6 L448.76,266.73 L448.98,265.55 L449.19,265.76 L449.4,265.09 L449.61,265.83 L449.82,265.5 L450.03,265.61 L450.24,267.31 L450.46,266.81 L450.67,267.93 L450.88,269.21 L451.09,270.09 L451.3,271.12 L451.51,271.54 L451.72,272.99 L451.94,271.66 L452.15,270.32 L452.36,269.52 L452.57,268.01 L452.78,266.9 L452.99,266.42 L453.2,265.21 L453.42,265.18 L453.63,265.2 L453.84,264.71 L454.05,265.75 L454.26,266.14 L454.47,265.99 L454.68,267.67 L454.9,268.34 L455.11,269.05 L455.32,270.35 L455.53,270.93 L455.74,272.18 L455.95,271.65 L456.16,271.4 L456.38,270.74 L456.59,269.82 L456.8,267.85 L457.01,266.33 L457.22,266.05 L457.43,264.87 L457.64,264.56 L457.86,264.92 L458.07,264.66 L458.28,265.13 L458.49,266.3 L458.7,266.3 L458.91,267.26 L459.12,267.51 L459.34,269.19 L459.55,269.67 L459.76,271.02 L459.97,271.6 L460.18,272.38 L460.39,272.64 L460.6,270.46 L460.82,270.01 L461.03,267.97 L461.24,267.03 L461.45,265.87 L461.66,264.71 L461.87,265.04 L462.08,264.64 L462.3,266.06 L462.51,265.39 L462.72,266.13 L462.93,266.39 L463.14,266.71 L463.35,267.12 L463.56,267.36 L463.78,269.77 L463.99,270.02 L464.2,271.25 L464.41,271.12 L464.62,271.98 L464.83,271.35 L465.04,270.99 L465.26,269.52 L465.47,268.21 L465.68,267.68 L465.89,266.63 L466.1,266.68 L466.31,265.73 L466.52,265.52 L466.74,266.27 L466.95,265.8 L467.16,267.34 L467.37,267.46 L467.58,267.49 L467.79,267.42 L468,267.63 L468.22,268.22 L468.43,268.89 L468.64,269.31 L468.85,270.48 L469.06,271.28 L469.27,271.45 L469.48,269.9 L469.7,271.25 L469.91,269.63 L470.12,268.13 L470.33,267.73 L470.54,267.62 L470.75,266.82 L470.96,266.23 L471.18,266.04 L471.39,267 L471.6,266.47 L471.81,266.84 L472.02,266.64 L472.23,266.67 L472.44,267.54 L472.66,268.2 L472.87,267.71 L473.08,267.5 L473.29,268.37 L473.5,269 L473.71,268.52 L473.92,270.22 L474.14,269.54 L474.35,270.05 L474.56,269.51 L474.77,269.05 L474.98,267.95 L475.19,268.43 L475.4,267.83 L475.62,267.95 L475.83,266.93 L476.04,267.26 L476.25,266.91 L476.46,267.58 L476.67,267.37 L476.88,266.88 L477.1,267.46 L477.31,267.24 L477.52,267.45 L477.73,268.07 L477.94,268.93 L478.15,268.34 L478.36,269.17 L478.58,269.3 L478.79,270.86 L479,270.82 L479.21,270.87 L479.42,269.94 L479.63,268.55 L479.85,268.03 L480.06,267.6 L480.27,266.99 L480.48,266.37 L480.69,266.66 L480.9,266.39 L481.11,266.62 L481.33,267.73 L481.54,267.15 L481.75,266.59 L481.96,267.52 L482.17,267.7 L482.38,268.31 L482.59,268.79 L482.81,268.71 L483.02,269.83 L483.23,270.53 L483.44,271.52 L483.65,270.31 L483.86,270.44 L484.07,269.71 L484.29,267.87 L484.5,267.19 L484.71,267.7 L484.92,266.21 L485.13,266.24 L485.34,266.79 L485.55,266.29 L485.77,267.41 L485.98,267.38 L486.19,267.67 L486.4,267.86 L486.61,267.55 L486.82,269.18 L487.03,269.96 L487.25,270.71 L487.46,270.85 L487.67,271.27 L487.88,270.48 L488.09,270.37 L488.3,269.56 L488.51,268.13 L488.73,266.98 L488.94,266.74 L489.15,265.96 L489.36,265.33 L489.57,266.49 L489.78,266.45 L489.99,266.13 L490.21,267.17 L490.42,267.56 L490.63,268.15 L490.84,268.25 L491.05,269.08 L491.26,270.31 L491.47,270.98 L491.69,270.82 L491.9,270.81 L492.11,271.01 L492.32,269.34 L492.53,268.07 L492.74,266.71 L492.95,266.32 L493.17,266.1 L493.38,265.98 L493.59,266.69 L493.8,266.2 L494.01,266.67 L494.22,266.48 L494.43,267.45 L494.65,267.77 L494.86,268.8 L495.07,269.85 L495.28,270.14 L495.49,271.43 L495.7,271.4 L495.91,271.82 L496.13,270.55 L496.34,270.14 L496.55,268.37 L496.76,267.27 L496.97,266.03 L497.18,265.81 L497.39,265.93 L497.61,265.7 L497.82,266.22 L498.03,266.33 L498.24,266.49 L498.45,267.17 L498.66,267.76 L498.87,268.22 L499.09,269.37 L499.3,269.87 L499.51,270.19 L499.72,270.53 L499.93,270.81 L500.14,270.54 L500.35,269.13 L500.57,268.21 L500.78,266.9 L500.99,266.99 L501.2,266.69 L501.41,266.31 L501.62,266.95 L501.83,267 L502.05,266.4 L502.26,266.65 L502.47,267.23 L502.68,267.72 L502.89,268.74 L503.1,268.74 L503.31,269.6 L503.53,270.04 L503.74,270.56 L503.95,270.17 L504.16,269.69 L504.37,268.69 L504.58,267.39 L504.79,267.13 L505.01,267.51 L505.22,267.05 L505.43,267.35 L505.64,267.19 L505.85,266.81 L506.06,267.05 L506.27,267.65 L506.49,267.57 L506.7,268.39 L506.91,269.18 L507.12,269.73 L507.33,269.97 L507.54,269.28 L507.75,270.35 L507.97,268.93 L508.18,268.3 L508.39,268.25 L508.6,267.6 L508.81,267.41 L509.02,266.99 L509.23,266.72 L509.45,267.09 L509.66,266.83 L509.87,266.89 L510.08,267.38 L510.29,267.62 L510.5,268.16 L510.71,268.49 L510.93,269.62 L511.14,269.42 L511.35,269.71 L511.56,270.02 L511.77,268.36 L511.98,269.03 L512.19,268.35 L512.41,267.36 L512.62,267.97 L512.83,267.41 L513.04,267.77 L513.25,267.67 L513.46,267.45 L513.67,267.39 L513.89,267.24 L514.1,267.64 L514.31,267.87 L514.52,268.58 L514.73,269.46 L514.94,269.09 L515.15,269.77 L515.37,269.56 L515.58,268.18 L515.79,267.89 L516,267.58 L516.21,267 L516.42,266.8 L516.64,267.74 L516.85,267.32 L517.06,267.89 L517.27,267.48 L517.48,267.94 L517.69,267.31 L517.9,267.98 L518.12,268.94 L518.33,269.05 L518.54,269.88 L518.75,269.5 L518.96,269.17 L519.17,268.92 L519.38,269.27 L519.6,268.04 L519.81,267.21 L520.02,266.99 L520.23,266.51 L520.44,267.53 L520.65,266.87 L520.86,267.46 L521.08,267.23 L521.29,267.32 L521.5,267.53 L521.71,268.57 L521.92,268.93 L522.13,270.19 L522.34,270.86 L522.56,270.29 L522.77,270.35 L522.98,270.39 L523.19,269.2 L523.4,267.9 L523.61,266.48 L523.82,266.16 L524.04,266.04 L524.25,267.12 L524.46,266.57 L524.67,266.52 L524.88,266.73 L525.09,266.92 L525.3,267.48 L525.52,267.12 L525.73,267.88 L525.94,269.31 L526.15,270.47 L526.36,269.86 L526.57,271.25 L526.78,270.4 L527,269.55 L527.21,269.83 L527.42,268.29 L527.63,267.57 L527.84,266.45 L528.05,266.08 L528.26,265.25 L528.48,265.86 L528.69,266.28 L528.9,266.01 L529.11,266.78 L529.32,267.02 L529.53,266.21 L529.74,267.88 L529.96,268.32 L530.17,268.88 L530.38,270.22 L530.59,271.51 L530.8,270.87 L531.01,271.97 L531.22,271.76 L531.44,271.12 L531.65,270.41 L531.86,269.2 L532.07,267.42 L532.28,265.4 L532.49,265.29 L532.7,264.85 L532.92,265.69 L533.13,265.23 L533.34,265.97 L533.55,265.46 L533.76,266.16 L533.97,266.37 L534.18,266.84 L534.4,267.63 L534.61,268.8 L534.82,268.9 L535.03,270.7 L535.24,271.52 L535.45,271.76 L535.66,272.14 L535.88,271.49 L536.09,270.49 L536.3,269.8 L536.51,268.68 L536.72,267.66 L536.93,266.43 L537.14,266.93 L537.36,265.7 L537.57,266.18 L537.78,266.41 L537.99,266.09 L538.2,266.46 L538.41,266.26 L538.62,266.28 L538.84,268.03 L539.05,267.65 L539.26,267.59 L539.47,269.03 L539.68,269.89 L539.89,271.4 L540.1,272.66 L540.32,272.63 L540.53,271.38 L540.74,270.25 L540.95,269.57 L541.16,267.95 L541.37,266.54 L541.58,266.57 L541.8,265.64 L542.01,264.84 L542.22,264.84 L542.43,266.11 L542.64,265.62 L542.85,266.88 L543.06,267.33 L543.28,268.37 L543.49,267.66 L543.7,268.96 L543.91,268.65 L544.12,270.2 L544.33,270.73 L544.54,271.63 L544.76,269.91 L544.97,269.93 L545.18,268.87 L545.39,268.71 L545.6,266.58 L545.81,265.97 L546.02,266.37 L546.24,266.08 L546.45,266.12 L546.66,266.09 L546.87,266.65 L547.08,266.21 L547.29,267.38 L547.5,268.09 L547.72,268.82 L547.93,270.59 L548.14,270.75 L548.35,270.64 L548.56,271.13 L548.77,271.22 L548.98,269.93 L549.2,269.8 L549.41,267.94 L549.62,266.67 L549.83,266 L550.04,266.38 L550.25,265.73 L550.46,265.54 L550.68,266.73 L550.89,266.49 L551.1,267.7 L551.31,268.22 L551.52,267.68 L551.73,268.57 L551.94,269.22 L552.16,270.17 L552.37,270.43 L552.58,270.03 L552.79,269.35 L553,269.53 L553.21,269.31 L553.43,267.27 L553.64,266.81 L553.85,266.26 L554.06,266.21 L554.27,265.31 L554.48,266.34 L554.69,266.33 L554.91,267.47 L555.12,267.18 L555.33,267.61 L555.54,267.96 L555.75,268.65 L555.96,270.09 L556.17,269.98 L556.39,271.72 L556.6,271.56 L556.81,270.81 L557.02,270.51 L557.23,268.6 L557.44,267.44 L557.65,266.95 L557.87,265.53 L558.08,266.13 L558.29,266.14 L558.5,266.86 L558.71,267.38 L558.92,267.17 L559.13,267.26 L559.35,267.62 L559.56,267.57 L559.77,269.5 L559.98,269.76 L560.19,270.84 L560.4,270.16 L560.61,271.25 L560.83,271.07 L561.04,270.66 L561.25,268.83 L561.46,268.19 L561.67,266.85 L561.88,266.98 L562.09,265.24 L562.31,265.49 L562.52,265.58 L562.73,265.54 L562.94,266.39 L563.15,266.65 L563.36,266.66 L563.57,267.36 L563.79,268.46 L564,269.35 L564.21,270.64 L564.42,271.01 L564.63,271.38 L564.84,271.66 L565.05,270.2 L565.27,270.44 L565.48,268.5 L565.69,266.33 L565.9,266.15 L566.11,266 L566.32,264.58 L566.53,265.06 L566.75,266.05 L566.96,265.54 L567.17,266.6 L567.38,267.14 L567.59,267.29 L567.8,268.35 L568.01,269.77 L568.23,270.68 L568.44,271.94 L568.65,272.04 L568.86,271.99 L569.07,270.97 L569.28,270.26 L569.49,269.19 L569.71,267.8 L569.92,266.27 L570.13,264.88 L570.34,264.95 L570.55,265.66 L570.76,265.26 L570.97,266.4 L571.19,265.78 L571.4,266.73 L571.61,266.85 L571.82,267.81 L572.03,269.41 L572.24,270.53 L572.45,272.33 L572.67,272.66 L572.88,272.21 L573.09,270.2 L573.3,270.24 L573.51,268.81 L573.72,267.66 L573.93,265.56 L574.15,265.98 L574.36,265.44 L574.57,265.14 L574.78,266.12 L574.99,265.34 L575.2,265.86 L575.41,266.92 L575.63,267.43 L575.84,268.46 L576.05,269.4 L576.26,269.64 L576.47,270.47 L576.68,271.18 L576.89,271.34 L577.11,271.29 L577.32,270.05 L577.53,269.66 L577.74,267.87 L577.95,266.24 L578.16,265.56 L578.37,265.93 L578.59,265.8 L578.8,265.22 L579.01,265.25 L579.22,266.82 L579.43,266.61 L579.64,266.68 L579.85,266.86 L580.07,268.59 L580.28,269.12 L580.49,270.76 L580.7,270.75 L580.91,272.22 L581.12,272.48 L581.33,271.91 L581.55,270.14 L581.76,268.79 L581.97,268.03 L582.18,266.27 L582.39,266.13 L582.6,265.57 L582.81,265.84 L583.03,266.1 L583.24,266.17 L583.45,266.61 L583.66,266.3 L583.87,266.59 L584.08,267.59 L584.29,268.75 L584.51,268.91 L584.72,271.08 L584.93,271.85 L585.14,271.18 L585.35,271.15 L585.56,270.45 L585.77,269.99 L585.99,269.26 L586.2,267.85 L586.41,266.55 L586.62,266.59 L586.83,266.39 L587.04,266.76 L587.25,266.86 L587.47,266.25 L587.68,266.62 L587.89,267.52 L588.1,267.79 L588.31,268.04 L588.52,268.23 L588.73,269.71 L588.95,270.07 L589.16,271.46 L589.37,271.3 L589.58,270.36 L589.79,269.53 L590,269.5 L590.22,268.41 L590.43,266.97 L590.64,266.95 L590.85,266.79 L591.06,266.38 L591.27,266.66 L591.48,266.47 L591.7,266.78 L591.91,267.52 L592.12,267.56 L592.33,267.88 L592.54,268.9 L592.75,269.33 L592.96,269.09 L593.18,270.56 L593.39,269.63 L593.6,269.73 L593.81,269.42 L594.02,268.49 L594.23,267.84 L594.44,266.97 L594.66,267.28 L594.87,267.07 L595.08,267.1 L595.29,266.34 L595.5,266.86 L595.71,267.76 L595.92,267.65 L596.14,267.99 L596.35,267.96 L596.56,268.26 L596.77,267.87 L596.98,270.03 L597.19,269.21 L597.4,269.6 L597.62,269.95 L597.83,269.34 L598.04,268.92 L598.25,268.07 L598.46,267.13 L598.67,267.79 L598.88,266.44 L599.1,267.13 L599.31,266.45 L599.52,267.03 L599.73,266.82 L599.94,267.22 L600.15,267.15 L600.36,267.79 L600.58,268.48 L600.79,268.27 L601,268.71 L601.21,268.57 L601.42,270.57 L601.63,269.92 L601.84,269.25 L602.06,269.81 L602.27,268.83 L602.48,267.25 L602.69,266.99 L602.9,267.54 L603.11,266.36 L603.32,266.4 L603.54,266.62 L603.75,266.9 L603.96,267.08 L604.17,267.66 L604.38,267.64 L604.59,267.28 L604.8,267.75 L605.02,267.35 L605.23,268.63 L605.44,269.91 L605.65,269.46 L605.86,269.51 L606.07,269.59 L606.28,269.65 L606.5,269.75 L606.71,268.37 L606.92,268.77 L607.13,267.73 L607.34,267.74 L607.55,267.85 L607.76,266.64 L607.98,268.23 L608.19,267.61 L608.4,267.17 L608.61,267.6 L608.82,267.23 L609.03,267.67 L609.24,267.92 L609.46,266.98 L609.67,268.15 L609.88,268.37 L610.09,269.04 L610.3,269.19 L610.51,268.87 L610.72,269.07 L610.94,269.35 L611.15,269.53 L611.36,268.71 L611.57,269.34 L611.78,268.37 L611.99,267.92 L612.2,267.81 L612.42,267.14 L612.63,267.34 L612.84,267.36 L613.05,266.32 L613.26,266.83 L613.47,266.72 L613.68,267.28 L613.9,267.03 L614.11,267.28 L614.32,267.38 L614.53,267.29 L614.74,268.82 L614.95,269.11 L615.16,269.66 L615.38,271.36 L615.59,270.55 L615.8,269.79 L616.01,269.13 L616.22,269.07 L616.43,267.75 L616.64,267.11 L616.86,267.35 L617.07,266.29 L617.28,266.01 L617.49,266.54 L617.7,267.22 L617.91,266.33 L618.12,267.11 L618.34,267.32 L618.55,267.3 L618.76,267.86 L618.97,267.65 L619.18,268.37 L619.39,268.87 L619.6,269.78 L619.82,270.8 L620.03,270.69 L620.24,270.05 L620.45,270.04 L620.66,267.89 L620.87,268.29 L621.08,267.61 L621.3,266.24 L621.51,266 L621.72,266.17 L621.93,266.3 L622.14,266.18 L622.35,266.18 L622.56,266.4 L622.78,267.06 L622.99,267.11 L623.2,267.48 L623.41,268.27 L623.62,270.75 L623.83,270.71 L624.04,271.32 L624.26,271.39 L624.47,271 L624.68,269.98 L624.89,269.06 L625.1,268.18 L625.31,267.07 L625.52,265.6 L625.74,266.2 L625.95,265.77 L626.16,265.42 L626.37,266.16 L626.58,267.39 L626.79,266.63 L627.01,267.26 L627.22,267.63 L627.43,267.86 L627.64,269.01 L627.85,270.3 L628.06,270.65 L628.27,271.26 L628.49,271.26 L628.7,270.43 L628.91,269.27 L629.12,268.15 L629.33,266.96 L629.54,265.91 L629.75,265.93 L629.97,266.07 L630.18,265.25 L630.39,266.19 L630.6,266.4 L630.81,266.79 L631.02,267.26 L631.23,268.06 L631.45,269.1 L631.66,270.57 L631.87,270.76 L632.08,271.84 L632.29,270.88 L632.5,271.21 L632.71,269.58 L632.93,267.37 L633.14,266.72 L633.35,266.24 L633.56,265.57 L633.77,266.25 L633.98,266.03 L634.19,267.24 L634.41,266.8 L634.62,267.28 L634.83,267.45 L635.04,268.28 L635.25,270.15 L635.46,270.21 L635.67,271.74 L635.89,272.31 L636.1,271.7 L636.31,268.82 L636.52,268.06 L636.73,267.08 L636.94,266.37 L637.15,266.23 L637.37,265.31 L637.58,266.15 L637.79,265.66 L638,266.75 L638.21,268.01 L638.42,267.33 L638.63,268.76 L638.85,269.85 L639.06,270.18 L639.27,271.6 L639.48,271.02 L639.69,270.79 L639.9,269.86 L640.11,267.92 L640.33,267.13 L640.54,265.6 L640.75,265.43 L640.96,265.89 L641.17,265.94 L641.38,266.25 L641.59,266.88 L641.81,266.72 L642.02,267.66 L642.23,268.03 L642.44,269.54 L642.65,269.98 L642.86,270.5 L643.07,271.22 L643.29,270.77 L643.5,270.04 L643.71,268.47 L643.92,267.97 L644.13,266.58 L644.34,265.58 L644.55,265.87 L644.77,266.75 L644.98,266.23 L645.19,266.07 L645.4,266.84" fill="none" stroke="#2e2e2e" stroke-width="1.05" stroke-linejoin="round"/>
<path d="M349.6,237.39 L349.81,238.15 L350.02,238.22 L350.23,238.13 L350.45,241.05 L350.66,241.58 L350.87,244.24 L351.08,248.06 L351.29,251.01 L351.5,253.93 L351.71,255.81 L351.93,254.38 L352.14,254.4 L352.35,249.94 L352.56,246.09 L352.77,243.02 L352.98,240.1 L353.19,238.45 L353.41,238.61 L353.62,238.96 L353.83,239.57 L354.04,241.7 L354.25,240.61 L354.46,241.09 L354.67,243.08 L354.89,244.95 L355.1,248.52 L355.31,250.17 L355.52,252.38 L355.73,253.16 L355.94,252 L356.15,251.37 L356.37,248.66 L356.58,246.92 L356.79,243.66 L357,241.85 L357.21,241.37 L357.42,241.22 L357.63,240.19 L357.85,242.28 L358.06,242.71 L358.27,243.05 L358.48,242.5 L358.69,242.68 L358.9,244.52 L359.11,246.25 L359.33,247.48 L359.54,248.01 L359.75,249.99 L359.96,249.18 L360.17,249.05 L360.38,248.94 L360.59,247.27 L360.81,245.6 L361.02,243.54 L361.23,243.53 L361.44,241.46 L361.65,241.84 L361.86,242.02 L362.07,241.79 L362.29,242.28 L362.5,243.01 L362.71,243.66 L362.92,243.77 L363.13,243.18 L363.34,243.86 L363.55,245.76 L363.77,246.86 L363.98,249.02 L364.19,249.77 L364.4,249.97 L364.61,250.4 L364.82,249.47 L365.03,247.6 L365.25,246.29 L365.46,245.23 L365.67,243.33 L365.88,242.94 L366.09,241.96 L366.3,242.5 L366.51,242.87 L366.73,242.93 L366.94,243.36 L367.15,243.86 L367.36,244.01 L367.57,243.82 L367.78,244.48 L367.99,245 L368.21,247.57 L368.42,247.99 L368.63,248.92 L368.84,249.13 L369.05,249.38 L369.26,248.74 L369.48,246.91 L369.69,245.77 L369.9,245.06 L370.11,242.68 L370.32,242.16 L370.53,242.71 L370.74,242.06 L370.96,243.12 L371.17,242.47 L371.38,243.46 L371.59,244.08 L371.8,244.27 L372.01,245.1 L372.22,245.44 L372.44,246.41 L372.65,247.41 L372.86,248.39 L373.07,250.24 L373.28,248.09 L373.49,248.41 L373.7,246.3 L373.92,244.74 L374.13,244.2 L374.34,243.78 L374.55,243.26 L374.76,243.13 L374.97,243.43 L375.18,243.64 L375.4,244.02 L375.61,243.16 L375.82,244.1 L376.03,244.12 L376.24,245.53 L376.45,246.36 L376.66,247.52 L376.88,248.05 L377.09,248.3 L377.3,248.48 L377.51,248.25 L377.72,247.16 L377.93,244.58 L378.14,244.34 L378.36,243.43 L378.57,242.01 L378.78,242.09 L378.99,242.51 L379.2,243.25 L379.41,242.1 L379.62,243.37 L379.84,243.62 L380.05,244.5 L380.26,245.89 L380.47,246.82 L380.68,246.98 L380.89,247.89 L381.1,248.79 L381.32,249.36 L381.53,249.04 L381.74,247.55 L381.95,246.94 L382.16,244.51 L382.37,243.37 L382.58,241.82 L382.8,242.5 L383.01,243.24 L383.22,243.55 L383.43,245.12 L383.64,243.89 L383.85,243.91 L384.06,243.59 L384.28,244.14 L384.49,244.67 L384.7,245.53 L384.91,246.06 L385.12,246.38 L385.33,248.22 L385.54,248.15 L385.76,248.51 L385.97,246.51 L386.18,245.94 L386.39,245.35 L386.6,245.52 L386.81,244.15 L387.02,243.93 L387.24,243.59 L387.45,243.74 L387.66,243.52 L387.87,244.17 L388.08,243.69 L388.29,244.16 L388.5,244.6 L388.72,244.76 L388.93,245.28 L389.14,245.11 L389.35,246.2 L389.56,246.43 L389.77,247.18 L389.98,247.91 L390.2,246.59 L390.41,247.24 L390.62,245.79 L390.83,245.27 L391.04,245.69 L391.25,244.8 L391.46,244.24 L391.68,244.24 L391.89,244.43 L392.1,243.53 L392.31,244.15 L392.52,243.94 L392.73,244.51 L392.94,244.37 L393.16,245.31 L393.37,245.55 L393.58,246.02 L393.79,247.13 L394,248.07 L394.21,248.75 L394.42,247.95 L394.64,247.18 L394.85,246.43 L395.06,245.46 L395.27,243.71 L395.48,241.98 L395.69,243.1 L395.9,242.8 L396.12,243.01 L396.33,244.8 L396.54,243.67 L396.75,244.39 L396.96,243.73 L397.17,245.2 L397.38,246.33 L397.6,247.04 L397.81,247.74 L398.02,248.65 L398.23,248.37 L398.44,248.41 L398.65,246.71 L398.86,244.86 L399.08,243.03 L399.29,242.81 L399.5,242.62 L399.71,242.13 L399.92,242.41 L400.13,242.35 L400.34,242.92 L400.56,243.87 L400.77,244.21 L400.98,245.09 L401.19,246.18 L401.4,247.51 L401.61,249.07 L401.82,250.27 L402.04,249.31 L402.25,249.04 L402.46,246.49 L402.67,244.94 L402.88,244.47 L403.09,242.44 L403.3,242.06 L403.52,242.57 L403.73,242.07 L403.94,242.29 L404.15,244.19 L404.36,243.42 L404.57,244.29 L404.78,245.12 L405,245.88 L405.21,247.78 L405.42,248.52 L405.63,248.98 L405.84,248.71 L406.05,247.59 L406.27,247.11 L406.48,245.6 L406.69,243.62 L406.9,243.14 L407.11,242.51 L407.32,243.63 L407.53,243.22 L407.75,243.34 L407.96,243.27 L408.17,243.88 L408.38,243.53 L408.59,244.78 L408.8,245.8 L409.01,247.11 L409.23,248.04 L409.44,249.63 L409.65,249.18 L409.86,249.16 L410.07,248.24 L410.28,246.79 L410.49,244.9 L410.71,243.21 L410.92,242.25 L411.13,242.06 L411.34,241.75 L411.55,242.36 L411.76,242.1 L411.97,243.08 L412.19,244.45 L412.4,243.07 L412.61,244.22 L412.82,245.64 L413.03,246.13 L413.24,247.6 L413.45,247.13 L413.67,248.75 L413.88,250.12 L414.09,248.74 L414.3,248.33 L414.51,245.81 L414.72,245.85 L414.93,245.06 L415.15,242.83 L415.36,242.46 L415.57,242.34 L415.78,243.38 L415.99,242.37 L416.2,242.07 L416.41,244.23 L416.63,243 L416.84,244.37 L417.05,243.56 L417.26,245.46 L417.47,246.85 L417.68,247.19 L417.89,248.24 L418.11,249.16 L418.32,248.28 L418.53,248.19 L418.74,247.76 L418.95,244.56 L419.16,244.64 L419.37,243.9 L419.59,242.86 L419.8,243.64 L420.01,243.6 L420.22,243.36 L420.43,243.6 L420.64,243.53 L420.85,243.26 L421.07,244.51 L421.28,244.64 L421.49,245.44 L421.7,247.28 L421.91,247.54 L422.12,248.77 L422.33,247.89 L422.55,247.82 L422.76,247.23 L422.97,246.87 L423.18,245.07 L423.39,244.67 L423.6,243.38 L423.81,243.59 L424.03,243.98 L424.24,243.25 L424.45,243.56 L424.66,244.42 L424.87,243.7 L425.08,244.69 L425.29,245.06 L425.51,245.37 L425.72,246.48 L425.93,246.99 L426.14,247.37 L426.35,246.73 L426.56,246.59 L426.77,246.97 L426.99,245.24 L427.2,245.27 L427.41,244.34 L427.62,243.61 L427.83,243.69 L428.04,242.59 L428.25,243.83 L428.47,244.74 L428.68,243.61 L428.89,244.65 L429.1,244.78 L429.31,246.44 L429.52,244.77 L429.73,245.36 L429.95,245.91 L430.16,246.3 L430.37,246.25 L430.58,247.19 L430.79,246.42 L431,246.74 L431.21,245.82 L431.43,244.34 L431.64,244.02 L431.85,244.45 L432.06,243.35 L432.27,243.61 L432.48,244.04 L432.69,243.55 L432.91,244.14 L433.12,244.92 L433.33,244.94 L433.54,243.86 L433.75,246.11 L433.96,245.9 L434.17,246.39 L434.39,246.93 L434.6,248.16 L434.81,247.63 L435.02,247 L435.23,246.07 L435.44,246.12 L435.65,245.73 L435.87,244.09 L436.08,243.71 L436.29,243.95 L436.5,244.46 L436.71,244.02 L436.92,244.29 L437.13,244.02 L437.35,245.19 L437.56,244.59 L437.77,244.89 L437.98,245.63 L438.19,245.33 L438.4,245.93 L438.61,246.71 L438.83,246.81 L439.04,248.09 L439.25,247.46 L439.46,246.94 L439.67,246.42 L439.88,245.18 L440.09,245.46 L440.31,244.83 L440.52,243.36 L440.73,242.97 L440.94,242.07 L441.15,242.97 L441.36,243.92 L441.57,243.26 L441.79,244.32 L442,244.94 L442.21,243.26 L442.42,245.07 L442.63,245.66 L442.84,246.62 L443.06,246.73 L443.27,248.02 L443.48,247.63 L443.69,248.42 L443.9,247.82 L444.11,245.32 L444.32,244.2 L444.54,243.74 L444.75,243.19 L444.96,242.86 L445.17,243.23 L445.38,242.2 L445.59,242.84 L445.8,243.12 L446.02,243.41 L446.23,243.38 L446.44,244.2 L446.65,244.92 L446.86,247.05 L447.07,247.47 L447.28,247.81 L447.5,249.99 L447.71,249.91 L447.92,248.74 L448.13,247.38 L448.34,245.79 L448.55,245.16 L448.76,242.59 L448.98,242.47 L449.19,241.87 L449.4,241.21 L449.61,241.95 L449.82,241.76 L450.03,240.93 L450.24,242.57 L450.46,243.22 L450.67,245.02 L450.88,246.25 L451.09,248.12 L451.3,249.47 L451.51,251.04 L451.72,251.37 L451.94,250.77 L452.15,249.88 L452.36,248.21 L452.57,246.07 L452.78,243.31 L452.99,242.2 L453.2,241.02 L453.42,240.87 L453.63,241.81 L453.84,241.66 L454.05,243.12 L454.26,241.57 L454.47,242.57 L454.68,243.96 L454.9,245.47 L455.11,246.09 L455.32,248.86 L455.53,249.86 L455.74,250.21 L455.95,250.99 L456.16,250.82 L456.38,248.76 L456.59,247.86 L456.8,245.05 L457.01,243.49 L457.22,242.22 L457.43,240.73 L457.64,241.26 L457.86,239.98 L458.07,241.67 L458.28,240.78 L458.49,242.82 L458.7,242.49 L458.91,244.2 L459.12,245.4 L459.34,246.11 L459.55,247.51 L459.76,250.06 L459.97,249.92 L460.18,251.38 L460.39,250.51 L460.6,249.23 L460.82,247.4 L461.03,246.72 L461.24,243.13 L461.45,242.23 L461.66,241.81 L461.87,241.72 L462.08,242.12 L462.3,242.27 L462.51,241.69 L462.72,242.54 L462.93,243.36 L463.14,243.57 L463.35,243.25 L463.56,245.29 L463.78,246.73 L463.99,247.15 L464.2,248.86 L464.41,249.95 L464.62,250.58 L464.83,250.69 L465.04,249.53 L465.26,247.75 L465.47,246.02 L465.68,244.22 L465.89,242.93 L466.1,242.34 L466.31,242.01 L466.52,242.66 L466.74,243.49 L466.95,242.95 L467.16,243.48 L467.37,243.61 L467.58,243.72 L467.79,244.62 L468,245.13 L468.22,245.37 L468.43,246.18 L468.64,247.59 L468.85,247.93 L469.06,248.94 L469.27,249.6 L469.48,248.83 L469.7,247.22 L469.91,247.54 L470.12,245.46 L470.33,244.25 L470.54,243.29 L470.75,243.87 L470.96,242.08 L471.18,243 L471.39,243.31 L471.6,243.51 L471.81,243.31 L472.02,243.8 L472.23,244.11 L472.44,243.58 L472.66,244.88 L472.87,245.42 L473.08,244.96 L473.29,245.58 L473.5,245.99 L473.71,247.67 L473.92,246.95 L474.14,247.42 L474.35,246.64 L474.56,247.79 L474.77,246.43 L474.98,245.98 L475.19,245.94 L475.4,244.89 L475.62,243.51 L475.83,244.11 L476.04,244.16 L476.25,243.35 L476.46,243.37 L476.67,243.49 L476.88,244.52 L477.1,244.26 L477.31,243.84 L477.52,244.94 L477.73,245.34 L477.94,245.03 L478.15,245.28 L478.36,247.35 L478.58,248.73 L478.79,248.58 L479,248.51 L479.21,247.85 L479.42,246.9 L479.63,246.47 L479.85,245.78 L480.06,244.42 L480.27,244.25 L480.48,243.28 L480.69,243.38 L480.9,241.7 L481.11,242.82 L481.33,243.89 L481.54,244.19 L481.75,244.12 L481.96,245.02 L482.17,244.95 L482.38,245.52 L482.59,245.41 L482.81,246.88 L483.02,247.82 L483.23,248.63 L483.44,248.73 L483.65,247.94 L483.86,247.4 L484.07,245.79 L484.29,245.66 L484.5,243.81 L484.71,243.44 L484.92,243.09 L485.13,243.94 L485.34,243.62 L485.55,242.75 L485.77,242.61 L485.98,243.43 L486.19,243.41 L486.4,244.44 L486.61,245.12 L486.82,246.27 L487.03,246.59 L487.25,248.06 L487.46,249.18 L487.67,249.5 L487.88,248.64 L488.09,247.74 L488.3,246.9 L488.51,244.07 L488.73,243.55 L488.94,242.8 L489.15,241.66 L489.36,241.9 L489.57,242.7 L489.78,242.69 L489.99,243.8 L490.21,243.88 L490.42,245.14 L490.63,244.01 L490.84,246.59 L491.05,246.47 L491.26,248.55 L491.47,249.65 L491.69,249.73 L491.9,249.24 L492.11,248.06 L492.32,245.97 L492.53,245.02 L492.74,243.23 L492.95,242.92 L493.17,241.72 L493.38,241.94 L493.59,242.48 L493.8,242.61 L494.01,242.92 L494.22,243.13 L494.43,243.5 L494.65,244.74 L494.86,245.97 L495.07,246.58 L495.28,249.24 L495.49,249.79 L495.7,249.14 L495.91,251.02 L496.13,248.94 L496.34,246.66 L496.55,246.12 L496.76,242.41 L496.97,244 L497.18,241.4 L497.39,241.3 L497.61,241.88 L497.82,242.82 L498.03,242.87 L498.24,243.87 L498.45,243.45 L498.66,245.12 L498.87,245.65 L499.09,246.16 L499.3,248.38 L499.51,248.84 L499.72,248.89 L499.93,249.35 L500.14,247.18 L500.35,246.37 L500.57,246.03 L500.78,244.17 L500.99,243.84 L501.2,243.46 L501.41,243.09 L501.62,243.69 L501.83,243.07 L502.05,244.16 L502.26,243.52 L502.47,244.35 L502.68,244.36 L502.89,245.77 L503.1,246.61 L503.31,247.85 L503.53,247.66 L503.74,247.76 L503.95,246.91 L504.16,246.58 L504.37,246.03 L504.58,245.11 L504.79,243.84 L505.01,243.44 L505.22,242.44 L505.43,242.77 L505.64,243.9 L505.85,244.08 L506.06,243.26 L506.27,244.06 L506.49,244.71 L506.7,244.53 L506.91,246.04 L507.12,246.75 L507.33,247.48 L507.54,248.58 L507.75,247.05 L507.97,247.62 L508.18,246.48 L508.39,245.65 L508.6,244.08 L508.81,243.92 L509.02,243.63 L509.23,244.51 L509.45,243.84 L509.66,244.74 L509.87,244.01 L510.08,244.19 L510.29,244.71 L510.5,244.16 L510.71,245.62 L510.93,246.31 L511.14,247.13 L511.35,247.58 L511.56,246.81 L511.77,246.17 L511.98,246.56 L512.19,244.47 L512.41,244.04 L512.62,243.4 L512.83,243.53 L513.04,244.5 L513.25,244.64 L513.46,243.27 L513.67,244.25 L513.89,245.34 L514.1,244.8 L514.31,245.7 L514.52,247.1 L514.73,247.94 L514.94,247.97 L515.15,247.04 L515.37,246.83 L515.58,246.26 L515.79,245.17 L516,244.27 L516.21,245.16 L516.42,244.03 L516.64,244.33 L516.85,244.68 L517.06,244.5 L517.27,244.44 L517.48,244.7 L517.69,245.6 L517.9,245.53 L518.12,244.82 L518.33,246.99 L518.54,247.78 L518.75,246.96 L518.96,246.63 L519.17,246.19 L519.38,246.26 L519.6,244.38 L519.81,244.64 L520.02,244.4 L520.23,243.95 L520.44,243.71 L520.65,243.41 L520.86,243.59 L521.08,244.09 L521.29,243.85 L521.5,244.73 L521.71,245.02 L521.92,247.13 L522.13,248.17 L522.34,247.75 L522.56,249.19 L522.77,248.36 L522.98,247.43 L523.19,246.44 L523.4,245.13 L523.61,243.1 L523.82,244.4 L524.04,242.34 L524.25,241.63 L524.46,243 L524.67,243.27 L524.88,243.13 L525.09,242.84 L525.3,244.79 L525.52,244.77 L525.73,245.79 L525.94,246.48 L526.15,247.77 L526.36,248.39 L526.57,249.37 L526.78,248.96 L527,248.56 L527.21,247.34 L527.42,245.65 L527.63,244.31 L527.84,243.8 L528.05,241.77 L528.26,242.43 L528.48,243.14 L528.69,242.1 L528.9,243.33 L529.11,242.94 L529.32,243.49 L529.53,243.71 L529.74,244.3 L529.96,245.49 L530.17,246.23 L530.38,246.42 L530.59,249.79 L530.8,249.52 L531.01,249.79 L531.22,250.41 L531.44,249.79 L531.65,246.65 L531.86,246.25 L532.07,243.25 L532.28,242.54 L532.49,241.69 L532.7,240.9 L532.92,240.68 L533.13,240.61 L533.34,241.36 L533.55,241.91 L533.76,242.29 L533.97,242.11 L534.18,242.96 L534.4,244.7 L534.61,245.6 L534.82,246.41 L535.03,248.27 L535.24,249.37 L535.45,250.5 L535.66,250.42 L535.88,249.73 L536.09,248.49 L536.3,247.62 L536.51,244.99 L536.72,244.62 L536.93,241.71 L537.14,242 L537.36,241.83 L537.57,242.27 L537.78,243.61 L537.99,242.5 L538.2,242.61 L538.41,241.98 L538.62,243.99 L538.84,242.78 L539.05,244.63 L539.26,245.2 L539.47,248.23 L539.68,248.35 L539.89,249.91 L540.1,250.24 L540.32,250.68 L540.53,250.63 L540.74,248.15 L540.95,246.4 L541.16,244.5 L541.37,242.66 L541.58,241.52 L541.8,241.61 L542.01,242.31 L542.22,242.65 L542.43,241.68 L542.64,242.43 L542.85,243.14 L543.06,243.88 L543.28,244.25 L543.49,245.09 L543.7,246.3 L543.91,247.59 L544.12,247.11 L544.33,248.75 L544.54,249.28 L544.76,249.16 L544.97,247.83 L545.18,245.75 L545.39,244.36 L545.6,243.71 L545.81,242.78 L546.02,242.61 L546.24,243.02 L546.45,242 L546.66,242.76 L546.87,241.96 L547.08,243.94 L547.29,244.11 L547.5,244.35 L547.72,246 L547.93,247.85 L548.14,248.83 L548.35,249.16 L548.56,249.28 L548.77,249.03 L548.98,247.35 L549.2,245.84 L549.41,244.62 L549.62,243.48 L549.83,242.81 L550.04,242.09 L550.25,241.96 L550.46,242.68 L550.68,242.82 L550.89,243.54 L551.1,244.46 L551.31,244.74 L551.52,244.54 L551.73,245.6 L551.94,245.99 L552.16,247.64 L552.37,247.75 L552.58,247.58 L552.79,247.33 L553,247.31 L553.21,245.99 L553.43,244.68 L553.64,244.24 L553.85,242.78 L554.06,242.16 L554.27,242.9 L554.48,241.79 L554.69,243.18 L554.91,243.37 L555.12,243.7 L555.33,244.47 L555.54,244.74 L555.75,246.11 L555.96,246.62 L556.17,248.4 L556.39,249.25 L556.6,249.76 L556.81,249.74 L557.02,247.8 L557.23,246.61 L557.44,244.13 L557.65,243.44 L557.87,241.87 L558.08,242.13 L558.29,242.21 L558.5,242.81 L558.71,243.14 L558.92,243.2 L559.13,243.36 L559.35,244.62 L559.56,244.62 L559.77,244.39 L559.98,246.85 L560.19,248.01 L560.4,249.1 L560.61,249.9 L560.83,248.33 L561.04,248.02 L561.25,246.52 L561.46,244.11 L561.67,242.29 L561.88,242.94 L562.09,241.37 L562.31,241.49 L562.52,241.82 L562.73,242.12 L562.94,242.73 L563.15,242.27 L563.36,243.28 L563.57,244.21 L563.79,244.88 L564,246.44 L564.21,248.12 L564.42,249.38 L564.63,249.28 L564.84,249.78 L565.05,249.14 L565.27,247.94 L565.48,245.76 L565.69,244.25 L565.9,242.2 L566.11,241.26 L566.32,242.19 L566.53,241.3 L566.75,241.35 L566.96,242.02 L567.17,243.03 L567.38,242.45 L567.59,244.32 L567.8,245.86 L568.01,247.39 L568.23,248.49 L568.44,249.35 L568.65,250 L568.86,250.37 L569.07,250.12 L569.28,248.21 L569.49,246.37 L569.71,244.1 L569.92,243.43 L570.13,241.57 L570.34,241 L570.55,241.54 L570.76,241.57 L570.97,242.67 L571.19,243.32 L571.4,243.41 L571.61,243.3 L571.82,244.6 L572.03,247.03 L572.24,248.06 L572.45,250.52 L572.67,250.59 L572.88,251.16 L573.09,250.59 L573.3,248.08 L573.51,246.58 L573.72,244.47 L573.93,243.03 L574.15,241.2 L574.36,241.11 L574.57,241.36 L574.78,241.99 L574.99,241.52 L575.2,242.94 L575.41,243.61 L575.63,243.29 L575.84,244.19 L576.05,245.98 L576.26,248.42 L576.47,249.07 L576.68,249.27 L576.89,249.74 L577.11,248.41 L577.32,248.74 L577.53,246.12 L577.74,245.18 L577.95,242.77 L578.16,242.48 L578.37,241.4 L578.59,242.17 L578.8,242.73 L579.01,242.85 L579.22,242.88 L579.43,243.41 L579.64,242.74 L579.85,243.47 L580.07,245.22 L580.28,247.46 L580.49,248.7 L580.7,250.48 L580.91,250.3 L581.12,250.92 L581.33,249.94 L581.55,248.76 L581.76,247.53 L581.97,244.85 L582.18,243.37 L582.39,241.53 L582.6,241.23 L582.81,241.76 L583.03,241.89 L583.24,241.34 L583.45,243.07 L583.66,243.48 L583.87,243.67 L584.08,244.7 L584.29,245.65 L584.51,246.46 L584.72,247.2 L584.93,250.12 L585.14,249.81 L585.35,249.69 L585.56,248.97 L585.77,247.73 L585.99,246.22 L586.2,244.03 L586.41,243.6 L586.62,242.74 L586.83,242.44 L587.04,242.48 L587.25,242.9 L587.47,242.6 L587.68,243.41 L587.89,243.62 L588.1,244.16 L588.31,245.29 L588.52,246.08 L588.73,247.26 L588.95,247.67 L589.16,248.92 L589.37,249.38 L589.58,248.38 L589.79,247.36 L590,247.33 L590.22,244.29 L590.43,244.06 L590.64,243.43 L590.85,242.52 L591.06,243.07 L591.27,243.62 L591.48,242.44 L591.7,244.36 L591.91,244.1 L592.12,243.93 L592.33,245.39 L592.54,245.55 L592.75,246.1 L592.96,245.83 L593.18,248.09 L593.39,247.84 L593.6,247.22 L593.81,246.86 L594.02,246.63 L594.23,244.88 L594.44,244.25 L594.66,243.59 L594.87,243.05 L595.08,243.15 L595.29,243.62 L595.5,243.85 L595.71,244.75 L595.92,244.44 L596.14,244.5 L596.35,245.2 L596.56,245.47 L596.77,246.57 L596.98,245.99 L597.19,246.16 L597.4,247.67 L597.62,247.1 L597.83,246.91 L598.04,245.36 L598.25,244.94 L598.46,244.37 L598.67,244.01 L598.88,243.58 L599.1,244.15 L599.31,243.42 L599.52,244.31 L599.73,243.84 L599.94,244.22 L600.15,243.92 L600.36,244.79 L600.58,244.69 L600.79,246.26 L601,246.1 L601.21,247.12 L601.42,247.33 L601.63,247.52 L601.84,246.87 L602.06,247.85 L602.27,245.88 L602.48,245.97 L602.69,243.84 L602.9,244.92 L603.11,244.11 L603.32,244.37 L603.54,242.75 L603.75,244.41 L603.96,243.86 L604.17,244.36 L604.38,245.18 L604.59,244.65 L604.8,244.43 L605.02,245.29 L605.23,245.23 L605.44,246.49 L605.65,246.84 L605.86,247.46 L606.07,247.26 L606.28,246.36 L606.5,246.79 L606.71,246.3 L606.92,246.04 L607.13,245.46 L607.34,243.78 L607.55,244.73 L607.76,244.44 L607.98,244 L608.19,244.25 L608.4,243.15 L608.61,245.51 L608.82,244.23 L609.03,244.17 L609.24,245.25 L609.46,245.19 L609.67,244.9 L609.88,244.63 L610.09,246.33 L610.3,247.06 L610.51,246.1 L610.72,246.05 L610.94,247.06 L611.15,247.88 L611.36,245.66 L611.57,246.02 L611.78,244.78 L611.99,244.82 L612.2,244.5 L612.42,244.19 L612.63,243.01 L612.84,242.98 L613.05,244.86 L613.26,244.34 L613.47,243.06 L613.68,244.29 L613.9,244.96 L614.11,244.51 L614.32,244.95 L614.53,245.46 L614.74,246.3 L614.95,246.88 L615.16,247.53 L615.38,247.5 L615.59,248.17 L615.8,247.65 L616.01,247.03 L616.22,245.52 L616.43,245.16 L616.64,244.62 L616.86,243.65 L617.07,243.3 L617.28,242.76 L617.49,243.06 L617.7,242.51 L617.91,242.9 L618.12,243.76 L618.34,244.12 L618.55,243.71 L618.76,244.3 L618.97,245.23 L619.18,246.77 L619.39,247.88 L619.6,247.64 L619.82,248.04 L620.03,248.23 L620.24,249.02 L620.45,247.08 L620.66,246.82 L620.87,245.12 L621.08,243.98 L621.3,243.71 L621.51,243.04 L621.72,243.6 L621.93,243.07 L622.14,243.73 L622.35,242.82 L622.56,243.26 L622.78,243.14 L622.99,243.9 L623.2,245.15 L623.41,245.68 L623.62,247.28 L623.83,247.95 L624.04,249.01 L624.26,250.07 L624.47,249.26 L624.68,248.26 L624.89,247.01 L625.1,244.78 L625.31,242.92 L625.52,242.96 L625.74,242.43 L625.95,243.34 L626.16,242.47 L626.37,242.96 L626.58,244.18 L626.79,243.25 L627.01,243.52 L627.22,244.87 L627.43,245.65 L627.64,247.2 L627.85,247.66 L628.06,249.97 L628.27,249.93 L628.49,248.57 L628.7,248.53 L628.91,246.69 L629.12,245.15 L629.33,243.97 L629.54,242.22 L629.75,241.48 L629.97,242.23 L630.18,241.85 L630.39,241.8 L630.6,242.3 L630.81,244.14 L631.02,244.55 L631.23,245.98 L631.45,246.05 L631.66,247.81 L631.87,248.99 L632.08,250.37 L632.29,250.18 L632.5,248.33 L632.71,246.57 L632.93,245.19 L633.14,243.15 L633.35,241.94 L633.56,241.83 L633.77,242.61 L633.98,243.5 L634.19,242.91 L634.41,243.07 L634.62,243.84 L634.83,244.83 L635.04,246.3 L635.25,247.15 L635.46,249.01 L635.67,249.78 L635.89,250.29 L636.1,249.1 L636.31,246.96 L636.52,245.61 L636.73,244.08 L636.94,242.57 L637.15,241.4 L637.37,242.04 L637.58,241.73 L637.79,242.93 L638,243.39 L638.21,244.46 L638.42,244.91 L638.63,245.15 L638.85,247.29 L639.06,248.55 L639.27,249.48 L639.48,249.85 L639.69,248.98 L639.9,247.11 L640.11,244.88 L640.33,243.3 L640.54,242.22 L640.75,242 L640.96,242.6 L641.17,242.72 L641.38,243.47 L641.59,242.85 L641.81,244.89 L642.02,244.58 L642.23,244.21 L642.44,246.8 L642.65,248.41 L642.86,248.72 L643.07,248.36 L643.29,248.7 L643.5,247.24 L643.71,246.06 L643.92,244.8 L644.13,241.75 L644.34,242.58 L644.55,242.63 L644.77,242.7 L644.98,242.51 L645.19,242.8 L645.4,242.91" fill="none" stroke="#3d5fe6" stroke-width="1.05" stroke-linejoin="round"/>
<path d="M645.4,213.1 L349.6,213.1 L349.6,341.7 L645.4,341.7" fill="none" stroke="#3a3a3a" stroke-width="1"/>
<line x1="645.4" y1="213.1" x2="645.4" y2="341.7" stroke="#4c9e35" stroke-width="1"/>
<text x="349.6" y="353.1" font-size="10.3" text-anchor="middle" fill="#262626" textLength="5.12" lengthAdjust="spacingAndGlyphs">0</text>
<text x="386.58" y="353.1" font-size="10.3" text-anchor="middle" fill="#262626" textLength="12.79" lengthAdjust="spacingAndGlyphs">0.5</text>
<text x="423.55" y="353.1" font-size="10.3" text-anchor="middle" fill="#262626" textLength="5.12" lengthAdjust="spacingAndGlyphs">1</text>
<text x="460.52" y="353.1" font-size="10.3" text-anchor="middle" fill="#262626" textLength="12.79" lengthAdjust="spacingAndGlyphs">1.5</text>
<text x="497.5" y="353.1" font-size="10.3" text-anchor="middle" fill="#262626" textLength="5.12" lengthAdjust="spacingAndGlyphs">2</text>
<text x="534.48" y="353.1" font-size="10.3" text-anchor="middle" fill="#262626" textLength="12.79" lengthAdjust="spacingAndGlyphs">2.5</text>
<text x="571.45" y="353.1" font-size="10.3" text-anchor="middle" fill="#262626" textLength="5.12" lengthAdjust="spacingAndGlyphs">3</text>
<text x="608.42" y="353.1" font-size="10.3" text-anchor="middle" fill="#262626" textLength="12.79" lengthAdjust="spacingAndGlyphs">3.5</text>
<text x="645.4" y="353.1" font-size="10.3" text-anchor="middle" fill="#262626" textLength="5.12" lengthAdjust="spacingAndGlyphs">4</text>
<text x="347" y="345.3" font-size="10.3" text-anchor="end" fill="#262626" textLength="5.23" lengthAdjust="spacingAndGlyphs">0</text>
<text x="347" y="319.58" font-size="10.3" text-anchor="end" fill="#262626" textLength="10.46" lengthAdjust="spacingAndGlyphs">10</text>
<text x="347" y="293.86" font-size="10.3" text-anchor="end" fill="#262626" textLength="10.46" lengthAdjust="spacingAndGlyphs">20</text>
<text x="347" y="268.14" font-size="10.3" text-anchor="end" fill="#262626" textLength="10.46" lengthAdjust="spacingAndGlyphs">30</text>
<text x="347" y="242.42" font-size="10.3" text-anchor="end" fill="#262626" textLength="10.46" lengthAdjust="spacingAndGlyphs">40</text>
<text x="347" y="216.7" font-size="10.3" text-anchor="end" fill="#262626" textLength="10.46" lengthAdjust="spacingAndGlyphs">50</text>
<text x="648.3" y="345.3" font-size="10.3" text-anchor="start" fill="#4c9e35" textLength="5.23" lengthAdjust="spacingAndGlyphs">0</text>
<text x="648.3" y="302.43" font-size="10.3" text-anchor="start" fill="#4c9e35" textLength="13.07" lengthAdjust="spacingAndGlyphs">0.5</text>
<text x="648.3" y="259.57" font-size="10.3" text-anchor="start" fill="#4c9e35" textLength="5.23" lengthAdjust="spacingAndGlyphs">1</text>
<text x="648.3" y="216.7" font-size="10.3" text-anchor="start" fill="#4c9e35" textLength="13.07" lengthAdjust="spacingAndGlyphs">1.5</text>
<path d="M349.6,341.7 v-2.6 M349.6,213.1 v2.6 M386.58,341.7 v-2.6 M386.58,213.1 v2.6 M423.55,341.7 v-2.6 M423.55,213.1 v2.6 M460.52,341.7 v-2.6 M460.52,213.1 v2.6 M497.5,341.7 v-2.6 M497.5,213.1 v2.6 M534.48,341.7 v-2.6 M534.48,213.1 v2.6 M571.45,341.7 v-2.6 M571.45,213.1 v2.6 M608.42,341.7 v-2.6 M608.42,213.1 v2.6 M645.4,341.7 v-2.6 M645.4,213.1 v2.6 M349.6,341.7 h2.6 M349.6,315.98 h2.6 M349.6,290.26 h2.6 M349.6,264.54 h2.6 M349.6,238.82 h2.6 M349.6,213.1 h2.6" stroke="#3a3a3a" stroke-width="1" fill="none"/>
<path d="M645.4,341.7 h-2.6 M645.4,298.83 h-2.6 M645.4,255.97 h-2.6 M645.4,213.1 h-2.6" stroke="#4c9e35" stroke-width="1" fill="none"/>
<text x="498.4" y="365" font-size="10" text-anchor="middle" fill="#262626" textLength="78" lengthAdjust="spacingAndGlyphs">Time (Roundtrips)</text>
<text x="626.3" y="364.8" font-size="9.6" fill="#262626" textLength="19">&#215;10<tspan font-size="6.6" dy="-3.8">4</tspan></text>
<text transform="translate(333.7,276.8) rotate(-90)" x="0" y="0" font-size="10.4" text-anchor="middle" fill="#262626" textLength="94" lengthAdjust="spacingAndGlyphs">Output power (a.u.)</text>
<text transform="translate(672.2,277.5) rotate(-90)" x="0" y="0" font-size="10.5" text-anchor="middle" fill="#4c9e35" textLength="132" lengthAdjust="spacingAndGlyphs">Normalized phase difference</text>
<rect x="415.3" y="189.6" width="165.5" height="14.4" fill="#fff" stroke="#262626" stroke-width="0.9"/>
<line x1="415.6" y1="196.7" x2="426.6" y2="196.7" stroke="#2e2e2e" stroke-width="1.2"/>
<line x1="438" y1="196.7" x2="447.8" y2="196.7" stroke="#e32b2b" stroke-width="1.2"/>
<line x1="459.9" y1="196.7" x2="470.1" y2="196.7" stroke="#3d5fe6" stroke-width="1.2"/>
<line x1="493" y1="196.7" x2="503.7" y2="196.7" stroke="#5ab54a" stroke-width="1" stroke-dasharray="1.8,1"/>
<text x="428.4" y="199.9" font-size="10" fill="#262626">I<tspan font-size="7" dy="2.2">x</tspan></text>
<text x="450" y="199.9" font-size="10" fill="#262626">I<tspan font-size="7" dy="2.2">y</tspan></text>
<text x="472.3" y="199.9" font-size="10" fill="#262626">I<tspan font-size="7" dy="2.2">x</tspan><tspan dy="-2.2">+I</tspan><tspan font-size="7" dy="2.2">y</tspan></text>
<text x="505" y="200.2" font-size="9.8" text-anchor="start" fill="#262626" textLength="73" lengthAdjust="spacingAndGlyphs">Phase difference</text>
<path d="M377.9,376.2 V521.2 M394.27,376.2 V521.2 M405.89,376.2 V521.2 M414.9,376.2 V521.2 M422.27,376.2 V521.2 M428.49,376.2 V521.2 M433.89,376.2 V521.2 M438.64,376.2 V521.2 M442.9,376.2 V521.2 M470.9,376.2 V521.2 M487.27,376.2 V521.2 M498.89,376.2 V521.2 M507.9,376.2 V521.2 M515.27,376.2 V521.2 M521.49,376.2 V521.2 M526.89,376.2 V521.2 M531.64,376.2 V521.2 M535.9,376.2 V521.2 M563.9,376.2 V521.2 M580.27,376.2 V521.2 M591.89,376.2 V521.2 M600.9,376.2 V521.2 M608.27,376.2 V521.2 M614.49,376.2 V521.2 M619.89,376.2 V521.2 M624.64,376.2 V521.2 M628.9,376.2 V521.2" stroke="#ebebeb" stroke-width="0.7" fill="none"/>
<path d="M355.19,498.73 L383.19,513.81 L399.56,501.19 L411.18,509.02 L420.2,511.2 L427.56,513.95 L433.79,516.12 L439.18,518.45 L443.94,510.62 L448.19,516.85 L452.04,511.23 L455.56,513.92 L458.79,507.81 L461.78,505.79 L464.57,511.43 L467.18,510.52 L469.62,508.38 L471.93,506.81 L474.12,510.14 L476.19,511.79 L478.16,509.75 L480.04,508.59 L481.83,510.96 L483.55,513.23 L485.2,512.04 L486.78,509.74 L488.31,510.9 L489.78,512.03 L491.2,510.7 L492.56,507.6 L493.89,506.17 L495.17,510.23 L496.41,514.18 L497.62,512.27 L498.79,508.29 L499.93,510.02 L501.03,509.54 L502.11,505.79 L503.16,502.65 L504.18,507.59 L505.18,512.41 L506.15,510.45 L507.1,505.38 L508.03,504.77 L508.94,506.15 L509.83,508.7 L510.7,511.99 L511.55,515.2 L512.38,512.28 L513.2,509.01 L514,505.82 L514.78,503.8 L515.55,500.23 L516.3,513.24 L517.05,510.93 L517.77,515.26 L518.49,503.28 L519.19,505.19 L519.88,502.65 L520.56,514.12 L521.23,516.51 L521.88,514.53 L522.53,507.77 L523.17,498.68 L523.79,503.32 L524.41,499.18 L525.02,513.02 L525.62,498.13 L526.21,515.41 L526.79,503.91 L527.36,515.5 L527.92,500.25 L528.48,516.46 L529.03,509.88 L529.57,514.57 L530.11,501.61 L530.64,513.29 L531.16,499.12 L531.67,504.96 L532.18,520.39 L532.68,501.81 L533.18,504.55 L533.67,513.89 L534.15,512.76 L534.63,514.85 L535.1,513.61 L535.57,518.63 L536.03,515.06 L536.49,518.24 L536.94,515.63 L537.38,512.91 L537.82,511.09 L538.26,516.5 L538.69,504.22 L539.12,511.76 L539.54,510.96 L539.96,504.49 L540.38,516.35 L540.79,515.83 L541.19,506.35 L541.59,512.69 L541.99,508.61 L542.39,509.8 L542.78,517.84 L543.16,510.46 L543.55,511.94 L543.92,505.44 L544.3,509.01 L544.67,500.24 L545.04,503.58 L545.41,499.69 L545.77,514.97 L546.13,511.54 L546.48,517.1 L546.84,500.45 L547.19,512.95 L547.53,509.15 L547.88,516.41 L548.22,503.78 L548.56,520.21 L548.89,516.95 L549.22,504.34 L549.55,505.58 L549.88,518.12 L550.2,501.73 L550.53,503.27 L550.85,511.06 L551.16,513.56 L551.48,518.42 L551.79,504.83 L552.1,500.81 L552.41,507.84 L552.71,519 L553.01,509.86 L553.31,505.17 L553.61,516.2 L553.91,508.86 L554.2,512.68 L554.49,511.81 L554.78,515.84 L555.07,510.29 L555.35,514.53 L555.64,514.32 L555.92,519.48 L556.2,499.98 L556.48,518.55 L556.75,508.98 L557.03,506.96 L557.3,510.14 L557.57,503.82 L557.84,513.9 L558.1,500.6 L558.37,506.35 L558.63,514.5 L558.89,516.16 L559.15,517.59 L559.41,514.87 L559.67,484.95 L559.92,515.44 L560.18,505.26 L560.43,508.63 L560.68,509.23 L560.93,518.52 L561.17,477.7 L561.42,504.19 L561.66,503.88 L561.9,515.75 L562.15,516.05 L562.39,507.92 L562.62,517.63 L562.86,455.95 L563.1,515.8 L563.33,511.01 L563.56,512.49 L563.79,516.11 L564.02,517.2 L564.25,517.78 L564.48,511.42 L564.71,517.85 L564.93,508.43 L565.16,514.8 L565.38,510.31 L565.6,518.65 L565.82,517.18 L566.04,512.8 L566.26,513.72 L566.47,513.25 L566.69,521.16 L566.9,512.42 L567.12,513.62 L567.33,514 L567.54,516.12 L567.75,507.78 L567.96,510.93 L568.17,516.04 L568.37,513.69 L568.58,517.36 L568.78,519.14 L568.99,518.55 L569.19,512.79 L569.39,513.15 L569.59,518.47 L569.79,520.35 L569.99,513.08 L570.19,516.31 L570.38,517.86 L570.58,511.25 L570.77,518.25 L570.97,520.1 L571.16,521.07 L571.35,518.7 L571.54,518.14 L571.73,514.36 L571.92,516.46 L572.11,516.53 L572.3,519.81 L572.48,517.08 L572.67,516.36 L572.85,515.51 L573.04,516.08 L573.22,520.37 L573.4,515.6 L573.58,515.82 L573.77,520.32 L573.95,519.12 L574.12,518.84 L574.3,518.54 L574.48,517.14 L574.66,516.8 L574.83,518.92 L575.01,517.86 L575.18,519.78 L575.36,517.91 L575.53,516.39 L575.7,520.28 L575.87,518.28 L576.04,520.45 L576.21,516.86 L576.38,519.7 L576.55,518.82 L576.72,516.86 L576.89,518.55 L577.05,518.12 L577.22,517.89 L577.38,519.31 L577.55,519.59 L577.71,520.04 L577.88,517.94 L578.04,520.6 L578.2,519.06 L578.36,517.83 L578.52,516.46 L578.68,517.55 L578.84,520.04 L579,516.67 L579.16,518.54 L579.32,519.7 L579.47,517.5 L579.63,518.38 L579.78,519.74 L579.94,520.09 L580.09,519.23 L580.25,518.23 L580.4,519.52 L580.55,517.28 L580.71,519.01 L580.86,518.41 L581.01,520.05 L581.16,518.74 L581.31,520.42 L581.46,517.94 L581.61,519.88 L581.76,518.12 L581.9,518.15 L582.05,516.77 L582.2,518.71 L582.34,520.66 L582.49,519.02 L582.63,518.21 L582.78,520.61 L582.92,520.09 L583.07,518.61 L583.21,517.16 L583.35,518.13 L583.49,518.43 L583.63,517.91 L583.78,520.11 L583.92,517.63 L584.06,518.93 L584.2,518.49 L584.33,518.57 L584.47,519.83 L584.61,516.94 L584.75,517.45 L584.89,521.09 L585.02,518.4 L585.16,519.56 L585.29,519.12 L585.43,520.5 L585.56,518.32 L585.7,520.37 L585.83,520.86 L585.97,517.99 L586.1,517.93 L586.23,517.38 L586.36,520.81 L586.5,520.21 L586.63,518.4 L586.76,519.7 L586.89,519.55 L587.02,518.42 L587.15,519.18 L587.28,519.91 L587.41,520.13 L587.54,518.46 L587.66,520.64 L587.79,520.47 L587.92,520.4 L588.04,519.22 L588.17,518.45 L588.3,518 L588.42,519.03 L588.55,519.14 L588.67,518.72 L588.8,518.57 L588.92,520.46 L589.05,519.02 L589.17,519.77 L589.29,519.21 L589.41,519.06 L589.54,520.21 L589.66,520.11 L589.78,518.91 L589.9,520.08 L590.02,518.81 L590.14,518.3 L590.26,519.09 L590.38,518.45 L590.5,519.64 L590.62,520.33 L590.74,518.45 L590.86,517.45 L590.97,518.62 L591.09,519.88 L591.21,517.35 L591.33,517.59 L591.44,519.58 L591.56,517.86 L591.67,519.57 L591.79,517.81 L591.91,520.27 L592.02,518.28 L592.14,518.08 L592.25,519.1 L592.36,520 L592.48,520.96 L592.59,520.58 L592.7,519.4 L592.82,521.13 L592.93,519.64 L593.04,520.35 L593.15,520.2 L593.26,517.69 L593.37,519.35 L593.49,520.99 L593.6,520.86 L593.71,520.63 L593.82,519.61 L593.93,518.84 L594.03,520.88 L594.14,518.81 L594.25,519.72 L594.36,520.28 L594.47,519.65 L594.58,519.45 L594.68,519.28 L594.79,518.82 L594.9,520.96 L595.01,519.66 L595.11,519.98 L595.22,520.27 L595.32,519.53 L595.43,519.97 L595.53,520.82 L595.64,519.66 L595.74,521.1 L595.85,520.57 L595.95,520.36 L596.06,519.94 L596.16,519.21 L596.26,519.32 L596.37,520.64 L596.47,519.49 L596.57,519.25 L596.68,520.78 L596.78,519.02 L596.88,520.62 L596.98,520.36 L597.08,521.09 L597.18,520.6 L597.28,518.8 L597.39,519.59 L597.49,519.76 L597.59,519.46 L597.69,520.52 L597.79,520.08 L597.88,520.4 L597.98,518.67 L598.08,518.25 L598.18,518.4 L598.28,519.15 L598.38,519.76 L598.48,518.7 L598.57,518.57 L598.67,518.9 L598.77,519.4 L598.86,520.51 L598.96,519.28 L599.06,520.31 L599.15,520.29 L599.25,519.76 L599.35,520.93 L599.44,520.04 L599.54,520.51 L599.63,519.3 L599.73,521.04 L599.82,519.28 L599.92,521.07 L600.01,519.26 L600.1,520.56 L600.2,520.26 L600.29,519.73 L600.39,518.42 L600.48,519.61 L600.57,520.08 L600.66,520.31 L600.76,519.89 L600.85,518.99 L600.94,520.96 L601.03,520.91 L601.12,520.27 L601.22,519.55 L601.31,521.13 L601.4,519.72 L601.49,519.23 L601.58,519.53 L601.67,520.51 L601.76,521.01 L601.85,520.56 L601.94,520.55 L602.03,520.24 L602.12,518.58 L602.21,520.22 L602.3,519.02 L602.39,520.03 L602.48,520.43 L602.56,518.21 L602.65,519.78 L602.74,519.13 L602.83,519.4 L602.92,518.44 L603,519.81 L603.09,519.49 L603.18,520.34 L603.27,519.47 L603.35,518.11 L603.44,519.22 L603.53,518.61 L603.61,520.31 L603.7,520.47 L603.78,520.64 L603.87,518.97 L603.95,519.84 L604.04,518.73 L604.12,519.81 L604.21,519.35 L604.29,518.58 L604.38,520.05 L604.46,519.36 L604.55,520.2 L604.63,519.64 L604.72,520.94 L604.8,519.46 L604.88,520.52 L604.97,520.42 L605.05,518.76 L605.13,519.93 L605.22,519.64 L605.3,520.03 L605.38,520.6 L605.46,520.47 L605.54,519.64 L605.63,520.28 L605.71,520.5 L605.79,520.4 L605.87,519.91 L605.95,520.62 L606.03,521.15 L606.12,520.96 L606.2,519.51 L606.28,520.67 L606.36,520 L606.44,520.31 L606.52,520.84 L606.6,519.62 L606.68,519.98 L606.76,520.84 L606.84,519.59 L606.92,520.3 L607,520.55 L607.08,521.16 L607.15,520.84 L607.23,520.03 L607.31,519.64 L607.39,520.66 L607.47,518.92 L607.55,520.27 L607.62,518.52 L607.7,519.16 L607.78,518.92 L607.86,520.67 L607.94,520.83 L608.01,519.72 L608.09,518.59 L608.17,519.19 L608.24,519.27 L608.32,519.7 L608.4,519.1 L608.47,519.86 L608.55,520 L608.63,518.68 L608.7,519.77 L608.78,519.62 L608.85,518.96 L608.93,520.6 L609,519.59 L609.08,518.52 L609.15,519.98 L609.23,519.69 L609.3,519.34 L609.38,518.76 L609.45,518.86 L609.53,518.85 L609.6,519.28 L609.68,518.58 L609.75,520.71 L609.82,520.9 L609.9,519.26 L609.97,519.67 L610.05,520.22 L610.12,519.39 L610.19,520.39 L610.27,520.83 L610.34,518.71 L610.41,520.34 L610.48,519.8 L610.56,519.19 L610.63,521.07 L610.7,520.63 L610.77,520.15 L610.85,520.99 L610.92,520.56 L610.99,518.52 L611.06,519.67 L611.13,520.95 L611.2,519.79 L611.28,518.81 L611.35,520.4 L611.42,519.81 L611.49,520.55 L611.56,519.85 L611.63,519.03 L611.7,519.07 L611.77,520.44 L611.84,520.94 L611.91,519.33 L611.98,520.1 L612.05,519.97 L612.12,519.98 L612.19,518.77 L612.26,520.1 L612.33,519.58 L612.4,520.72 L612.47,520.08 L612.54,520.35 L612.61,519.56 L612.68,520.07 L612.74,519.17 L612.81,519.55 L612.88,519.06 L612.95,520.32 L613.02,519.3 L613.09,518.81 L613.15,520.96 L613.22,521.07 L613.29,520.45 L613.36,520.51 L613.43,519.77 L613.49,520.57 L613.56,519.62 L613.63,520.58 L613.69,520.21 L613.76,519.76 L613.83,520.61 L613.9,519.93 L613.96,519.83 L614.03,520.69 L614.1,519.41 L614.16,520.49 L614.23,521.06 L614.29,519.2 L614.36,518.89 L614.43,519.66 L614.49,521.02 L614.56,520.85 L614.62,520.98 L614.69,519.87 L614.75,520.78 L614.82,521.09 L614.88,520.55 L614.95,520.06 L615.01,519.41 L615.08,519.08 L615.14,520.39 L615.21,520.14 L615.27,520.12 L615.34,520 L615.4,519.18 L615.47,520.02 L615.53,519.33 L615.59,520.42 L615.66,520.35 L615.72,520.01 L615.79,519.16 L615.85,520.11 L615.91,519.9 L615.98,520.23 L616.04,519.3 L616.1,520.61 L616.17,520.39 L616.23,519.96 L616.29,519.73 L616.36,520.34 L616.42,520.74 L616.48,520.35 L616.54,520.56 L616.61,520.43 L616.67,518.77 L616.73,520.82 L616.79,521.06 L616.86,520.72 L616.92,519.6 L616.98,519.21 L617.04,520.12 L617.1,520.47 L617.16,518.7 L617.23,519.37 L617.29,520.71 L617.35,519.88 L617.41,519.69 L617.47,518.99 L617.53,520.04 L617.59,520.04 L617.65,521.11 L617.71,520.07 L617.78,519 L617.84,520.87 L617.9,519.77 L617.96,520.36 L618.02,520.54 L618.08,520.33 L618.14,520.89 L618.2,519.85 L618.26,520.71 L618.32,519.94 L618.38,520.39 L618.44,520.2 L618.5,519.51 L618.56,520.87 L618.62,520.69 L618.67,520.17 L618.73,519.41 L618.79,518.9 L618.85,520.85 L618.91,520.51 L618.97,520.41 L619.03,520.3 L619.09,520.66 L619.15,520.43 L619.21,519.1 L619.26,520.6 L619.32,520.47 L619.38,520.12 L619.44,519.8 L619.5,520.06 L619.55,520.68 L619.61,520.22 L619.67,520.97 L619.73,518.88 L619.79,519.64 L619.84,519.44 L619.9,519.3 L619.96,521.05 L620.02,519.28 L620.07,520.05 L620.13,520.99 L620.19,519.77 L620.25,520.51 L620.3,520.22 L620.36,519.65 L620.42,519.81 L620.47,519.79 L620.53,520.34 L620.59,519.75 L620.64,520.24 L620.7,520.28 L620.76,519.21 L620.81,519.44 L620.87,519.81 L620.92,520.43 L620.98,519.58 L621.04,520.07 L621.09,520.2 L621.15,519.6 L621.2,520.81 L621.26,519.83 L621.31,519.44 L621.37,520.83 L621.43,520.68 L621.48,519.3 L621.54,519.09 L621.59,520.48 L621.65,519.82 L621.7,519.35 L621.76,520.36 L621.81,519.36 L621.87,519.32 L621.92,521.17 L621.98,520.03 L622.03,519.21 L622.09,519.23 L622.14,521.12 L622.19,519.87 L622.25,519.48 L622.3,520.1 L622.36,519.83 L622.41,520.27 L622.46,520.14 L622.52,520.64 L622.57,520.74 L622.63,520.62 L622.68,519.95 L622.73,519.77 L622.79,519.71 L622.84,520 L622.89,520.72 L622.95,520.1 L623,520.91 L623.05,521.04 L623.11,519.31 L623.16,520.52 L623.21,520.73 L623.27,520.18 L623.32,519.89 L623.37,519.23 L623.43,519.73 L623.48,520.36 L623.53,519.07 L623.58,520.84 L623.64,520.36 L623.69,520.97 L623.74,519.28 L623.79,519.37 L623.85,520.62 L623.9,519.92 L623.95,519.15 L624,521.17 L624.05,520.41 L624.11,519.97 L624.16,520.37 L624.21,520.69 L624.26,519.93 L624.31,520.6 L624.36,520.44 L624.42,520.12 L624.47,520.32 L624.52,519.44 L624.57,519.98 L624.62,518.85 L624.67,520.85 L624.72,519.71 L624.77,520.31 L624.82,520.29 L624.88,519.73 L624.93,519.22 L624.98,519.26 L625.03,520.68 L625.08,520.45 L625.13,520.45 L625.18,519.56 L625.23,520.81 L625.28,520.21 L625.33,520.76 L625.38,520.24 L625.43,519.45 L625.48,520 L625.53,519.91 L625.58,519.73 L625.63,519.13 L625.68,519.44 L625.73,518.97 L625.78,520.94 L625.83,520.7 L625.88,520.34 L625.93,519.56 L625.98,519.89 L626.03,520.69 L626.08,519.11 L626.13,520.38 L626.18,519.93 L626.23,521.05 L626.28,519.42 L626.32,519.95 L626.37,519.24 L626.42,520.02 L626.47,519.86 L626.52,519.27 L626.57,519.44 L626.62,519.39 L626.67,520.51 L626.72,518.87 L626.76,519.88 L626.81,520.39 L626.86,519.11 L626.91,520.56 L626.96,519.52 L627.01,519.91 L627.05,520.26 L627.1,520.78 L627.15,520.13 L627.2,520.41 L627.25,520.89 L627.29,520.1 L627.34,520.47 L627.39,519.87 L627.44,520.06 L627.49,519.67 L627.53,519.67 L627.58,520.83 L627.63,520.1 L627.68,520.66 L627.72,520.42 L627.77,520.68 L627.82,520.45 L627.86,520.95 L627.91,520.77 L627.96,519.47 L628.01,520.72 L628.05,520.72 L628.1,519.63 L628.15,519.57 L628.19,519.21 L628.24,520.64 L628.29,520.52 L628.33,520.39 L628.38,521.02 L628.43,519.77 L628.47,520.99 L628.52,519.82 L628.57,520.45 L628.61,520.93 L628.66,520.36 L628.71,519.62 L628.75,520.22 L628.8,519.82 L628.85,519.83 L628.89,519.36 L628.94,520.13 L628.98,519.75 L629.03,519.69 L629.07,519.64 L629.12,519.72 L629.17,520.67 L629.21,519.91 L629.26,520.65 L629.3,521.01 L629.35,520.07 L629.39,520.99 L629.44,519.79 L629.49,521.04 L629.53,520.12 L629.58,520.75 L629.62,519.64 L629.67,519.3 L629.71,519.93 L629.76,521 L629.8,520.67 L629.85,520.1 L629.89,520.76 L629.94,519.44 L629.98,519.25 L630.03,520.45 L630.07,520.58 L630.12,519.36 L630.16,519.02 L630.21,520.38 L630.25,519.41 L630.29,520.11 L630.34,520.23 L630.38,520.75 L630.43,520.33 L630.47,519.89 L630.52,520.01 L630.56,520.9 L630.6,520.79 L630.65,519.32 L630.69,519.76 L630.74,520.63 L630.78,519.21 L630.82,519.79 L630.87,520.28 L630.91,519.16 L630.96,519.29 L631,520.51 L631.04,521.04 L631.09,520.91 L631.13,519.86 L631.17,520.7 L631.22,519.47 L631.26,519.85 L631.3,520.43 L631.35,520.2 L631.39,520.52 L631.43,518.91 L631.48,520.92 L631.52,519.43 L631.56,519.09 L631.61,520.84 L631.65,520.8 L631.69,520.71 L631.74,520.49 L631.78,520.68 L631.82,519.4 L631.86,520.75 L631.91,520.36 L631.95,519.31 L631.99,519.27 L632.04,520.88 L632.08,520.97 L632.12,520.58 L632.16,519.71 L632.21,521.03 L632.25,519.84 L632.29,520.69 L632.33,520.35 L632.37,519.79 L632.42,519.92 L632.46,520.02 L632.5,520.25 L632.54,519.38 L632.59,519.82 L632.63,520.5 L632.67,520.83 L632.71,520.43 L632.75,520.74 L632.8,519.75 L632.84,520.44 L632.88,520.75 L632.92,519.46 L632.96,519.31 L633,520.71 L633.05,519.43 L633.09,520.6 L633.13,520.48 L633.17,519.57 L633.21,520.09 L633.25,519.91 L633.29,520.02 L633.33,520 L633.38,519.3 L633.42,521.06 L633.46,520.27 L633.5,519.69 L633.54,519.32 L633.58,519.87 L633.62,519.87 L633.66,519.63 L633.7,520.1 L633.75,520.59 L633.79,520.97 L633.83,519.99 L633.87,520.07 L633.91,521 L633.95,520.23 L633.99,520.08 L634.03,520.97 L634.07,519.72 L634.11,520.28 L634.15,519.75 L634.19,520.99 L634.23,520.41 L634.27,520.63 L634.31,519.54 L634.35,520.15 L634.39,520.6 L634.43,521.03 L634.47,520.99 L634.51,520.28 L634.55,520.6 L634.59,519.33 L634.63,520.54 L634.67,519.57 L634.71,520.88 L634.75,520.4 L634.79,520.94 L634.83,519.51 L634.87,519.99 L634.91,520.12 L634.95,519.88 L634.99,520.18 L635.03,520.02 L635.07,519.73 L635.11,520.56 L635.15,519.65 L635.19,518.91 L635.23,520.5 L635.27,520.62 L635.31,519.69 L635.35,520.79 L635.39,519.06 L635.43,520.73 L635.46,519.95 L635.5,520.51 L635.54,520.07 L635.58,519.89 L635.62,520.46 L635.66,520.92 L635.7,520.67 L635.74,520.8 L635.78,520.5 L635.82,519.77 L635.85,520.57 L635.89,519.25 L635.93,520.08 L635.97,519.92 L636.01,520.15 L636.05,520.01 L636.09,519.49 L636.12,519.38 L636.16,520.31 L636.2,519.73 L636.24,520.59 L636.28,518.94 L636.32,519.44 L636.35,519.72 L636.39,520.64 L636.43,520.23 L636.47,520.94 L636.51,520.84 L636.55,520.12 L636.58,520.24 L636.62,519.78 L636.66,519.96 L636.7,519.95 L636.74,520.37 L636.77,520.69 L636.81,520.25 L636.85,519.47 L636.89,519.63 L636.92,519.64 L636.96,521.05 L637,519.77 L637.04,519.3 L637.08,520.55 L637.11,520.96 L637.15,520.86 L637.19,520.82 L637.23,519.72 L637.26,519.21 L637.3,519.96 L637.34,519.15 L637.38,519.5 L637.41,518.97 L637.45,519.39 L637.49,519.9 L637.52,519.67 L637.56,520.32 L637.6,519.66 L637.64,520.78 L637.67,519.57 L637.71,520 L637.75,520.83 L637.78,519.59 L637.82,520.75 L637.86,519.36 L637.89,519.56 L637.93,520.52 L637.97,520.1 L638,519.67 L638.04,519.74 L638.08,520.54 L638.12,520.2 L638.15,520.37 L638.19,520.93 L638.22,520.68 L638.26,520.17 L638.3,518.96 L638.33,520.92 L638.37,519.6 L638.41,519.67 L638.44,520.42 L638.48,520.51 L638.52,520.11 L638.55,519.74 L638.59,520.43 L638.62,520.48 L638.66,519.95 L638.7,520.55 L638.73,519.35 L638.77,519.43 L638.81,519.65 L638.84,520.68 L638.88,519.57 L638.91,519.1 L638.95,519.84 L638.99,520.04 L639.02,519.52 L639.06,520.78 L639.09,520.66 L639.13,521.07 L639.16,520.22 L639.2,520.49 L639.24,520.58 L639.27,520.1 L639.31,519.59 L639.34,519.33 L639.38,519.21 L639.41,520.64 L639.45,521.05 L639.48,519.69 L639.52,520.41 L639.56,519.91 L639.59,520.74 L639.63,519.47 L639.66,520.52 L639.7,520.71 L639.73,520.23 L639.77,520.37 L639.8,519.49 L639.84,520.24 L639.87,519.56 L639.91,519.92 L639.94,520.39 L639.98,520.55 L640.01,519.55 L640.05,519.83 L640.08,519.64 L640.12,520.88 L640.15,520.68 L640.19,521.02 L640.22,519.69 L640.26,520.71 L640.29,519.55 L640.33,519.41 L640.36,521.02 L640.4,519.8 L640.43,519.58 L640.46,520.42 L640.5,521.13 L640.53,519.85 L640.57,521.09 L640.6,520.59 L640.64,520.21 L640.67,519.24 L640.71,520.59 L640.74,520.5 L640.77,520.49 L640.81,520.2 L640.84,519.31 L640.88,520.52 L640.91,520.06 L640.95,520.58 L640.98,520.7 L641.01,519.81 L641.05,519.67 L641.08,520.6 L641.12,519.3 L641.15,519.08 L641.18,520 L641.22,519.58 L641.25,520.65 L641.29,520.96 L641.32,521.06 L641.35,520.13 L641.39,521 L641.42,520.73 L641.45,520.19 L641.49,520.48 L641.52,520.95 L641.56,520.06 L641.59,520.36 L641.62,519.56 L641.66,520.99 L641.69,520.27 L641.72,519.81 L641.76,520.71 L641.79,520.13 L641.82,520.01 L641.86,520.77 L641.89,519.25 L641.92,520.39 L641.96,520.93 L641.99,520.88 L642.02,520.54 L642.06,519.88 L642.09,520.02 L642.12,519.97 L642.16,519 L642.19,520.57 L642.22,519.13 L642.26,520.15 L642.29,519.83 L642.32,520.85 L642.36,520.3 L642.39,520.25 L642.42,520.13 L642.45,519.99 L642.49,520.09 L642.52,520.88 L642.55,519.23 L642.59,521.11 L642.62,519.81 L642.65,519.44 L642.68,521.04 L642.72,520.87 L642.75,519.55 L642.78,520.51 L642.82,519.97 L642.85,521.13 L642.88,520.19 L642.91,519.61 L642.95,520.98 L642.98,520.21 L643.01,521.1 L643.04,520.74 L643.08,518.96 L643.11,519.87 L643.14,520.31 L643.17,520.39 L643.2,519.47 L643.24,520.46 L643.27,519.8 L643.3,520.83 L643.33,520.27 L643.37,520.29 L643.4,519.41 L643.43,520.25 L643.46,520.65 L643.49,519.84 L643.53,520.57 L643.56,520.05 L643.59,519.68 L643.62,520.7 L643.65,520.51 L643.69,520.19 L643.72,519.34 L643.75,520.4 L643.78,520.06 L643.81,520.31 L643.85,520.92 L643.88,520.03 L643.91,519.82 L643.94,519.26 L643.97,520.9 L644,519.5 L644.04,520.68 L644.07,520.91 L644.1,520.77 L644.13,519.72 L644.16,521.11 L644.19,520.18 L644.23,518.98 L644.26,519.98 L644.29,520.41 L644.32,520.59 L644.35,520.72 L644.38,520.52 L644.41,520.63 L644.45,519.09 L644.48,519.24 L644.51,520.3 L644.54,520.64 L644.57,520.47 L644.6,520.96 L644.63,520.95 L644.66,520.57 L644.7,520.94 L644.73,520.57 L644.76,519.63 L644.79,520.53 L644.82,520.88 L644.85,519.02 L644.88,520.06 L644.91,519.98 L644.94,520.9 L644.97,520.12 L645.01,520.37 L645.04,521.09 L645.07,520.4 L645.1,520.96 L645.13,520.53 L645.16,519.72 L645.19,520.37 L645.22,520.53 L645.25,519.82 L645.28,520.79 L645.31,519.85 L645.34,519.86 L645.37,519.95 L645.41,521 L645.44,521.06 L645.47,520.71 L645.5,520.47 L645.53,520.28 L645.56,519.94 L645.59,520.38 L645.62,520.41 L645.65,519.33 L645.68,518.96 L645.71,519.28 L645.74,520.85 L645.77,519.67 L645.8,520.95 L645.83,519.92 L645.86,519.47 L645.89,519.69 L645.92,520.28 L645.95,519.46 L645.98,520.95 L646.01,518.94 L646.04,519.86 L646.07,519.31 L646.1,519.61 L646.13,520.12 L646.16,521.08 L646.19,520.06 L646.22,520.17 L646.25,520.75 L646.28,520.28 L646.31,520.44 L646.34,520.22 L646.37,520.11 L646.4,520.72 L646.43,519.22 L646.46,520.16 L646.49,520.52 L646.52,519.53 L646.55,518.82 L646.58,520.43 L646.61,520.53 L646.64,519.9 L646.67,520.06 L646.7,520.29 L646.73,519.61 L646.76,520.14 L646.79,519.92 L646.82,519.8 L646.85,520.45 L646.88,520.95 L646.91,519.77 L646.94,520.67 L646.97,519.43 L647,521.12 L647.02,518.98 L647.05,519.91 L647.08,520.46 L647.11,520.66 L647.14,520.64 L647.17,521.07 L647.2,520.93 L647.23,519.14 L647.26,520.23 L647.29,519.77 L647.32,520.83 L647.35,519.58 L647.38,519.6 L647.41,519.23 L647.43,518.8 L647.46,519.58 L647.49,521 L647.52,520.7 L647.55,520.47 L647.58,520.78 L647.61,520.55 L647.64,520.32 L647.67,519.24 L647.7,519.05 L647.72,519.89 L647.75,520.69 L647.78,519.57 L647.81,520.02 L647.84,520.88 L647.87,519.8 L647.9,519.03 L647.93,519.81 L647.95,521.13 L647.98,520.66 L648.01,521.03 L648.04,519.87 L648.07,519.32 L648.1,520.81 L648.13,518.67 L648.16,518.82 L648.18,518.93 L648.21,519.53 L648.24,520.73 L648.27,520.31 L648.3,520.28 L648.33,519.46 L648.35,520.41 L648.38,520.51 L648.41,520.13 L648.44,519.63 L648.47,520.15 L648.5,520.28 L648.53,520.32 L648.55,519.81 L648.58,519.12 L648.61,519.41 L648.64,520.42 L648.67,521.06 L648.69,519.42 L648.72,520.38 L648.75,519.51 L648.78,520.35 L648.81,519.71 L648.84,520.55 L648.86,520.6 L648.89,519.79 L648.92,521.12 L648.95,519.52 L648.98,519.56 L649,519.77 L649.03,520.32 L649.06,519.41 L649.09,518.89 L649.12,520.43 L649.14,520.33 L649.17,520.97 L649.2,520.57 L649.23,520.72 L649.26,520.94 L649.28,520.12 L649.31,519.8 L649.34,520.92 L649.37,521.15 L649.39,520.44 L649.42,519.2 L649.45,519.63 L649.48,520.98 L649.5,518.91 L649.53,520.44 L649.56,520.35 L649.59,519.44 L649.62,521.11 L649.64,519.24 L649.67,520.04 L649.7,519.19 L649.73,519.68 L649.75,519.74 L649.78,520.28 L649.81,520.91 L649.84,519.77 L649.86,520.86 L649.89,519.41 L649.92,519.27 L649.94,520.17 L649.97,519.53 L650,519.23 L650.03,519.85 L650.05,520.25 L650.08,520.82 L650.11,519.3 L650.14,519.05 L650.16,520.29 L650.19,519.46 L650.22,518.99 L650.24,520.99 L650.27,520.77 L650.3,519.63 L650.33,519.23 L650.35,520.65 L650.38,520.98 L650.41,520.15 L650.43,520.62 L650.46,521.11 L650.49,520.53 L650.51,519.67 L650.54,520.53 L650.57,519.71 L650.6,520.02 L650.62,520.08 L650.65,519.5 L650.68,519.82 L650.7,519.68 L650.73,519.21 L650.76,520.83 L650.78,519.36 L650.81,518.99 L650.84,520.75 L650.86,520.17 L650.89,519.15 L650.92,520.21 L650.94,519.09 L650.97,520.46 L651,520.07 L651.02,519.37 L651.05,519.31 L651.08,519.79 L651.1,520.13 L651.13,520.01 L651.16,519.4 L651.18,520.41 L651.21,518.78 L651.24,519.12 L651.26,519.02 L651.29,520.61 L651.32,520.76 L651.34,519.93 L651.37,518.63 L651.39,519.66 L651.42,519.71 L651.45,520.74 L651.47,519.89 L651.5,520.49 L651.53,518.91 L651.55,518.71 L651.58,518.88 L651.61,520.7 L651.63,519.06 L651.66,520.58 L651.68,520.9 L651.71,520.19 L651.74,518.7 L651.76,519.14 L651.79,519.54 L651.81,520.57 L651.84,518.93 L651.87,519.45 L651.89,520.2 L651.92,519.69 L651.95,518.91 L651.97,519.48 L652,518.5 L652.02,520.11 L652.05,520.17 L652.07,520.21 L652.1,518.38 L652.13,519.3 L652.15,520.47 L652.18,519.43 L652.2,518.9 L652.23,518.85 L652.26,519.9 L652.28,521.12 L652.31,518.9 L652.33,520.65 L652.36,518.85 L652.39,520.17 L652.41,519.95 L652.44,519.7 L652.46,518.85 L652.49,520.37 L652.51,520.32 L652.54,520.12 L652.56,520.45 L652.59,519.18 L652.62,520.02 L652.64,519.38 L652.67,519.92 L652.69,521.03 L652.72,520.36 L652.74,520.21 L652.77,519.23 L652.79,518.63 L652.82,519.16 L652.85,518.56 L652.87,519.46 L652.9,521.03 L652.92,520.23 L652.95,518.13 L652.97,520.59 L653,520.53 L653.02,520.88 L653.05,520.49 L653.07,519.38 L653.1,520.04 L653.12,520.31 L653.15,519.92 L653.18,520.4 L653.2,520.69 L653.23,519.17 L653.25,520.8 L653.28,519.24 L653.3,518.93 L653.33,520.37 L653.35,518.72 L653.38,520.55 L653.4,519.07 L653.43,518.42 L653.45,519.5 L653.48,518.43 L653.5,519.93 L653.53,520.86 L653.55,519.5 L653.58,518.39 L653.6,519.39 L653.63,519.86 L653.65,520.38 L653.68,520.42 L653.7,520.83 L653.73,519.53 L653.75,520.95 L653.78,520.97 L653.8,520.31 L653.83,519.75 L653.85,519.31 L653.88,520.48 L653.9,520.48 L653.93,518.66 L653.95,519.21 L653.98,520.51 L654,520.63 L654.02,520.62 L654.05,519.52 L654.07,519.56 L654.1,519.99 L654.12,518.79 L654.15,518.46 L654.17,520.76 L654.2,520.98 L654.22,520.39 L654.25,519.78 L654.27,519.77 L654.3,520.14 L654.32,520.85 L654.34,519.86 L654.37,520.78 L654.39,520.66 L654.42,520.89 L654.44,519.74 L654.47,520.01 L654.49,519.08 L654.52,520.38 L654.54,520.23 L654.56,519.01 L654.59,520.06 L654.61,519.21 L654.64,519.7 L654.66,520.43 L654.69,518.37 L654.71,519.9 L654.74,520.91 L654.76,519.76 L654.78,518.14 L654.81,519.08 L654.83,520.56 L654.86,518.27 L654.88,520 L654.9,521.17 L654.93,518.93 L654.95,520.87 L654.98,519.58 L655,520 L655.03,520.96 L655.05,520.26 L655.07,518.56 L655.1,519.99 L655.12,519.67 L655.15,519.5 L655.17,519.15 L655.19,520.15 L655.22,518.83 L655.24,520.22 L655.27,520.2 L655.29,518.59 L655.31,520.13 L655.34,518.8 L655.36,518.12 L655.39,519.6 L655.41,519.47 L655.43,520.53 L655.46,503.08 L655.48,519.86 L655.5,519.9 L655.53,519.66 L655.55,518.29 L655.58,520.1 L655.6,520.15 L655.62,520.31 L655.65,519.54 L655.67,519.71 L655.7,520.56 L655.72,519.45 L655.74,519.16 L655.77,519.52 L655.79,520.25 L655.81,520.13 L655.84,519.92 L655.86,520.43 L655.88,520.43 L655.91,518.42 L655.93,520.59 L655.96,519.74 L655.98,519.72 L656,518.87 L656.03,520.42 L656.05,520.03 L656.07,519.11 L656.1,519.68 L656.12,519.15 L656.14,520.19 L656.17,518.92 L656.19,518.94 L656.21,520.37 L656.24,520.37 L656.26,521.11 L656.28,518.46 L656.31,520.07 L656.33,519.8 L656.35,521.16 L656.38,519.49 L656.4,519.9 L656.42,520.37 L656.45,519.5 L656.47,519.77 L656.49,519.3 L656.52,520.02 L656.54,517.88 L656.56,520.47 L656.59,518.58 L656.61,520.04 L656.63,518.7 L656.66,519.12 L656.68,519.91" fill="none" stroke="#3a3a3a" stroke-width="0.9" stroke-linejoin="round"/>
<path d="M355.19,495.1 L383.19,509.6 L399.56,497.57 L411.18,503.22 L420.2,516.42 L427.56,518.3 L433.79,512.5 L439.18,514.68 L443.94,515.4 L448.19,516.85 L452.04,498 L455.56,511.92 L458.79,516.85 L461.78,510.77 L464.57,512.5 L467.18,509.28 L469.62,505.25 L471.93,514.68 L474.12,506.51 L476.19,500.9 L478.16,508.43 L480.04,512.79 L481.83,509.84 L483.55,506.7 L485.2,510.02 L486.78,514.24 L488.31,507.59 L489.78,499.45 L491.2,504.67 L492.56,513.67 L493.89,520.48 L495.17,513 L496.41,505.25 L497.62,510.25 L498.79,516.85 L499.93,498.1 L501.03,487.85 L502.11,499.25 L503.16,506.7 L504.18,512.59 L505.18,519.75 L506.15,500.52 L507.1,463.93 L508.03,479.63 L508.94,511.05 L509.83,510.05 L510.7,508.41 L511.55,506.7 L512.38,508.85 L513.2,511.09 L514,513.29 L514.78,514.68 L515.55,494.22 L516.3,517.41 L517.05,505.74 L517.77,504.79 L518.49,499.85 L519.19,499.77 L519.88,493.19 L520.56,512.1 L521.23,509.07 L521.88,495.99 L522.53,490.08 L523.17,503.96 L523.79,511.67 L524.41,504.28 L525.02,500.35 L525.62,502.34 L526.21,490.75 L526.79,508.76 L527.36,497.8 L527.92,505.25 L528.48,484.95 L529.03,502.58 L529.57,509.57 L530.11,499.53 L530.64,494.43 L531.16,502.64 L531.67,507.05 L532.18,503.45 L532.68,493.8 L533.18,514.83 L533.67,500.85 L534.15,494.75 L534.63,494.5 L535.1,492.29 L535.57,501.24 L536.03,497.8 L536.49,520.91 L536.94,505.8 L537.38,507.16 L537.82,499.06 L538.26,496.95 L538.69,517.45 L539.12,501.39 L539.54,507.41 L539.96,496.25 L540.38,513.8 L540.79,502.35 L541.19,508.08 L541.59,495.65 L541.99,520.96 L542.39,506.83 L542.78,500.13 L543.16,504.5 L543.55,518.43 L543.92,509.06 L544.3,495 L544.67,491.47 L545.04,518.89 L545.41,497.14 L545.77,499.64 L546.13,495.84 L546.48,516.65 L546.84,494.59 L547.19,500.84 L547.53,507.66 L547.88,504.98 L548.22,499.44 L548.56,519.1 L548.89,491.68 L549.22,492.93 L549.55,499.93 L549.88,514.84 L550.2,517 L550.53,509.2 L550.85,510.56 L551.16,517.58 L551.48,506.23 L551.79,506.96 L552.1,505.19 L552.41,510.06 L552.71,502.72 L553.01,509.99 L553.31,504.23 L553.61,498.59 L553.91,501.96 L554.2,512.8 L554.49,512.09 L554.78,508.39 L555.07,501.87 L555.35,497.23 L555.64,509.92 L555.92,495.68 L556.2,513.37 L556.48,508.95 L556.75,494.63 L557.03,498.76 L557.3,495.93 L557.57,492.93 L557.84,507.28 L558.1,431.3 L558.37,498.44 L558.63,501.95 L558.89,512.92 L559.15,493.8 L559.41,480.6 L559.67,511.21 L559.92,502.43 L560.18,416.8 L560.43,513.29 L560.68,517.6 L560.93,503.5 L561.17,508.99 L561.42,494.35 L561.66,441.45 L561.9,509.66 L562.15,376.2 L562.39,500.16 L562.62,451.6 L562.86,514.02 L563.1,474.8 L563.33,498.58 L563.56,499.61 L563.79,503.58 L564.02,508.69 L564.25,495.1 L564.48,511.68 L564.71,496.84 L564.93,509.17 L565.16,518.61 L565.38,510.22 L565.6,510 L565.82,500.9 L566.04,505.23 L566.26,520.73 L566.47,507.35 L566.69,517.85 L566.9,508.18 L567.12,519.8 L567.33,507.5 L567.54,497.83 L567.75,494.07 L567.96,517.95 L568.17,505.9 L568.37,513.41 L568.58,502.88 L568.78,510.37 L568.99,499.51 L569.19,508.07 L569.39,500.32 L569.59,508.73 L569.79,502.45 L569.99,503.34 L570.19,509.32 L570.38,512.03 L570.58,501.83 L570.77,512.41 L570.97,511.13 L571.16,508.33 L571.35,507.76 L571.54,509.53 L571.73,515.56 L571.92,512.45 L572.11,512.37 L572.3,507.9 L572.48,508.02 L572.67,506.87 L572.85,514.54 L573.04,506.89 L573.22,510.25 L573.4,512.52 L573.58,515.26 L573.77,513 L573.95,511.17 L574.12,512.35 L574.3,514.78 L574.48,512.07 L574.66,510.75 L574.83,517.41 L575.01,508.35 L575.18,518.06 L575.36,511.91 L575.53,511.36 L575.7,513.54 L575.87,511.51 L576.04,511.03 L576.21,511.6 L576.38,511.16 L576.55,510.89 L576.72,509.62 L576.89,512.55 L577.05,518.51 L577.22,520.46 L577.38,514.21 L577.55,515.18 L577.71,511.24 L577.88,514.8 L578.04,514.17 L578.2,511.07 L578.36,518.04 L578.52,519.59 L578.68,515.82 L578.84,513.5 L579,518.27 L579.16,515.59 L579.32,515.55 L579.47,520.18 L579.63,517.86 L579.78,517.47 L579.94,513.94 L580.09,517.83 L580.25,512.23 L580.4,518.18 L580.55,517.9 L580.71,517.92 L580.86,513.15 L581.01,516.3 L581.16,518.12 L581.31,514.15 L581.46,517.45 L581.61,513.21 L581.76,517.85 L581.9,515.36 L582.05,513.43 L582.2,514.78 L582.34,519.26 L582.49,519.68 L582.63,514.87 L582.78,513.98 L582.92,520.74 L583.07,518.37 L583.21,517.85 L583.35,515.48 L583.49,519.09 L583.63,515.6 L583.78,518.04 L583.92,513.94 L584.06,514.39 L584.2,515.05 L584.33,516.64 L584.47,516.98 L584.61,516.95 L584.75,516.34 L584.89,513.8 L585.02,515.53 L585.16,517.42 L585.29,519.99 L585.43,516.75 L585.56,515.58 L585.7,514.76 L585.83,513.51 L585.97,519.73 L586.1,515.41 L586.23,520.51 L586.36,519.37 L586.5,515.83 L586.63,516.73 L586.76,516.46 L586.89,520.08 L587.02,517.01 L587.15,513.48 L587.28,515.86 L587.41,518.77 L587.54,514.91 L587.66,519.21 L587.79,515.84 L587.92,516.73 L588.04,517.92 L588.17,514.33 L588.3,517.84 L588.42,514.35 L588.55,516.04 L588.67,518.15 L588.8,517.54 L588.92,516.81 L589.05,516.32 L589.17,516.58 L589.29,515.83 L589.41,516.32 L589.54,519.59 L589.66,515.06 L589.78,519.65 L589.9,516.03 L590.02,519.13 L590.14,517.69 L590.26,518.35 L590.38,517.6 L590.5,519.13 L590.62,516.94 L590.74,519.21 L590.86,516.42 L590.97,516.24 L591.09,520.53 L591.21,516.38 L591.33,517.72 L591.44,515.85 L591.56,514.76 L591.67,518.3 L591.79,516.52 L591.91,520.66 L592.02,515.77 L592.14,519.56 L592.25,517.75 L592.36,515.13 L592.48,514.76 L592.59,519.68 L592.7,520.37 L592.82,518.02 L592.93,519.18 L593.04,518.14 L593.15,517.04 L593.26,515.51 L593.37,515.95 L593.49,519.81 L593.6,515.72 L593.71,518 L593.82,518.88 L593.93,517.05 L594.03,515.11 L594.14,514.86 L594.25,517.04 L594.36,516.1 L594.47,519.23 L594.58,519.2 L594.68,517.26 L594.79,517.02 L594.9,516.9 L595.01,516.19 L595.11,517.08 L595.22,516.81 L595.32,520.59 L595.43,520.44 L595.53,516.3 L595.64,516.73 L595.74,518.33 L595.85,518.97 L595.95,517.55 L596.06,515.1 L596.16,514.89 L596.26,518.69 L596.37,519.49 L596.47,517.8 L596.57,520.54 L596.68,517.38 L596.78,519.45 L596.88,517.3 L596.98,518.51 L597.08,518.64 L597.18,516.61 L597.28,518.53 L597.39,519.9 L597.49,515.04 L597.59,520.92 L597.69,518.88 L597.79,519.37 L597.88,518.08 L597.98,516.17 L598.08,515 L598.18,520.93 L598.28,519.52 L598.38,519.49 L598.48,518.44 L598.57,515.98 L598.67,520.76 L598.77,519.67 L598.86,520.46 L598.96,517.85 L599.06,516.1 L599.15,517.6 L599.25,518.12 L599.35,520.15 L599.44,518.32 L599.54,518.7 L599.63,515.88 L599.73,518.23 L599.82,519.23 L599.92,518.47 L600.01,518.02 L600.1,516.03 L600.2,517.66 L600.29,517.97 L600.39,517.27 L600.48,516.35 L600.57,516.6 L600.66,516.87 L600.76,520.52 L600.85,517.3 L600.94,516.99 L601.03,518.43 L601.12,519.26 L601.22,517.86 L601.31,519.93 L601.4,515.84 L601.49,519.25 L601.58,517.14 L601.67,515.74 L601.76,517.4 L601.85,519.7 L601.94,517.48 L602.03,518.36 L602.12,516.83 L602.21,519.82 L602.3,516.44 L602.39,516.58 L602.48,519.79 L602.56,519.86 L602.65,517.11 L602.74,519.68 L602.83,518.38 L602.92,517.84 L603,517.42 L603.09,516.99 L603.18,519.09 L603.27,516.18 L603.35,520.69 L603.44,520.69 L603.53,518.64 L603.61,517.14 L603.7,518.8 L603.78,516.43 L603.87,518.63 L603.95,518.25 L604.04,520.86 L604.12,519.82 L604.21,518.28 L604.29,520.26 L604.38,517.08 L604.46,519.51 L604.55,516.96 L604.63,519.42 L604.72,518.48 L604.8,517.76 L604.88,518.71 L604.97,518.25 L605.05,517.81 L605.13,517.67 L605.22,520.73 L605.3,520.36 L605.38,517.76 L605.46,516 L605.54,519.64 L605.63,517.13 L605.71,520.15 L605.79,520.67 L605.87,517.18 L605.95,517.84 L606.03,518.06 L606.12,519.07 L606.2,518.17 L606.28,517.54 L606.36,517.2 L606.44,518.08 L606.52,520.82 L606.6,520.37 L606.68,519.51 L606.76,519.1 L606.84,519.49 L606.92,519.6 L607,516.49 L607.08,517.22 L607.15,519.68 L607.23,518.14 L607.31,519.04 L607.39,519.23 L607.47,518.26 L607.55,517.17 L607.62,520.56 L607.7,517.26 L607.78,518.65 L607.86,518.77 L607.94,517.48 L608.01,518.49 L608.09,518.85 L608.17,517.17 L608.24,516.14 L608.32,519.3 L608.4,517.31 L608.47,519.4 L608.55,521.02 L608.63,518.6 L608.7,520.6 L608.78,519.74 L608.85,518.67 L608.93,516.36 L609,520.04 L609.08,517.82 L609.15,518.4 L609.23,516.72 L609.3,516.22 L609.38,517.29 L609.45,516.69 L609.53,520.19 L609.6,520.28 L609.68,519 L609.75,518.36 L609.82,519.61 L609.9,518.74 L609.97,520.42 L610.05,517.6 L610.12,519.04 L610.19,516.29 L610.27,517.85 L610.34,518.16 L610.41,518.84 L610.48,518.03 L610.56,517.01 L610.63,517.13 L610.7,520.18 L610.77,518.52 L610.85,519.31 L610.92,517.49 L610.99,519.1 L611.06,517.07 L611.13,516.44 L611.2,519.02 L611.28,519.21 L611.35,520.38 L611.42,518.19 L611.49,519.36 L611.56,518.51 L611.63,517.39 L611.7,520.09 L611.77,516.05 L611.84,518.83 L611.91,517.63 L611.98,520.24 L612.05,517.15 L612.12,520.74 L612.19,518.6 L612.26,519.94 L612.33,519.01 L612.4,518.03 L612.47,520.86 L612.54,518.07 L612.61,516.64 L612.68,520.09 L612.74,518.13 L612.81,517.02 L612.88,520.53 L612.95,517.45 L613.02,518.76 L613.09,516.37 L613.15,517.61 L613.22,518.25 L613.29,517.96 L613.36,516.33 L613.43,520.27 L613.49,517.78 L613.56,518.23 L613.63,520.41 L613.69,517.77 L613.76,518.52 L613.83,518.46 L613.9,518.77 L613.96,518.11 L614.03,519.59 L614.1,519.65 L614.16,517.34 L614.23,516.29 L614.29,518.09 L614.36,520.21 L614.43,517.73 L614.49,518.51 L614.56,517.69 L614.62,519.44 L614.69,517.76 L614.75,519.81 L614.82,517.96 L614.88,518.7 L614.95,518.91 L615.01,517.54 L615.08,517.33 L615.14,517.8 L615.21,518.32 L615.27,519.61 L615.34,520.81 L615.4,518.49 L615.47,519.09 L615.53,520.92 L615.59,519.39 L615.66,516.73 L615.72,518.68 L615.79,519.36 L615.85,520.63 L615.91,517.82 L615.98,521.02 L616.04,519.8 L616.1,518.53 L616.17,519.09 L616.23,519.36 L616.29,519.63 L616.36,518.06 L616.42,517.52 L616.48,519.45 L616.54,516.86 L616.61,516.92 L616.67,518.12 L616.73,518.16 L616.79,520.36 L616.86,519.65 L616.92,519.16 L616.98,517.26 L617.04,520.01 L617.1,519.81 L617.16,519.28 L617.23,519.8 L617.29,517.01 L617.35,517.32 L617.41,519.75 L617.47,519.72 L617.53,517.38 L617.59,518.77 L617.65,518.74 L617.71,516.73 L617.78,519.63 L617.84,520.29 L617.9,518.13 L617.96,517.97 L618.02,518.54 L618.08,517.79 L618.14,520.02 L618.2,520.8 L618.26,517.42 L618.32,517.91 L618.38,520.38 L618.44,518.68 L618.5,517.6 L618.56,518.14 L618.62,520.93 L618.67,520.77 L618.73,518.5 L618.79,520.66 L618.85,517.91 L618.91,517.62 L618.97,519.56 L619.03,518.62 L619.09,519.92 L619.15,519.57 L619.21,518.99 L619.26,516.92 L619.32,519.43 L619.38,518.92 L619.44,520.87 L619.5,519.58 L619.55,519.13 L619.61,520.54 L619.67,520.06 L619.73,517.42 L619.79,520.05 L619.84,517.89 L619.9,519.22 L619.96,517.24 L620.02,517.62 L620.07,520.75 L620.13,519.73 L620.19,517.12 L620.25,518.69 L620.3,520.23 L620.36,516.86 L620.42,519.6 L620.47,518.54 L620.53,517.79 L620.59,517.69 L620.64,519.13 L620.7,518.34 L620.76,517.39 L620.81,519.93 L620.87,518.21 L620.92,519.87 L620.98,518.76 L621.04,517.29 L621.09,518.33 L621.15,518.68 L621.2,519.96 L621.26,520.22 L621.31,518.46 L621.37,518.12 L621.43,517.2 L621.48,519.27 L621.54,519.12 L621.59,520.3 L621.65,518.41 L621.7,518.06 L621.76,518.36 L621.81,517.79 L621.87,520.16 L621.92,518.93 L621.98,518.2 L622.03,518.97 L622.09,517.68 L622.14,518.23 L622.19,518.15 L622.25,516.81 L622.3,520.08 L622.36,518.8 L622.41,518.53 L622.46,518.75 L622.52,517.3 L622.57,518.71 L622.63,519.23 L622.68,518.75 L622.73,519.55 L622.79,518.39 L622.84,517.44 L622.89,518.87 L622.95,519.85 L623,518.14 L623.05,520.31 L623.11,519.81 L623.16,517.81 L623.21,520.41 L623.27,519.43 L623.32,520.86 L623.37,520.51 L623.43,519.31 L623.48,517.88 L623.53,519.94 L623.58,517.91 L623.64,517.87 L623.69,520.79 L623.74,517.86 L623.79,518.77 L623.85,518.76 L623.9,520.76 L623.95,517.65 L624,519.74 L624.05,520.38 L624.11,520.95 L624.16,517.08 L624.21,520.4 L624.26,518.08 L624.31,517.65 L624.36,519.59 L624.42,520.68 L624.47,517.58 L624.52,517.69 L624.57,519.77 L624.62,518.96 L624.67,518.24 L624.72,518.77 L624.77,516.83 L624.82,517.55 L624.88,520.68 L624.93,518.6 L624.98,516.96 L625.03,518.96 L625.08,520.34 L625.13,519.58 L625.18,518.86 L625.23,518.81 L625.28,520.7 L625.33,518.04 L625.38,520.78 L625.43,518.89 L625.48,520.99 L625.53,518.32 L625.58,520.05 L625.63,519.67 L625.68,519.31 L625.73,520.18 L625.78,520.02 L625.83,518.99 L625.88,520.29 L625.93,520.54 L625.98,519.6 L626.03,518.74 L626.08,518.59 L626.13,520.7 L626.18,517.34 L626.23,518.29 L626.28,518.81 L626.32,519.84 L626.37,520.94 L626.42,518.54 L626.47,519.85 L626.52,519.5 L626.57,520.53 L626.62,520.98 L626.67,520.07 L626.72,519.6 L626.76,518.34 L626.81,519.96 L626.86,519.22 L626.91,518.79 L626.96,520.93 L627.01,518.12 L627.05,520.14 L627.1,520.09 L627.15,518.64 L627.2,518.66 L627.25,518.07 L627.29,518.18 L627.34,519.39 L627.39,519.92 L627.44,518.36 L627.49,520.71 L627.53,517.82 L627.58,519.2 L627.63,519.35 L627.68,519.97 L627.72,518.77 L627.77,520.32 L627.82,519.21 L627.86,519.37 L627.91,518.41 L627.96,520.13 L628.01,519.19 L628.05,519.22 L628.1,518.62 L628.15,519.65 L628.19,518.69 L628.24,518.79 L628.29,520.22 L628.33,517.75 L628.38,519.55 L628.43,519.34 L628.47,517.83 L628.52,517.42 L628.57,520.37 L628.61,519.12 L628.66,518.35 L628.71,518.66 L628.75,519.64 L628.8,519.51 L628.85,519.05 L628.89,517.42 L628.94,519.69 L628.98,518.2 L629.03,520.23 L629.07,517.49 L629.12,520 L629.17,519.13 L629.21,518.65 L629.26,520.16 L629.3,518.01 L629.35,518.62 L629.39,519.33 L629.44,519.47 L629.49,520.77 L629.53,518.12 L629.58,518.95 L629.62,518.25 L629.67,517.63 L629.71,518.46 L629.76,517.98 L629.8,518.55 L629.85,518.24 L629.89,518.5 L629.94,519.41 L629.98,520.82 L630.03,517.44 L630.07,518.28 L630.12,519.48 L630.16,517.12 L630.21,517.03 L630.25,518.92 L630.29,518.83 L630.34,519.43 L630.38,518.61 L630.43,518.45 L630.47,519.64 L630.52,518.92 L630.56,518.39 L630.6,519.54 L630.65,517.35 L630.69,520.26 L630.74,520.73 L630.78,517.87 L630.82,517.59 L630.87,520.32 L630.91,518.7 L630.96,517.68 L631,517.86 L631.04,518.68 L631.09,517.44 L631.13,517.46 L631.17,517.04 L631.22,518.49 L631.26,519.69 L631.3,518.03 L631.35,518.36 L631.39,518.54 L631.43,519.72 L631.48,519.52 L631.52,519.32 L631.56,519.17 L631.61,518.43 L631.65,517.95 L631.69,520.52 L631.74,520.77 L631.78,519.69 L631.82,518.96 L631.86,518.7 L631.91,519.42 L631.95,518.45 L631.99,517.61 L632.04,518.37 L632.08,519.48 L632.12,518.87 L632.16,520.72 L632.21,519.52 L632.25,517.45 L632.29,521.05 L632.33,518.9 L632.37,518.35 L632.42,518.05 L632.46,518.59 L632.5,519.7 L632.54,518.22 L632.59,519.78 L632.63,519.93 L632.67,519.12 L632.71,520.23 L632.75,519.98 L632.8,517.98 L632.84,519.58 L632.88,520.21 L632.92,519.34 L632.96,518.15 L633,520.36 L633.05,519.8 L633.09,519.07 L633.13,518.4 L633.17,519.29 L633.21,519.96 L633.25,518.45 L633.29,519.18 L633.33,519.51 L633.38,517.86 L633.42,519.39 L633.46,517.14 L633.5,519.52 L633.54,519.97 L633.58,518.89 L633.62,519.58 L633.66,521.11 L633.7,517.67 L633.75,518.37 L633.79,519.64 L633.83,520.71 L633.87,520.21 L633.91,518.95 L633.95,520.79 L633.99,520.19 L634.03,518.3 L634.07,518.57 L634.11,519.48 L634.15,519.37 L634.19,518.39 L634.23,519.2 L634.27,519.87 L634.31,517.75 L634.35,517.35 L634.39,520.97 L634.43,517.18 L634.47,518.75 L634.51,517.42 L634.55,517.54 L634.59,517.39 L634.63,519.93 L634.67,520.57 L634.71,520.07 L634.75,517.98 L634.79,517.35 L634.83,518.45 L634.87,518.1 L634.91,516.99 L634.95,517.8 L634.99,519.87 L635.03,519.53 L635.07,517.85 L635.11,518.92 L635.15,518.15 L635.19,519.91 L635.23,517.01 L635.27,518.62 L635.31,520.1 L635.35,518.04 L635.39,518.79 L635.43,521.04 L635.46,520.86 L635.5,520.21 L635.54,517.57 L635.58,518.42 L635.62,520.66 L635.66,520.19 L635.7,520.07 L635.74,519.12 L635.78,519.65 L635.82,518.31 L635.85,520.48 L635.89,520.89 L635.93,520.58 L635.97,519.5 L636.01,519.78 L636.05,519.82 L636.09,519.02 L636.12,517.97 L636.16,518.46 L636.2,519.66 L636.24,518.49 L636.28,519.95 L636.32,520.72 L636.35,519.46 L636.39,520.22 L636.43,521.11 L636.47,518.76 L636.51,519.55 L636.55,517.02 L636.58,518.78 L636.62,519.09 L636.66,517.89 L636.7,517.78 L636.74,520.13 L636.77,519.53 L636.81,520.77 L636.85,518.88 L636.89,519.97 L636.92,521.04 L636.96,518.9 L637,519.38 L637.04,518.69 L637.08,519.22 L637.11,518.22 L637.15,518.04 L637.19,519.77 L637.23,519.35 L637.26,520.26 L637.3,518.48 L637.34,518.06 L637.38,519.18 L637.41,519.99 L637.45,517.48 L637.49,519.44 L637.52,519.95 L637.56,519.4 L637.6,518.52 L637.64,519.78 L637.67,519.32 L637.71,517.4 L637.75,520.22 L637.78,520.27 L637.82,520.84 L637.86,518.35 L637.89,519.61 L637.93,519.98 L637.97,518.01 L638,518.37 L638.04,517.73 L638.08,518.26 L638.12,520.62 L638.15,518.24 L638.19,519.58 L638.22,518.63 L638.26,518.27 L638.3,517.57 L638.33,519.24 L638.37,519.25 L638.41,519.03 L638.44,518.84 L638.48,518.97 L638.52,519.51 L638.55,518.62 L638.59,519.35 L638.62,517.63 L638.66,517.82 L638.7,518.23 L638.73,519.12 L638.77,518.2 L638.81,518.7 L638.84,520.8 L638.88,517.42 L638.91,518.09 L638.95,519.36 L638.99,517.45 L639.02,519.18 L639.06,518.65 L639.09,517.84 L639.13,518.91 L639.16,517.12 L639.2,517.3 L639.24,518.64 L639.27,519.04 L639.31,520.64 L639.34,519.37 L639.38,518.46 L639.41,517.46 L639.45,517.86 L639.48,518.34 L639.52,519.57 L639.56,518.84 L639.59,520.56 L639.63,520.83 L639.66,519.43 L639.7,518.73 L639.73,520.21 L639.77,517.98 L639.8,519.2 L639.84,520.76 L639.87,519.37 L639.91,519.1 L639.94,517.4 L639.98,517.42 L640.01,518.4 L640.05,517.8 L640.08,519.39 L640.12,518.28 L640.15,518.55 L640.19,519.11 L640.22,519.25 L640.26,519.51 L640.29,518.84 L640.33,517.04 L640.36,519.97 L640.4,520.4 L640.43,518.58 L640.46,517.97 L640.5,520.33 L640.53,519.1 L640.57,518.93 L640.6,518.22 L640.64,519.61 L640.67,518.7 L640.71,519.92 L640.74,518.68 L640.77,519.65 L640.81,518.43 L640.84,517.82 L640.88,519.29 L640.91,518.18 L640.95,520.61 L640.98,520.19 L641.01,517.64 L641.05,519.98 L641.08,519.24 L641.12,519.03 L641.15,518.25 L641.18,518.71 L641.22,519.15 L641.25,517.95 L641.29,519.31 L641.32,518.39 L641.35,519.6 L641.39,518.15 L641.42,518.09 L641.45,519.13 L641.49,518.78 L641.52,519.62 L641.56,521 L641.59,520.09 L641.62,520.03 L641.66,517.2 L641.69,519.69 L641.72,518.88 L641.76,519.54 L641.79,520.04 L641.82,520.62 L641.86,519.78 L641.89,518.88 L641.92,519.13 L641.96,520.08 L641.99,519.06 L642.02,519.41 L642.06,517.82 L642.09,519.67 L642.12,519.37 L642.16,519.57 L642.19,518.16 L642.22,518.23 L642.26,518.68 L642.29,519.13 L642.32,519.39 L642.36,517.91 L642.39,518.76 L642.42,517.29 L642.45,517.77 L642.49,518.66 L642.52,518.94 L642.55,518.21 L642.59,517.72 L642.62,518.92 L642.65,518.87 L642.68,518.67 L642.72,518.27 L642.75,518.82 L642.78,519.94 L642.82,520.44 L642.85,519.22 L642.88,516.9 L642.91,519.83 L642.95,521.18 L642.98,520.25 L643.01,520.23 L643.04,519.71 L643.08,520.42 L643.11,520.42 L643.14,518.52 L643.17,519.28 L643.2,519.8 L643.24,517.73 L643.27,517.16 L643.3,517.9 L643.33,519.45 L643.37,520.12 L643.4,517.51 L643.43,520.15 L643.46,517.62 L643.49,519.11 L643.53,520.12 L643.56,518.54 L643.59,517.86 L643.62,518.51 L643.65,520.12 L643.69,517.42 L643.72,519.72 L643.75,519.55 L643.78,518.05 L643.81,517.02 L643.85,519.24 L643.88,518.34 L643.91,518.26 L643.94,518.51 L643.97,520.7 L644,520.25 L644.04,519.18 L644.07,518.99 L644.1,520.38 L644.13,520.68 L644.16,520.56 L644.19,518.98 L644.23,519.13 L644.26,518.06 L644.29,520.42 L644.32,517.47 L644.35,519.7 L644.38,518.69 L644.41,518.5 L644.45,517.15 L644.48,519.21 L644.51,520.6 L644.54,517.08 L644.57,517.32 L644.6,517.21 L644.63,518.25 L644.66,518.5 L644.7,517.55 L644.73,520.4 L644.76,518.19 L644.79,518.6 L644.82,519.58 L644.85,519.2 L644.88,517.42 L644.91,517.82 L644.94,517.69 L644.97,518.98 L645.01,519.6 L645.04,518.64 L645.07,519.57 L645.1,519.71 L645.13,518.08 L645.16,519.67 L645.19,519.64 L645.22,517.54 L645.25,518.74 L645.28,520.43 L645.31,517.94 L645.34,518.02 L645.37,517.49 L645.41,519.41 L645.44,518.55 L645.47,519.1 L645.5,516.94 L645.53,519.25 L645.56,518.02 L645.59,519.51 L645.62,520.76 L645.65,517.19 L645.68,517.81 L645.71,518.98 L645.74,519.23 L645.77,518.19 L645.8,517.58 L645.83,520.36 L645.86,519.76 L645.89,518.65 L645.92,517.09 L645.95,518.93 L645.98,519.76 L646.01,520.47 L646.04,518.22 L646.07,520.03 L646.1,517.52 L646.13,517.18 L646.16,518.88 L646.19,519.42 L646.22,519.27 L646.25,518.58 L646.28,518.65 L646.31,518.2 L646.34,517.67 L646.37,518.36 L646.4,521.15 L646.43,520.66 L646.46,519.03 L646.49,518.07 L646.52,518.14 L646.55,518.99 L646.58,517.79 L646.61,519.3 L646.64,519.73 L646.67,520.03 L646.7,518.71 L646.73,519.35 L646.76,518.29 L646.79,519.96 L646.82,519.81 L646.85,518.12 L646.88,517.68 L646.91,518.66 L646.94,517.87 L646.97,518.26 L647,517.46 L647.02,517.2 L647.05,518.2 L647.08,517.19 L647.11,518.05 L647.14,519.18 L647.17,520.22 L647.2,518.22 L647.23,517.08 L647.26,519.4 L647.29,516.89 L647.32,520.72 L647.35,518.18 L647.38,517.74 L647.41,519.05 L647.43,520.03 L647.46,520.41 L647.49,517.98 L647.52,518.46 L647.55,518.29 L647.58,517.47 L647.61,516.83 L647.64,520.69 L647.67,516.8 L647.7,520.31 L647.72,519.43 L647.75,519.28 L647.78,516.51 L647.81,518.42 L647.84,520.6 L647.87,519.65 L647.9,518.59 L647.93,521.05 L647.95,517.83 L647.98,517.5 L648.01,518.73 L648.04,519.43 L648.07,517.71 L648.1,520.5 L648.13,518.55 L648.16,518.15 L648.18,519.91 L648.21,518.1 L648.24,519.07 L648.27,518.98 L648.3,518.07 L648.33,518.53 L648.35,518.09 L648.38,517.32 L648.41,518.88 L648.44,520.25 L648.47,519.22 L648.5,518.55 L648.53,517.21 L648.55,518 L648.58,519.55 L648.61,519.11 L648.64,517.91 L648.67,521.11 L648.69,518.82 L648.72,518.91 L648.75,517.54 L648.78,518.49 L648.81,520.79 L648.84,518.34 L648.86,519.85 L648.89,520.05 L648.92,519.22 L648.95,520.49 L648.98,518.03 L649,518.77 L649.03,518.01 L649.06,517.89 L649.09,518.21 L649.12,519.54 L649.14,518.33 L649.17,517.99 L649.2,516.89 L649.23,520.61 L649.26,517.45 L649.28,519.53 L649.31,519 L649.34,516.48 L649.37,520.48 L649.39,517.36 L649.42,519 L649.45,517.05 L649.48,518.13 L649.5,518.45 L649.53,520.56 L649.56,520.11 L649.59,519.48 L649.62,519.61 L649.64,517.48 L649.67,519.48 L649.7,518.46 L649.73,519.76 L649.75,517.81 L649.78,520 L649.81,519.15 L649.84,517.17 L649.86,518.79 L649.89,519.6 L649.92,520.16 L649.94,519.13 L649.97,517.87 L650,517.41 L650.03,519.43 L650.05,519.16 L650.08,520.82 L650.11,519.01 L650.14,520.82 L650.16,519.89 L650.19,520.45 L650.22,518.78 L650.24,517.16 L650.27,519.74 L650.3,518.84 L650.33,520.25 L650.35,518.95 L650.38,517.08 L650.41,518.42 L650.43,520.96 L650.46,516.37 L650.49,519.92 L650.51,520.47 L650.54,518.63 L650.57,517.75 L650.6,518.73 L650.62,516.31 L650.65,517.01 L650.68,519.35 L650.7,519.14 L650.73,519.6 L650.76,516.84 L650.78,518.98 L650.81,518.21 L650.84,518.45 L650.86,519.02 L650.89,517.38 L650.92,521.07 L650.94,520.98 L650.97,517.8 L651,517.52 L651.02,519.68 L651.05,517.31 L651.08,520.88 L651.1,516.33 L651.13,518.6 L651.16,519.76 L651.18,520.97 L651.21,517.51 L651.24,516.96 L651.26,517.34 L651.29,519.2 L651.32,517.44 L651.34,517.22 L651.37,517.75 L651.39,518.87 L651.42,519.06 L651.45,518.8 L651.47,517.73 L651.5,517.39 L651.53,516.92 L651.55,519.96 L651.58,517.99 L651.61,518.82 L651.63,518.71 L651.66,517.14 L651.68,520.62 L651.71,517.1 L651.74,519.16 L651.76,520.88 L651.79,520.74 L651.81,516.28 L651.84,518.94 L651.87,520.28 L651.89,518.74 L651.92,516.73 L651.95,516.01 L651.97,516.36 L652,516.11 L652.02,517.81 L652.05,518.39 L652.07,516.96 L652.1,517.87 L652.13,517.3 L652.15,519.48 L652.18,518.75 L652.2,517.06 L652.23,518.02 L652.26,517.69 L652.28,518.64 L652.31,517.12 L652.33,517.42 L652.36,515.57 L652.39,518.3 L652.41,517.87 L652.44,517.89 L652.46,516.62 L652.49,517.72 L652.51,519.07 L652.54,519.33 L652.56,515.87 L652.59,519.66 L652.62,517.09 L652.64,519.44 L652.67,518.92 L652.69,520.24 L652.72,517.84 L652.74,516.81 L652.77,516.24 L652.79,520.89 L652.82,517.22 L652.85,516.89 L652.87,517.31 L652.9,520.2 L652.92,518.42 L652.95,517.97 L652.97,517.82 L653,518.9 L653.02,516.78 L653.05,516.52 L653.07,518.61 L653.1,517.23 L653.12,517.03 L653.15,519.59 L653.18,517.05 L653.2,517.26 L653.23,518.85 L653.25,516.76 L653.28,520.4 L653.3,516 L653.33,518.34 L653.35,519.54 L653.38,517.75 L653.4,516.94 L653.43,516.73 L653.45,519.25 L653.48,516.39 L653.5,520.88 L653.53,518.11 L653.55,517.76 L653.58,517.11 L653.6,518.91 L653.63,517.35 L653.65,517.73 L653.68,515.8 L653.7,519.47 L653.73,517.5 L653.75,516.08 L653.78,519 L653.8,519.54 L653.83,516.49 L653.85,516.69 L653.88,518.81 L653.9,517.95 L653.93,517.61 L653.95,519.87 L653.98,520.28 L654,519.49 L654.02,515.78 L654.05,518.34 L654.07,519.74 L654.1,519.08 L654.12,518.29 L654.15,515.67 L654.17,520.75 L654.2,519.63 L654.22,518.27 L654.25,519.71 L654.27,517.07 L654.3,519.12 L654.32,520.34 L654.34,516.05 L654.37,520.44 L654.39,516.9 L654.42,515.87 L654.44,517.47 L654.47,520.51 L654.49,517.58 L654.52,518.65 L654.54,520.98 L654.56,517.29 L654.59,516.12 L654.61,518.39 L654.64,520.29 L654.66,517.58 L654.69,518.57 L654.71,517.95 L654.74,516.77 L654.76,517.51 L654.78,518.86 L654.81,519.05 L654.83,519.75 L654.86,517.9 L654.88,518.47 L654.9,517.84 L654.93,517.12 L654.95,517.16 L654.98,520.43 L655,519 L655.03,521.02 L655.05,519.29 L655.07,515.46 L655.1,516.77 L655.12,516.09 L655.15,518.39 L655.17,518.39 L655.19,518.93 L655.22,516.7 L655.24,516.68 L655.27,516.38 L655.29,519.15 L655.31,520.32 L655.34,518.91 L655.36,516.45 L655.39,518.89 L655.41,519.6 L655.43,516.97 L655.46,516.27 L655.48,520.16 L655.5,519.44 L655.53,516.88 L655.55,518.79 L655.58,515.2 L655.6,517.58 L655.62,519.85 L655.65,517.41 L655.67,519.01 L655.7,517.61 L655.72,518.77 L655.74,516.75 L655.77,519.44 L655.79,519.03 L655.81,515.59 L655.84,519.4 L655.86,515.52 L655.88,515.64 L655.91,519.13 L655.93,519.06 L655.96,517.5 L655.98,516.52 L656,520.36 L656.03,519.31 L656.05,519.66 L656.07,517.51 L656.1,519.8 L656.12,517.78 L656.14,517.43 L656.17,516.37 L656.19,518.28 L656.21,515.88 L656.24,520.84 L656.26,518.75 L656.28,520.79 L656.31,518.09 L656.33,516.8 L656.35,518.82 L656.38,515.63 L656.4,520.26 L656.42,519.71 L656.45,519.94 L656.47,518.91 L656.49,519.98 L656.52,516.17 L656.54,517.69 L656.56,515.31 L656.59,519.4 L656.61,518.89 L656.63,519.16 L656.66,518 L656.68,519.97" fill="none" stroke="#ff1f1f" stroke-width="1.1" stroke-linejoin="round"/>
<rect x="349.9" y="376.2" width="305.6" height="145" fill="none" stroke="#262626" stroke-width="1"/>
<text x="346.8" y="524.8" font-size="10.3" text-anchor="end" fill="#262626" textLength="5.23" lengthAdjust="spacingAndGlyphs">0</text>
<text x="346.8" y="495.8" font-size="10.3" text-anchor="end" fill="#262626" textLength="13.07" lengthAdjust="spacingAndGlyphs">0.2</text>
<text x="346.8" y="466.8" font-size="10.3" text-anchor="end" fill="#262626" textLength="13.07" lengthAdjust="spacingAndGlyphs">0.4</text>
<text x="346.8" y="437.8" font-size="10.3" text-anchor="end" fill="#262626" textLength="13.07" lengthAdjust="spacingAndGlyphs">0.6</text>
<text x="346.8" y="408.8" font-size="10.3" text-anchor="end" fill="#262626" textLength="13.07" lengthAdjust="spacingAndGlyphs">0.8</text>
<text x="346.8" y="379.8" font-size="10.3" text-anchor="end" fill="#262626" textLength="5.23" lengthAdjust="spacingAndGlyphs">1</text>
<path d="M377.9,521.2 v-1.6 M377.9,376.2 v1.6 M394.27,521.2 v-1.6 M394.27,376.2 v1.6 M405.89,521.2 v-1.6 M405.89,376.2 v1.6 M414.9,521.2 v-1.6 M414.9,376.2 v1.6 M422.27,521.2 v-1.6 M422.27,376.2 v1.6 M428.49,521.2 v-1.6 M428.49,376.2 v1.6 M433.89,521.2 v-1.6 M433.89,376.2 v1.6 M438.64,521.2 v-1.6 M438.64,376.2 v1.6 M442.9,521.2 v-3 M442.9,376.2 v3 M470.9,521.2 v-1.6 M470.9,376.2 v1.6 M487.27,521.2 v-1.6 M487.27,376.2 v1.6 M498.89,521.2 v-1.6 M498.89,376.2 v1.6 M507.9,521.2 v-1.6 M507.9,376.2 v1.6 M515.27,521.2 v-1.6 M515.27,376.2 v1.6 M521.49,521.2 v-1.6 M521.49,376.2 v1.6 M526.89,521.2 v-1.6 M526.89,376.2 v1.6 M531.64,521.2 v-1.6 M531.64,376.2 v1.6 M535.9,521.2 v-3 M535.9,376.2 v3 M563.9,521.2 v-1.6 M563.9,376.2 v1.6 M580.27,521.2 v-1.6 M580.27,376.2 v1.6 M591.89,521.2 v-1.6 M591.89,376.2 v1.6 M600.9,521.2 v-1.6 M600.9,376.2 v1.6 M608.27,521.2 v-1.6 M608.27,376.2 v1.6 M614.49,521.2 v-1.6 M614.49,376.2 v1.6 M619.89,521.2 v-1.6 M619.89,376.2 v1.6 M624.64,521.2 v-1.6 M624.64,376.2 v1.6 M628.9,521.2 v-3 M628.9,376.2 v3 M349.9,521.2 h2.8 M655.5,521.2 h-2.8 M349.9,492.2 h2.8 M655.5,492.2 h-2.8 M349.9,463.2 h2.8 M655.5,463.2 h-2.8 M349.9,434.2 h2.8 M655.5,434.2 h-2.8 M349.9,405.2 h2.8 M655.5,405.2 h-2.8 M349.9,376.2 h2.8 M655.5,376.2 h-2.8" stroke="#262626" stroke-width="1" fill="none"/>
<text x="442.4" y="533.3" font-size="10" fill="#262626" text-anchor="middle">10<tspan font-size="6.8" dy="-4">-4</tspan></text>
<text x="535.4" y="533.3" font-size="10" fill="#262626" text-anchor="middle">10<tspan font-size="6.8" dy="-4">-3</tspan></text>
<text x="628.4" y="533.3" font-size="10" fill="#262626" text-anchor="middle">10<tspan font-size="6.8" dy="-4">-2</tspan></text>
<text x="502.4" y="545.8" font-size="9.4" text-anchor="middle" fill="#262626" textLength="126" lengthAdjust="spacingAndGlyphs">Normalized frequency (a.u.)</text>
<text transform="translate(329.8,448.6) rotate(-90)" x="0" y="0" font-size="10" text-anchor="middle" fill="#262626" textLength="154" lengthAdjust="spacingAndGlyphs">Normalized spectral intensity (a.u.)</text>
<rect x="605" y="381.4" width="45" height="15.2" fill="#fff" stroke="#333" stroke-width="0.9"/>
<line x1="606" y1="388.9" x2="617" y2="388.9" stroke="#333" stroke-width="1"/>
<line x1="628.5" y1="388.9" x2="639.5" y2="388.9" stroke="#ff1f1f" stroke-width="1"/>
<text x="618.8" y="391.6" font-size="10" fill="#262626">I<tspan font-size="7" dy="2.2">x</tspan></text>
<text x="641.2" y="391.6" font-size="10" fill="#262626">I<tspan font-size="7" dy="2.2">y</tspan></text>
</svg>
</body></html>
